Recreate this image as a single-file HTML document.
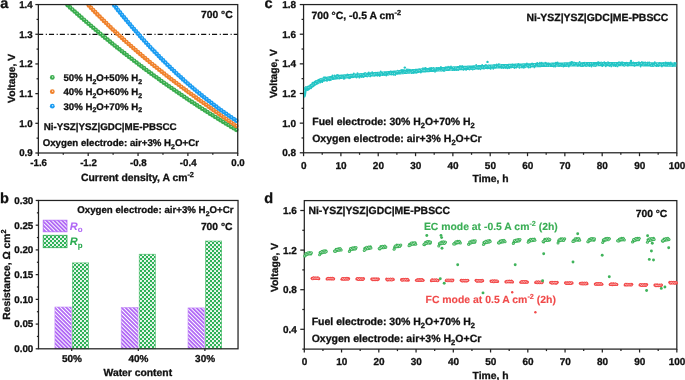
<!DOCTYPE html>
<html><head><meta charset="utf-8"><style>
html,body{margin:0;padding:0;background:#fff;}
svg{display:block;will-change:transform;}
text{font-family:"Liberation Sans", sans-serif;text-rendering:geometricPrecision;}
</style></head><body>
<svg width="685" height="380" viewBox="0 0 685 380" font-family="Liberation Sans, sans-serif">
<rect width="685" height="380" fill="#fff"/>
<line x1="38.08" y1="34.36" x2="237.73" y2="34.36" stroke="#111" stroke-width="1.2" stroke-dasharray="5.1 2.6 1.1 2.07"/>
<g>
<circle cx="67.70" cy="5.30" r="2.3" fill="#3aad4e"/>
<circle cx="70.02" cy="7.40" r="2.3" fill="#3aad4e"/>
<circle cx="72.30" cy="9.44" r="2.3" fill="#3aad4e"/>
<circle cx="74.61" cy="11.52" r="2.3" fill="#3aad4e"/>
<circle cx="76.93" cy="13.58" r="2.3" fill="#3aad4e"/>
<circle cx="79.21" cy="15.59" r="2.3" fill="#3aad4e"/>
<circle cx="81.53" cy="17.63" r="2.3" fill="#3aad4e"/>
<circle cx="83.89" cy="19.69" r="2.3" fill="#3aad4e"/>
<circle cx="86.21" cy="21.70" r="2.3" fill="#3aad4e"/>
<circle cx="88.53" cy="23.71" r="2.3" fill="#3aad4e"/>
<circle cx="90.89" cy="25.73" r="2.3" fill="#3aad4e"/>
<circle cx="93.25" cy="27.75" r="2.3" fill="#3aad4e"/>
<circle cx="95.61" cy="29.75" r="2.3" fill="#3aad4e"/>
<circle cx="97.97" cy="31.74" r="2.3" fill="#3aad4e"/>
<circle cx="100.33" cy="33.71" r="2.3" fill="#3aad4e"/>
<circle cx="102.69" cy="35.68" r="2.3" fill="#3aad4e"/>
<circle cx="105.05" cy="37.63" r="2.3" fill="#3aad4e"/>
<circle cx="107.46" cy="39.61" r="2.3" fill="#3aad4e"/>
<circle cx="109.86" cy="41.58" r="2.3" fill="#3aad4e"/>
<circle cx="112.22" cy="43.49" r="2.3" fill="#3aad4e"/>
<circle cx="114.62" cy="45.43" r="2.3" fill="#3aad4e"/>
<circle cx="117.07" cy="47.40" r="2.3" fill="#3aad4e"/>
<circle cx="119.47" cy="49.31" r="2.3" fill="#3aad4e"/>
<circle cx="121.88" cy="51.22" r="2.3" fill="#3aad4e"/>
<circle cx="124.32" cy="53.15" r="2.3" fill="#3aad4e"/>
<circle cx="126.72" cy="55.03" r="2.3" fill="#3aad4e"/>
<circle cx="129.17" cy="56.93" r="2.3" fill="#3aad4e"/>
<circle cx="131.62" cy="58.82" r="2.3" fill="#3aad4e"/>
<circle cx="134.06" cy="60.70" r="2.3" fill="#3aad4e"/>
<circle cx="136.51" cy="62.57" r="2.3" fill="#3aad4e"/>
<circle cx="138.99" cy="64.46" r="2.3" fill="#3aad4e"/>
<circle cx="141.44" cy="66.30" r="2.3" fill="#3aad4e"/>
<circle cx="143.93" cy="68.17" r="2.3" fill="#3aad4e"/>
<circle cx="146.37" cy="69.99" r="2.3" fill="#3aad4e"/>
<circle cx="148.86" cy="71.83" r="2.3" fill="#3aad4e"/>
<circle cx="151.35" cy="73.66" r="2.3" fill="#3aad4e"/>
<circle cx="153.83" cy="75.48" r="2.3" fill="#3aad4e"/>
<circle cx="156.36" cy="77.32" r="2.3" fill="#3aad4e"/>
<circle cx="158.85" cy="79.12" r="2.3" fill="#3aad4e"/>
<circle cx="161.38" cy="80.93" r="2.3" fill="#3aad4e"/>
<circle cx="163.87" cy="82.70" r="2.3" fill="#3aad4e"/>
<circle cx="166.40" cy="84.50" r="2.3" fill="#3aad4e"/>
<circle cx="168.93" cy="86.28" r="2.3" fill="#3aad4e"/>
<circle cx="171.46" cy="88.05" r="2.3" fill="#3aad4e"/>
<circle cx="173.99" cy="89.81" r="2.3" fill="#3aad4e"/>
<circle cx="176.52" cy="91.55" r="2.3" fill="#3aad4e"/>
<circle cx="179.09" cy="93.32" r="2.3" fill="#3aad4e"/>
<circle cx="181.62" cy="95.04" r="2.3" fill="#3aad4e"/>
<circle cx="184.19" cy="96.79" r="2.3" fill="#3aad4e"/>
<circle cx="186.72" cy="98.49" r="2.3" fill="#3aad4e"/>
<circle cx="189.29" cy="100.21" r="2.3" fill="#3aad4e"/>
<circle cx="191.86" cy="101.92" r="2.3" fill="#3aad4e"/>
<circle cx="194.43" cy="103.62" r="2.3" fill="#3aad4e"/>
<circle cx="197.05" cy="105.33" r="2.3" fill="#3aad4e"/>
<circle cx="199.62" cy="107.01" r="2.3" fill="#3aad4e"/>
<circle cx="202.19" cy="108.68" r="2.3" fill="#3aad4e"/>
<circle cx="204.81" cy="110.36" r="2.3" fill="#3aad4e"/>
<circle cx="207.42" cy="112.04" r="2.3" fill="#3aad4e"/>
<circle cx="210.03" cy="113.70" r="2.3" fill="#3aad4e"/>
<circle cx="212.61" cy="115.32" r="2.3" fill="#3aad4e"/>
<circle cx="215.22" cy="116.96" r="2.3" fill="#3aad4e"/>
<circle cx="217.88" cy="118.62" r="2.3" fill="#3aad4e"/>
<circle cx="220.49" cy="120.24" r="2.3" fill="#3aad4e"/>
<circle cx="223.10" cy="121.85" r="2.3" fill="#3aad4e"/>
<circle cx="225.76" cy="123.48" r="2.3" fill="#3aad4e"/>
<circle cx="228.37" cy="125.07" r="2.3" fill="#3aad4e"/>
<circle cx="231.03" cy="126.68" r="2.3" fill="#3aad4e"/>
<circle cx="233.69" cy="128.27" r="2.3" fill="#3aad4e"/>
<circle cx="236.30" cy="129.83" r="2.3" fill="#3aad4e"/>
<circle cx="67.90" cy="5.00" r="0.55" fill="#fff" fill-opacity="0.7"/>
<circle cx="70.22" cy="7.10" r="0.55" fill="#fff" fill-opacity="0.7"/>
<circle cx="72.50" cy="9.14" r="0.55" fill="#fff" fill-opacity="0.7"/>
<circle cx="74.81" cy="11.22" r="0.55" fill="#fff" fill-opacity="0.7"/>
<circle cx="77.13" cy="13.28" r="0.55" fill="#fff" fill-opacity="0.7"/>
<circle cx="79.41" cy="15.29" r="0.55" fill="#fff" fill-opacity="0.7"/>
<circle cx="81.73" cy="17.33" r="0.55" fill="#fff" fill-opacity="0.7"/>
<circle cx="84.09" cy="19.39" r="0.55" fill="#fff" fill-opacity="0.7"/>
<circle cx="86.41" cy="21.40" r="0.55" fill="#fff" fill-opacity="0.7"/>
<circle cx="88.73" cy="23.41" r="0.55" fill="#fff" fill-opacity="0.7"/>
<circle cx="91.09" cy="25.43" r="0.55" fill="#fff" fill-opacity="0.7"/>
<circle cx="93.45" cy="27.45" r="0.55" fill="#fff" fill-opacity="0.7"/>
<circle cx="95.81" cy="29.45" r="0.55" fill="#fff" fill-opacity="0.7"/>
<circle cx="98.17" cy="31.44" r="0.55" fill="#fff" fill-opacity="0.7"/>
<circle cx="100.53" cy="33.41" r="0.55" fill="#fff" fill-opacity="0.7"/>
<circle cx="102.89" cy="35.38" r="0.55" fill="#fff" fill-opacity="0.7"/>
<circle cx="105.25" cy="37.33" r="0.55" fill="#fff" fill-opacity="0.7"/>
<circle cx="107.66" cy="39.31" r="0.55" fill="#fff" fill-opacity="0.7"/>
<circle cx="110.06" cy="41.28" r="0.55" fill="#fff" fill-opacity="0.7"/>
<circle cx="112.42" cy="43.19" r="0.55" fill="#fff" fill-opacity="0.7"/>
<circle cx="114.82" cy="45.13" r="0.55" fill="#fff" fill-opacity="0.7"/>
<circle cx="117.27" cy="47.10" r="0.55" fill="#fff" fill-opacity="0.7"/>
<circle cx="119.67" cy="49.01" r="0.55" fill="#fff" fill-opacity="0.7"/>
<circle cx="122.08" cy="50.92" r="0.55" fill="#fff" fill-opacity="0.7"/>
<circle cx="124.52" cy="52.85" r="0.55" fill="#fff" fill-opacity="0.7"/>
<circle cx="126.92" cy="54.73" r="0.55" fill="#fff" fill-opacity="0.7"/>
<circle cx="129.37" cy="56.63" r="0.55" fill="#fff" fill-opacity="0.7"/>
<circle cx="131.82" cy="58.52" r="0.55" fill="#fff" fill-opacity="0.7"/>
<circle cx="134.26" cy="60.40" r="0.55" fill="#fff" fill-opacity="0.7"/>
<circle cx="136.71" cy="62.27" r="0.55" fill="#fff" fill-opacity="0.7"/>
<circle cx="139.19" cy="64.16" r="0.55" fill="#fff" fill-opacity="0.7"/>
<circle cx="141.64" cy="66.00" r="0.55" fill="#fff" fill-opacity="0.7"/>
<circle cx="144.13" cy="67.87" r="0.55" fill="#fff" fill-opacity="0.7"/>
<circle cx="146.57" cy="69.69" r="0.55" fill="#fff" fill-opacity="0.7"/>
<circle cx="149.06" cy="71.53" r="0.55" fill="#fff" fill-opacity="0.7"/>
<circle cx="151.55" cy="73.36" r="0.55" fill="#fff" fill-opacity="0.7"/>
<circle cx="154.03" cy="75.18" r="0.55" fill="#fff" fill-opacity="0.7"/>
<circle cx="156.56" cy="77.02" r="0.55" fill="#fff" fill-opacity="0.7"/>
<circle cx="159.05" cy="78.82" r="0.55" fill="#fff" fill-opacity="0.7"/>
<circle cx="161.58" cy="80.63" r="0.55" fill="#fff" fill-opacity="0.7"/>
<circle cx="164.07" cy="82.40" r="0.55" fill="#fff" fill-opacity="0.7"/>
<circle cx="166.60" cy="84.20" r="0.55" fill="#fff" fill-opacity="0.7"/>
<circle cx="169.13" cy="85.98" r="0.55" fill="#fff" fill-opacity="0.7"/>
<circle cx="171.66" cy="87.75" r="0.55" fill="#fff" fill-opacity="0.7"/>
<circle cx="174.19" cy="89.51" r="0.55" fill="#fff" fill-opacity="0.7"/>
<circle cx="176.72" cy="91.25" r="0.55" fill="#fff" fill-opacity="0.7"/>
<circle cx="179.29" cy="93.02" r="0.55" fill="#fff" fill-opacity="0.7"/>
<circle cx="181.82" cy="94.74" r="0.55" fill="#fff" fill-opacity="0.7"/>
<circle cx="184.39" cy="96.49" r="0.55" fill="#fff" fill-opacity="0.7"/>
<circle cx="186.92" cy="98.19" r="0.55" fill="#fff" fill-opacity="0.7"/>
<circle cx="189.49" cy="99.91" r="0.55" fill="#fff" fill-opacity="0.7"/>
<circle cx="192.06" cy="101.62" r="0.55" fill="#fff" fill-opacity="0.7"/>
<circle cx="194.63" cy="103.32" r="0.55" fill="#fff" fill-opacity="0.7"/>
<circle cx="197.25" cy="105.03" r="0.55" fill="#fff" fill-opacity="0.7"/>
<circle cx="199.82" cy="106.71" r="0.55" fill="#fff" fill-opacity="0.7"/>
<circle cx="202.39" cy="108.38" r="0.55" fill="#fff" fill-opacity="0.7"/>
<circle cx="205.01" cy="110.06" r="0.55" fill="#fff" fill-opacity="0.7"/>
<circle cx="207.62" cy="111.74" r="0.55" fill="#fff" fill-opacity="0.7"/>
<circle cx="210.23" cy="113.40" r="0.55" fill="#fff" fill-opacity="0.7"/>
<circle cx="212.81" cy="115.02" r="0.55" fill="#fff" fill-opacity="0.7"/>
<circle cx="215.42" cy="116.66" r="0.55" fill="#fff" fill-opacity="0.7"/>
<circle cx="218.08" cy="118.32" r="0.55" fill="#fff" fill-opacity="0.7"/>
<circle cx="220.69" cy="119.94" r="0.55" fill="#fff" fill-opacity="0.7"/>
<circle cx="223.30" cy="121.55" r="0.55" fill="#fff" fill-opacity="0.7"/>
<circle cx="225.96" cy="123.18" r="0.55" fill="#fff" fill-opacity="0.7"/>
<circle cx="228.57" cy="124.77" r="0.55" fill="#fff" fill-opacity="0.7"/>
<circle cx="231.23" cy="126.38" r="0.55" fill="#fff" fill-opacity="0.7"/>
<circle cx="233.89" cy="127.97" r="0.55" fill="#fff" fill-opacity="0.7"/>
<circle cx="236.50" cy="129.53" r="0.55" fill="#fff" fill-opacity="0.7"/>
<circle cx="88.80" cy="5.52" r="2.3" fill="#f0822c"/>
<circle cx="90.94" cy="7.76" r="2.3" fill="#f0822c"/>
<circle cx="93.08" cy="9.97" r="2.3" fill="#f0822c"/>
<circle cx="95.22" cy="12.17" r="2.3" fill="#f0822c"/>
<circle cx="97.39" cy="14.38" r="2.3" fill="#f0822c"/>
<circle cx="99.57" cy="16.57" r="2.3" fill="#f0822c"/>
<circle cx="101.75" cy="18.74" r="2.3" fill="#f0822c"/>
<circle cx="103.92" cy="20.89" r="2.3" fill="#f0822c"/>
<circle cx="106.14" cy="23.06" r="2.3" fill="#f0822c"/>
<circle cx="108.35" cy="25.20" r="2.3" fill="#f0822c"/>
<circle cx="110.56" cy="27.33" r="2.3" fill="#f0822c"/>
<circle cx="112.77" cy="29.43" r="2.3" fill="#f0822c"/>
<circle cx="115.02" cy="31.56" r="2.3" fill="#f0822c"/>
<circle cx="117.27" cy="33.66" r="2.3" fill="#f0822c"/>
<circle cx="119.52" cy="35.74" r="2.3" fill="#f0822c"/>
<circle cx="121.81" cy="37.84" r="2.3" fill="#f0822c"/>
<circle cx="124.06" cy="39.89" r="2.3" fill="#f0822c"/>
<circle cx="126.35" cy="41.95" r="2.3" fill="#f0822c"/>
<circle cx="128.67" cy="44.02" r="2.3" fill="#f0822c"/>
<circle cx="130.96" cy="46.04" r="2.3" fill="#f0822c"/>
<circle cx="133.28" cy="48.08" r="2.3" fill="#f0822c"/>
<circle cx="135.61" cy="50.10" r="2.3" fill="#f0822c"/>
<circle cx="137.93" cy="52.11" r="2.3" fill="#f0822c"/>
<circle cx="140.25" cy="54.09" r="2.3" fill="#f0822c"/>
<circle cx="142.61" cy="56.09" r="2.3" fill="#f0822c"/>
<circle cx="144.97" cy="58.08" r="2.3" fill="#f0822c"/>
<circle cx="147.34" cy="60.04" r="2.3" fill="#f0822c"/>
<circle cx="149.70" cy="62.00" r="2.3" fill="#f0822c"/>
<circle cx="152.09" cy="63.96" r="2.3" fill="#f0822c"/>
<circle cx="154.45" cy="65.88" r="2.3" fill="#f0822c"/>
<circle cx="156.85" cy="67.82" r="2.3" fill="#f0822c"/>
<circle cx="159.25" cy="69.73" r="2.3" fill="#f0822c"/>
<circle cx="161.68" cy="71.67" r="2.3" fill="#f0822c"/>
<circle cx="164.08" cy="73.56" r="2.3" fill="#f0822c"/>
<circle cx="166.52" cy="75.47" r="2.3" fill="#f0822c"/>
<circle cx="168.95" cy="77.36" r="2.3" fill="#f0822c"/>
<circle cx="171.38" cy="79.24" r="2.3" fill="#f0822c"/>
<circle cx="173.82" cy="81.10" r="2.3" fill="#f0822c"/>
<circle cx="176.29" cy="82.98" r="2.3" fill="#f0822c"/>
<circle cx="178.72" cy="84.82" r="2.3" fill="#f0822c"/>
<circle cx="181.19" cy="86.68" r="2.3" fill="#f0822c"/>
<circle cx="183.67" cy="88.53" r="2.3" fill="#f0822c"/>
<circle cx="186.14" cy="90.36" r="2.3" fill="#f0822c"/>
<circle cx="188.61" cy="92.19" r="2.3" fill="#f0822c"/>
<circle cx="191.08" cy="94.00" r="2.3" fill="#f0822c"/>
<circle cx="193.55" cy="95.80" r="2.3" fill="#f0822c"/>
<circle cx="196.06" cy="97.63" r="2.3" fill="#f0822c"/>
<circle cx="198.53" cy="99.41" r="2.3" fill="#f0822c"/>
<circle cx="201.04" cy="101.22" r="2.3" fill="#f0822c"/>
<circle cx="203.55" cy="103.01" r="2.3" fill="#f0822c"/>
<circle cx="206.05" cy="104.80" r="2.3" fill="#f0822c"/>
<circle cx="208.56" cy="106.58" r="2.3" fill="#f0822c"/>
<circle cx="211.07" cy="108.36" r="2.3" fill="#f0822c"/>
<circle cx="213.58" cy="110.13" r="2.3" fill="#f0822c"/>
<circle cx="216.12" cy="111.91" r="2.3" fill="#f0822c"/>
<circle cx="218.63" cy="113.67" r="2.3" fill="#f0822c"/>
<circle cx="221.14" cy="115.43" r="2.3" fill="#f0822c"/>
<circle cx="223.69" cy="117.20" r="2.3" fill="#f0822c"/>
<circle cx="226.19" cy="118.94" r="2.3" fill="#f0822c"/>
<circle cx="228.74" cy="120.71" r="2.3" fill="#f0822c"/>
<circle cx="231.25" cy="122.45" r="2.3" fill="#f0822c"/>
<circle cx="233.79" cy="124.21" r="2.3" fill="#f0822c"/>
<circle cx="236.30" cy="125.94" r="2.3" fill="#f0822c"/>
<circle cx="89.00" cy="5.22" r="0.55" fill="#fff" fill-opacity="0.7"/>
<circle cx="91.14" cy="7.46" r="0.55" fill="#fff" fill-opacity="0.7"/>
<circle cx="93.28" cy="9.67" r="0.55" fill="#fff" fill-opacity="0.7"/>
<circle cx="95.42" cy="11.87" r="0.55" fill="#fff" fill-opacity="0.7"/>
<circle cx="97.59" cy="14.08" r="0.55" fill="#fff" fill-opacity="0.7"/>
<circle cx="99.77" cy="16.27" r="0.55" fill="#fff" fill-opacity="0.7"/>
<circle cx="101.95" cy="18.44" r="0.55" fill="#fff" fill-opacity="0.7"/>
<circle cx="104.12" cy="20.59" r="0.55" fill="#fff" fill-opacity="0.7"/>
<circle cx="106.34" cy="22.76" r="0.55" fill="#fff" fill-opacity="0.7"/>
<circle cx="108.55" cy="24.90" r="0.55" fill="#fff" fill-opacity="0.7"/>
<circle cx="110.76" cy="27.03" r="0.55" fill="#fff" fill-opacity="0.7"/>
<circle cx="112.97" cy="29.13" r="0.55" fill="#fff" fill-opacity="0.7"/>
<circle cx="115.22" cy="31.26" r="0.55" fill="#fff" fill-opacity="0.7"/>
<circle cx="117.47" cy="33.36" r="0.55" fill="#fff" fill-opacity="0.7"/>
<circle cx="119.72" cy="35.44" r="0.55" fill="#fff" fill-opacity="0.7"/>
<circle cx="122.01" cy="37.54" r="0.55" fill="#fff" fill-opacity="0.7"/>
<circle cx="124.26" cy="39.59" r="0.55" fill="#fff" fill-opacity="0.7"/>
<circle cx="126.55" cy="41.65" r="0.55" fill="#fff" fill-opacity="0.7"/>
<circle cx="128.87" cy="43.72" r="0.55" fill="#fff" fill-opacity="0.7"/>
<circle cx="131.16" cy="45.74" r="0.55" fill="#fff" fill-opacity="0.7"/>
<circle cx="133.48" cy="47.78" r="0.55" fill="#fff" fill-opacity="0.7"/>
<circle cx="135.81" cy="49.80" r="0.55" fill="#fff" fill-opacity="0.7"/>
<circle cx="138.13" cy="51.81" r="0.55" fill="#fff" fill-opacity="0.7"/>
<circle cx="140.45" cy="53.79" r="0.55" fill="#fff" fill-opacity="0.7"/>
<circle cx="142.81" cy="55.79" r="0.55" fill="#fff" fill-opacity="0.7"/>
<circle cx="145.17" cy="57.78" r="0.55" fill="#fff" fill-opacity="0.7"/>
<circle cx="147.54" cy="59.74" r="0.55" fill="#fff" fill-opacity="0.7"/>
<circle cx="149.90" cy="61.70" r="0.55" fill="#fff" fill-opacity="0.7"/>
<circle cx="152.29" cy="63.66" r="0.55" fill="#fff" fill-opacity="0.7"/>
<circle cx="154.65" cy="65.58" r="0.55" fill="#fff" fill-opacity="0.7"/>
<circle cx="157.05" cy="67.52" r="0.55" fill="#fff" fill-opacity="0.7"/>
<circle cx="159.45" cy="69.43" r="0.55" fill="#fff" fill-opacity="0.7"/>
<circle cx="161.88" cy="71.37" r="0.55" fill="#fff" fill-opacity="0.7"/>
<circle cx="164.28" cy="73.26" r="0.55" fill="#fff" fill-opacity="0.7"/>
<circle cx="166.72" cy="75.17" r="0.55" fill="#fff" fill-opacity="0.7"/>
<circle cx="169.15" cy="77.06" r="0.55" fill="#fff" fill-opacity="0.7"/>
<circle cx="171.58" cy="78.94" r="0.55" fill="#fff" fill-opacity="0.7"/>
<circle cx="174.02" cy="80.80" r="0.55" fill="#fff" fill-opacity="0.7"/>
<circle cx="176.49" cy="82.68" r="0.55" fill="#fff" fill-opacity="0.7"/>
<circle cx="178.92" cy="84.52" r="0.55" fill="#fff" fill-opacity="0.7"/>
<circle cx="181.39" cy="86.38" r="0.55" fill="#fff" fill-opacity="0.7"/>
<circle cx="183.87" cy="88.23" r="0.55" fill="#fff" fill-opacity="0.7"/>
<circle cx="186.34" cy="90.06" r="0.55" fill="#fff" fill-opacity="0.7"/>
<circle cx="188.81" cy="91.89" r="0.55" fill="#fff" fill-opacity="0.7"/>
<circle cx="191.28" cy="93.70" r="0.55" fill="#fff" fill-opacity="0.7"/>
<circle cx="193.75" cy="95.50" r="0.55" fill="#fff" fill-opacity="0.7"/>
<circle cx="196.26" cy="97.33" r="0.55" fill="#fff" fill-opacity="0.7"/>
<circle cx="198.73" cy="99.11" r="0.55" fill="#fff" fill-opacity="0.7"/>
<circle cx="201.24" cy="100.92" r="0.55" fill="#fff" fill-opacity="0.7"/>
<circle cx="203.75" cy="102.71" r="0.55" fill="#fff" fill-opacity="0.7"/>
<circle cx="206.25" cy="104.50" r="0.55" fill="#fff" fill-opacity="0.7"/>
<circle cx="208.76" cy="106.28" r="0.55" fill="#fff" fill-opacity="0.7"/>
<circle cx="211.27" cy="108.06" r="0.55" fill="#fff" fill-opacity="0.7"/>
<circle cx="213.78" cy="109.83" r="0.55" fill="#fff" fill-opacity="0.7"/>
<circle cx="216.32" cy="111.61" r="0.55" fill="#fff" fill-opacity="0.7"/>
<circle cx="218.83" cy="113.37" r="0.55" fill="#fff" fill-opacity="0.7"/>
<circle cx="221.34" cy="115.13" r="0.55" fill="#fff" fill-opacity="0.7"/>
<circle cx="223.89" cy="116.90" r="0.55" fill="#fff" fill-opacity="0.7"/>
<circle cx="226.39" cy="118.64" r="0.55" fill="#fff" fill-opacity="0.7"/>
<circle cx="228.94" cy="120.41" r="0.55" fill="#fff" fill-opacity="0.7"/>
<circle cx="231.45" cy="122.15" r="0.55" fill="#fff" fill-opacity="0.7"/>
<circle cx="233.99" cy="123.91" r="0.55" fill="#fff" fill-opacity="0.7"/>
<circle cx="236.50" cy="125.64" r="0.55" fill="#fff" fill-opacity="0.7"/>
<circle cx="114.30" cy="5.41" r="2.3" fill="#1a9cf2"/>
<circle cx="116.22" cy="7.82" r="2.3" fill="#1a9cf2"/>
<circle cx="118.14" cy="10.21" r="2.3" fill="#1a9cf2"/>
<circle cx="120.07" cy="12.58" r="2.3" fill="#1a9cf2"/>
<circle cx="122.02" cy="14.96" r="2.3" fill="#1a9cf2"/>
<circle cx="123.97" cy="17.33" r="2.3" fill="#1a9cf2"/>
<circle cx="125.92" cy="19.67" r="2.3" fill="#1a9cf2"/>
<circle cx="127.91" cy="22.03" r="2.3" fill="#1a9cf2"/>
<circle cx="129.89" cy="24.37" r="2.3" fill="#1a9cf2"/>
<circle cx="131.87" cy="26.68" r="2.3" fill="#1a9cf2"/>
<circle cx="133.89" cy="29.01" r="2.3" fill="#1a9cf2"/>
<circle cx="135.90" cy="31.32" r="2.3" fill="#1a9cf2"/>
<circle cx="137.91" cy="33.61" r="2.3" fill="#1a9cf2"/>
<circle cx="139.96" cy="35.91" r="2.3" fill="#1a9cf2"/>
<circle cx="142.00" cy="38.18" r="2.3" fill="#1a9cf2"/>
<circle cx="144.08" cy="40.47" r="2.3" fill="#1a9cf2"/>
<circle cx="146.12" cy="42.70" r="2.3" fill="#1a9cf2"/>
<circle cx="148.22" cy="44.98" r="2.3" fill="#1a9cf2"/>
<circle cx="150.30" cy="47.20" r="2.3" fill="#1a9cf2"/>
<circle cx="152.40" cy="49.43" r="2.3" fill="#1a9cf2"/>
<circle cx="154.51" cy="51.64" r="2.3" fill="#1a9cf2"/>
<circle cx="156.64" cy="53.85" r="2.3" fill="#1a9cf2"/>
<circle cx="158.78" cy="56.05" r="2.3" fill="#1a9cf2"/>
<circle cx="160.95" cy="58.25" r="2.3" fill="#1a9cf2"/>
<circle cx="163.11" cy="60.42" r="2.3" fill="#1a9cf2"/>
<circle cx="165.28" cy="62.57" r="2.3" fill="#1a9cf2"/>
<circle cx="167.44" cy="64.70" r="2.3" fill="#1a9cf2"/>
<circle cx="169.67" cy="66.87" r="2.3" fill="#1a9cf2"/>
<circle cx="171.87" cy="68.98" r="2.3" fill="#1a9cf2"/>
<circle cx="174.09" cy="71.09" r="2.3" fill="#1a9cf2"/>
<circle cx="176.32" cy="73.18" r="2.3" fill="#1a9cf2"/>
<circle cx="178.58" cy="75.28" r="2.3" fill="#1a9cf2"/>
<circle cx="180.84" cy="77.35" r="2.3" fill="#1a9cf2"/>
<circle cx="183.09" cy="79.39" r="2.3" fill="#1a9cf2"/>
<circle cx="185.38" cy="81.44" r="2.3" fill="#1a9cf2"/>
<circle cx="187.67" cy="83.46" r="2.3" fill="#1a9cf2"/>
<circle cx="189.99" cy="85.48" r="2.3" fill="#1a9cf2"/>
<circle cx="192.31" cy="87.48" r="2.3" fill="#1a9cf2"/>
<circle cx="194.66" cy="89.47" r="2.3" fill="#1a9cf2"/>
<circle cx="197.01" cy="91.44" r="2.3" fill="#1a9cf2"/>
<circle cx="199.36" cy="93.39" r="2.3" fill="#1a9cf2"/>
<circle cx="201.73" cy="95.33" r="2.3" fill="#1a9cf2"/>
<circle cx="204.11" cy="97.25" r="2.3" fill="#1a9cf2"/>
<circle cx="206.52" cy="99.17" r="2.3" fill="#1a9cf2"/>
<circle cx="208.93" cy="101.05" r="2.3" fill="#1a9cf2"/>
<circle cx="211.34" cy="102.92" r="2.3" fill="#1a9cf2"/>
<circle cx="213.79" cy="104.77" r="2.3" fill="#1a9cf2"/>
<circle cx="216.23" cy="106.60" r="2.3" fill="#1a9cf2"/>
<circle cx="218.70" cy="108.43" r="2.3" fill="#1a9cf2"/>
<circle cx="221.17" cy="110.23" r="2.3" fill="#1a9cf2"/>
<circle cx="223.67" cy="112.02" r="2.3" fill="#1a9cf2"/>
<circle cx="226.17" cy="113.79" r="2.3" fill="#1a9cf2"/>
<circle cx="228.67" cy="115.53" r="2.3" fill="#1a9cf2"/>
<circle cx="231.21" cy="117.26" r="2.3" fill="#1a9cf2"/>
<circle cx="233.77" cy="118.98" r="2.3" fill="#1a9cf2"/>
<circle cx="236.30" cy="120.66" r="2.3" fill="#1a9cf2"/>
<circle cx="114.50" cy="5.11" r="0.55" fill="#fff" fill-opacity="0.7"/>
<circle cx="116.42" cy="7.52" r="0.55" fill="#fff" fill-opacity="0.7"/>
<circle cx="118.34" cy="9.91" r="0.55" fill="#fff" fill-opacity="0.7"/>
<circle cx="120.27" cy="12.28" r="0.55" fill="#fff" fill-opacity="0.7"/>
<circle cx="122.22" cy="14.66" r="0.55" fill="#fff" fill-opacity="0.7"/>
<circle cx="124.17" cy="17.03" r="0.55" fill="#fff" fill-opacity="0.7"/>
<circle cx="126.12" cy="19.37" r="0.55" fill="#fff" fill-opacity="0.7"/>
<circle cx="128.11" cy="21.73" r="0.55" fill="#fff" fill-opacity="0.7"/>
<circle cx="130.09" cy="24.07" r="0.55" fill="#fff" fill-opacity="0.7"/>
<circle cx="132.07" cy="26.38" r="0.55" fill="#fff" fill-opacity="0.7"/>
<circle cx="134.09" cy="28.71" r="0.55" fill="#fff" fill-opacity="0.7"/>
<circle cx="136.10" cy="31.02" r="0.55" fill="#fff" fill-opacity="0.7"/>
<circle cx="138.11" cy="33.31" r="0.55" fill="#fff" fill-opacity="0.7"/>
<circle cx="140.16" cy="35.61" r="0.55" fill="#fff" fill-opacity="0.7"/>
<circle cx="142.20" cy="37.88" r="0.55" fill="#fff" fill-opacity="0.7"/>
<circle cx="144.28" cy="40.17" r="0.55" fill="#fff" fill-opacity="0.7"/>
<circle cx="146.32" cy="42.40" r="0.55" fill="#fff" fill-opacity="0.7"/>
<circle cx="148.42" cy="44.68" r="0.55" fill="#fff" fill-opacity="0.7"/>
<circle cx="150.50" cy="46.90" r="0.55" fill="#fff" fill-opacity="0.7"/>
<circle cx="152.60" cy="49.13" r="0.55" fill="#fff" fill-opacity="0.7"/>
<circle cx="154.71" cy="51.34" r="0.55" fill="#fff" fill-opacity="0.7"/>
<circle cx="156.84" cy="53.55" r="0.55" fill="#fff" fill-opacity="0.7"/>
<circle cx="158.98" cy="55.75" r="0.55" fill="#fff" fill-opacity="0.7"/>
<circle cx="161.15" cy="57.95" r="0.55" fill="#fff" fill-opacity="0.7"/>
<circle cx="163.31" cy="60.12" r="0.55" fill="#fff" fill-opacity="0.7"/>
<circle cx="165.48" cy="62.27" r="0.55" fill="#fff" fill-opacity="0.7"/>
<circle cx="167.64" cy="64.40" r="0.55" fill="#fff" fill-opacity="0.7"/>
<circle cx="169.87" cy="66.57" r="0.55" fill="#fff" fill-opacity="0.7"/>
<circle cx="172.07" cy="68.68" r="0.55" fill="#fff" fill-opacity="0.7"/>
<circle cx="174.29" cy="70.79" r="0.55" fill="#fff" fill-opacity="0.7"/>
<circle cx="176.52" cy="72.88" r="0.55" fill="#fff" fill-opacity="0.7"/>
<circle cx="178.78" cy="74.98" r="0.55" fill="#fff" fill-opacity="0.7"/>
<circle cx="181.04" cy="77.05" r="0.55" fill="#fff" fill-opacity="0.7"/>
<circle cx="183.29" cy="79.09" r="0.55" fill="#fff" fill-opacity="0.7"/>
<circle cx="185.58" cy="81.14" r="0.55" fill="#fff" fill-opacity="0.7"/>
<circle cx="187.87" cy="83.16" r="0.55" fill="#fff" fill-opacity="0.7"/>
<circle cx="190.19" cy="85.18" r="0.55" fill="#fff" fill-opacity="0.7"/>
<circle cx="192.51" cy="87.18" r="0.55" fill="#fff" fill-opacity="0.7"/>
<circle cx="194.86" cy="89.17" r="0.55" fill="#fff" fill-opacity="0.7"/>
<circle cx="197.21" cy="91.14" r="0.55" fill="#fff" fill-opacity="0.7"/>
<circle cx="199.56" cy="93.09" r="0.55" fill="#fff" fill-opacity="0.7"/>
<circle cx="201.93" cy="95.03" r="0.55" fill="#fff" fill-opacity="0.7"/>
<circle cx="204.31" cy="96.95" r="0.55" fill="#fff" fill-opacity="0.7"/>
<circle cx="206.72" cy="98.87" r="0.55" fill="#fff" fill-opacity="0.7"/>
<circle cx="209.13" cy="100.75" r="0.55" fill="#fff" fill-opacity="0.7"/>
<circle cx="211.54" cy="102.62" r="0.55" fill="#fff" fill-opacity="0.7"/>
<circle cx="213.99" cy="104.47" r="0.55" fill="#fff" fill-opacity="0.7"/>
<circle cx="216.43" cy="106.30" r="0.55" fill="#fff" fill-opacity="0.7"/>
<circle cx="218.90" cy="108.13" r="0.55" fill="#fff" fill-opacity="0.7"/>
<circle cx="221.37" cy="109.93" r="0.55" fill="#fff" fill-opacity="0.7"/>
<circle cx="223.87" cy="111.72" r="0.55" fill="#fff" fill-opacity="0.7"/>
<circle cx="226.37" cy="113.49" r="0.55" fill="#fff" fill-opacity="0.7"/>
<circle cx="228.87" cy="115.23" r="0.55" fill="#fff" fill-opacity="0.7"/>
<circle cx="231.41" cy="116.96" r="0.55" fill="#fff" fill-opacity="0.7"/>
<circle cx="233.97" cy="118.68" r="0.55" fill="#fff" fill-opacity="0.7"/>
<circle cx="236.50" cy="120.36" r="0.55" fill="#fff" fill-opacity="0.7"/>
</g>
<rect x="38.36" y="0" width="199.37" height="4.57" fill="#fff"/>
<rect x="38.36" y="4.57" width="199.37" height="148.43" fill="none" stroke="#222" stroke-width="1.25"/>
<line x1="35.36" y1="153.00" x2="38.36" y2="153.00" stroke="#222" stroke-width="1.25" />
<text x="32.60" y="156.45" font-size="9.7" font-weight="bold" text-anchor="end" fill="#111" stroke="#111" stroke-width="0.3" >0.9</text>
<line x1="36.56" y1="138.16" x2="38.36" y2="138.16" stroke="#222" stroke-width="1.25" />
<line x1="35.36" y1="123.31" x2="38.36" y2="123.31" stroke="#222" stroke-width="1.25" />
<text x="32.60" y="126.76" font-size="9.7" font-weight="bold" text-anchor="end" fill="#111" stroke="#111" stroke-width="0.3" >1.0</text>
<line x1="36.56" y1="108.47" x2="38.36" y2="108.47" stroke="#222" stroke-width="1.25" />
<line x1="35.36" y1="93.63" x2="38.36" y2="93.63" stroke="#222" stroke-width="1.25" />
<text x="32.60" y="97.08" font-size="9.7" font-weight="bold" text-anchor="end" fill="#111" stroke="#111" stroke-width="0.3" >1.1</text>
<line x1="36.56" y1="78.79" x2="38.36" y2="78.79" stroke="#222" stroke-width="1.25" />
<line x1="35.36" y1="63.94" x2="38.36" y2="63.94" stroke="#222" stroke-width="1.25" />
<text x="32.60" y="67.39" font-size="9.7" font-weight="bold" text-anchor="end" fill="#111" stroke="#111" stroke-width="0.3" >1.2</text>
<line x1="36.56" y1="49.10" x2="38.36" y2="49.10" stroke="#222" stroke-width="1.25" />
<line x1="35.36" y1="34.26" x2="38.36" y2="34.26" stroke="#222" stroke-width="1.25" />
<text x="32.60" y="37.71" font-size="9.7" font-weight="bold" text-anchor="end" fill="#111" stroke="#111" stroke-width="0.3" >1.3</text>
<line x1="36.56" y1="19.41" x2="38.36" y2="19.41" stroke="#222" stroke-width="1.25" />
<line x1="35.36" y1="4.57" x2="38.36" y2="4.57" stroke="#222" stroke-width="1.25" />
<text x="32.60" y="8.02" font-size="9.7" font-weight="bold" text-anchor="end" fill="#111" stroke="#111" stroke-width="0.3" >1.4</text>
<line x1="38.36" y1="153.00" x2="38.36" y2="156.00" stroke="#222" stroke-width="1.25" />
<text x="38.66" y="166.20" font-size="9.7" font-weight="bold" text-anchor="middle" fill="#111" stroke="#111" stroke-width="0.3" >-1.6</text>
<line x1="63.28" y1="153.00" x2="63.28" y2="154.80" stroke="#222" stroke-width="1.25" />
<line x1="88.20" y1="153.00" x2="88.20" y2="156.00" stroke="#222" stroke-width="1.25" />
<text x="88.50" y="166.20" font-size="9.7" font-weight="bold" text-anchor="middle" fill="#111" stroke="#111" stroke-width="0.3" >-1.2</text>
<line x1="113.12" y1="153.00" x2="113.12" y2="154.80" stroke="#222" stroke-width="1.25" />
<line x1="138.05" y1="153.00" x2="138.05" y2="156.00" stroke="#222" stroke-width="1.25" />
<text x="138.35" y="166.20" font-size="9.7" font-weight="bold" text-anchor="middle" fill="#111" stroke="#111" stroke-width="0.3" >-0.8</text>
<line x1="162.97" y1="153.00" x2="162.97" y2="154.80" stroke="#222" stroke-width="1.25" />
<line x1="187.89" y1="153.00" x2="187.89" y2="156.00" stroke="#222" stroke-width="1.25" />
<text x="188.19" y="166.20" font-size="9.7" font-weight="bold" text-anchor="middle" fill="#111" stroke="#111" stroke-width="0.3" >-0.4</text>
<line x1="212.81" y1="153.00" x2="212.81" y2="154.80" stroke="#222" stroke-width="1.25" />
<line x1="237.73" y1="153.00" x2="237.73" y2="156.00" stroke="#222" stroke-width="1.25" />
<text x="238.03" y="166.20" font-size="9.7" font-weight="bold" text-anchor="middle" fill="#111" stroke="#111" stroke-width="0.3" >0.0</text>
<text x="0.30" y="7.80" font-size="14.5" font-weight="bold" text-anchor="start" fill="#111" stroke="#111" stroke-width="0.3" >a</text>
<text x="15.00" y="78.40" font-size="10.3" font-weight="bold" text-anchor="middle" fill="#111" stroke="#111" stroke-width="0.3" transform="rotate(-90 15 78.4)">Voltage, V</text>
<text x="81.00" y="181.20" font-size="10.4" font-weight="bold" text-anchor="start" fill="#111" stroke="#111" stroke-width="0.3" >Current density, A cm<tspan font-size="70%" dy="-4">-2</tspan></text>
<text x="232.60" y="17.80" font-size="10.3" font-weight="bold" text-anchor="end" fill="#111" stroke="#111" stroke-width="0.3" >700 °C</text>
<circle cx="52.3" cy="77.4" r="2.4" fill="#3aad4e"/><circle cx="52.6" cy="77.0" r="0.7" fill="#fff" fill-opacity="0.8"/>
<circle cx="52.3" cy="91.7" r="2.4" fill="#f0822c"/><circle cx="52.6" cy="91.3" r="0.7" fill="#fff" fill-opacity="0.8"/>
<circle cx="52.3" cy="106.2" r="2.4" fill="#1a9cf2"/><circle cx="52.6" cy="105.8" r="0.7" fill="#fff" fill-opacity="0.8"/>
<text x="63.50" y="80.90" font-size="9.65" font-weight="bold" text-anchor="start" fill="#111" stroke="#111" stroke-width="0.3" >50% H<tspan font-size="72%" dy="2.8">2</tspan><tspan dy="-2.8">O</tspan>+50% H<tspan font-size="72%" dy="2.8">2</tspan></text>
<text x="63.50" y="95.10" font-size="9.65" font-weight="bold" text-anchor="start" fill="#111" stroke="#111" stroke-width="0.3" >40% H<tspan font-size="72%" dy="2.8">2</tspan><tspan dy="-2.8">O</tspan>+60% H<tspan font-size="72%" dy="2.8">2</tspan></text>
<text x="63.50" y="109.60" font-size="9.65" font-weight="bold" text-anchor="start" fill="#111" stroke="#111" stroke-width="0.3" >30% H<tspan font-size="72%" dy="2.8">2</tspan><tspan dy="-2.8">O</tspan>+70% H<tspan font-size="72%" dy="2.8">2</tspan></text>
<text x="43.80" y="130.30" font-size="9.76" font-weight="bold" text-anchor="start" fill="#111" stroke="#111" stroke-width="0.3" >Ni-YSZ|YSZ|GDC|ME-PBSCC</text>
<text x="42.70" y="146.40" font-size="9.7" font-weight="bold" text-anchor="start" fill="#111" stroke="#111" stroke-width="0.3" >Oxygen electrode: air+3% H<tspan font-size="72%" dy="2.8">2</tspan><tspan dy="-2.8">O</tspan>+Cr</text>
<defs>
<pattern id="pstripe" patternUnits="userSpaceOnUse" width="2.78" height="2.78" patternTransform="rotate(-45)">
<rect width="2.78" height="2.78" fill="#b169f5"/><rect x="0" y="0" width="0.95" height="2.78" fill="#fff"/></pattern>
<pattern id="gcross" patternUnits="userSpaceOnUse" x="0" y="0" width="4" height="4">
<rect width="4" height="4" fill="#2db157"/><circle cx="1" cy="1" r="1.05" fill="#fff"/><circle cx="3" cy="3" r="1.05" fill="#fff"/></pattern>
</defs>
<rect x="54.9" y="307.0" width="16.40" height="41.80" fill="url(#pstripe)" stroke="#c690f7" stroke-width="0.6"/>
<rect x="72.39999999999999" y="262.90000000000003" width="16.30" height="85.90" fill="url(#gcross)" stroke="#4cbd6c" stroke-width="0.6"/>
<rect x="121.2" y="307.4" width="16.80" height="41.40" fill="url(#pstripe)" stroke="#c690f7" stroke-width="0.6"/>
<rect x="139.20000000000002" y="254.20000000000002" width="16.10" height="94.60" fill="url(#gcross)" stroke="#4cbd6c" stroke-width="0.6"/>
<rect x="188.0" y="307.9" width="16.30" height="40.90" fill="url(#pstripe)" stroke="#c690f7" stroke-width="0.6"/>
<rect x="205.5" y="241.0" width="16.20" height="107.80" fill="url(#gcross)" stroke="#4cbd6c" stroke-width="0.6"/>
<rect x="38.50" y="200.47" width="199.54" height="148.33" fill="none" stroke="#222" stroke-width="1.25"/>
<line x1="35.70" y1="348.80" x2="38.50" y2="348.80" stroke="#222" stroke-width="1.25" />
<text x="33.30" y="352.20" font-size="9.8" font-weight="bold" text-anchor="end" fill="#111" stroke="#111" stroke-width="0.3" >0.00</text>
<line x1="36.90" y1="336.44" x2="38.50" y2="336.44" stroke="#222" stroke-width="1.25" />
<line x1="35.70" y1="324.08" x2="38.50" y2="324.08" stroke="#222" stroke-width="1.25" />
<text x="33.30" y="327.48" font-size="9.8" font-weight="bold" text-anchor="end" fill="#111" stroke="#111" stroke-width="0.3" >0.05</text>
<line x1="36.90" y1="311.72" x2="38.50" y2="311.72" stroke="#222" stroke-width="1.25" />
<line x1="35.70" y1="299.36" x2="38.50" y2="299.36" stroke="#222" stroke-width="1.25" />
<text x="33.30" y="302.76" font-size="9.8" font-weight="bold" text-anchor="end" fill="#111" stroke="#111" stroke-width="0.3" >0.10</text>
<line x1="36.90" y1="287.00" x2="38.50" y2="287.00" stroke="#222" stroke-width="1.25" />
<line x1="35.70" y1="274.63" x2="38.50" y2="274.63" stroke="#222" stroke-width="1.25" />
<text x="33.30" y="278.03" font-size="9.8" font-weight="bold" text-anchor="end" fill="#111" stroke="#111" stroke-width="0.3" >0.15</text>
<line x1="36.90" y1="262.27" x2="38.50" y2="262.27" stroke="#222" stroke-width="1.25" />
<line x1="35.70" y1="249.91" x2="38.50" y2="249.91" stroke="#222" stroke-width="1.25" />
<text x="33.30" y="253.31" font-size="9.8" font-weight="bold" text-anchor="end" fill="#111" stroke="#111" stroke-width="0.3" >0.20</text>
<line x1="36.90" y1="237.55" x2="38.50" y2="237.55" stroke="#222" stroke-width="1.25" />
<line x1="35.70" y1="225.19" x2="38.50" y2="225.19" stroke="#222" stroke-width="1.25" />
<text x="33.30" y="228.59" font-size="9.8" font-weight="bold" text-anchor="end" fill="#111" stroke="#111" stroke-width="0.3" >0.25</text>
<line x1="36.90" y1="212.83" x2="38.50" y2="212.83" stroke="#222" stroke-width="1.25" />
<line x1="35.70" y1="200.47" x2="38.50" y2="200.47" stroke="#222" stroke-width="1.25" />
<text x="33.30" y="203.87" font-size="9.8" font-weight="bold" text-anchor="end" fill="#111" stroke="#111" stroke-width="0.3" >0.30</text>
<line x1="71.70" y1="348.80" x2="71.70" y2="351.00" stroke="#222" stroke-width="1.25" />
<text x="71.90" y="362.20" font-size="10.0" font-weight="bold" text-anchor="middle" fill="#111" stroke="#111" stroke-width="0.3" >50%</text>
<line x1="138.30" y1="348.80" x2="138.30" y2="351.00" stroke="#222" stroke-width="1.25" />
<text x="138.50" y="362.20" font-size="10.0" font-weight="bold" text-anchor="middle" fill="#111" stroke="#111" stroke-width="0.3" >40%</text>
<line x1="204.90" y1="348.80" x2="204.90" y2="351.00" stroke="#222" stroke-width="1.25" />
<text x="205.10" y="362.20" font-size="10.0" font-weight="bold" text-anchor="middle" fill="#111" stroke="#111" stroke-width="0.3" >30%</text>
<text x="0.00" y="202.60" font-size="14.5" font-weight="bold" text-anchor="start" fill="#111" stroke="#111" stroke-width="0.3" >b</text>
<text x="10.20" y="274.60" font-size="10.3" font-weight="bold" text-anchor="middle" fill="#111" stroke="#111" stroke-width="0.3" transform="rotate(-90 10.2 274.6)">Resistance, Ω cm<tspan font-size="70%" dy="-4">2</tspan></text>
<text x="103.50" y="375.60" font-size="10.35" font-weight="bold" text-anchor="start" fill="#111" stroke="#111" stroke-width="0.3" >Water content</text>
<text x="233.50" y="212.90" font-size="9.7" font-weight="bold" text-anchor="end" fill="#111" stroke="#111" stroke-width="0.3" >Oxygen electrode: air+3% H<tspan font-size="72%" dy="2.8">2</tspan><tspan dy="-2.8">O</tspan>+Cr</text>
<text x="232.50" y="229.50" font-size="10.3" font-weight="bold" text-anchor="end" fill="#111" stroke="#111" stroke-width="0.3" >700 °C</text>
<rect x="43.2" y="220.2" width="23.8" height="11.6" fill="url(#pstripe)" stroke="#b169f5" stroke-width="0.8"/>
<rect x="43.2" y="235.3" width="23.8" height="12.4" fill="url(#gcross)" stroke="#2aaa4f" stroke-width="0.8"/>
<text x="69.80" y="229.50" font-size="11.0" font-weight="bold" text-anchor="start" fill="#b169f5" stroke="#b169f5" stroke-width="0.05" ><tspan font-style="italic">R</tspan><tspan font-size="72%" dy="2.6">o</tspan></text>
<text x="69.80" y="245.00" font-size="11.0" font-weight="bold" text-anchor="start" fill="#2aaa4f" stroke="#2aaa4f" stroke-width="0.05" ><tspan font-style="italic">R</tspan><tspan font-size="72%" dy="2.6">p</tspan></text>
<rect x="303.57" y="4.57" width="373.26" height="148.21" fill="none" stroke="#222" stroke-width="1.25"/>
<line x1="299.77" y1="152.78" x2="303.57" y2="152.78" stroke="#222" stroke-width="1.25" />
<text x="296.20" y="156.28" font-size="10.0" font-weight="bold" text-anchor="end" fill="#111" stroke="#111" stroke-width="0.3" >0.8</text>
<line x1="301.57" y1="137.96" x2="303.57" y2="137.96" stroke="#222" stroke-width="1.25" />
<line x1="299.77" y1="123.14" x2="303.57" y2="123.14" stroke="#222" stroke-width="1.25" />
<text x="296.20" y="126.64" font-size="10.0" font-weight="bold" text-anchor="end" fill="#111" stroke="#111" stroke-width="0.3" >1.0</text>
<line x1="301.57" y1="108.32" x2="303.57" y2="108.32" stroke="#222" stroke-width="1.25" />
<line x1="299.77" y1="93.50" x2="303.57" y2="93.50" stroke="#222" stroke-width="1.25" />
<text x="296.20" y="97.00" font-size="10.0" font-weight="bold" text-anchor="end" fill="#111" stroke="#111" stroke-width="0.3" >1.2</text>
<line x1="301.57" y1="78.67" x2="303.57" y2="78.67" stroke="#222" stroke-width="1.25" />
<line x1="299.77" y1="63.85" x2="303.57" y2="63.85" stroke="#222" stroke-width="1.25" />
<text x="296.20" y="67.35" font-size="10.0" font-weight="bold" text-anchor="end" fill="#111" stroke="#111" stroke-width="0.3" >1.4</text>
<line x1="301.57" y1="49.03" x2="303.57" y2="49.03" stroke="#222" stroke-width="1.25" />
<line x1="299.77" y1="34.21" x2="303.57" y2="34.21" stroke="#222" stroke-width="1.25" />
<text x="296.20" y="37.71" font-size="10.0" font-weight="bold" text-anchor="end" fill="#111" stroke="#111" stroke-width="0.3" >1.6</text>
<line x1="301.57" y1="19.39" x2="303.57" y2="19.39" stroke="#222" stroke-width="1.25" />
<line x1="299.77" y1="4.57" x2="303.57" y2="4.57" stroke="#222" stroke-width="1.25" />
<text x="296.20" y="8.07" font-size="10.0" font-weight="bold" text-anchor="end" fill="#111" stroke="#111" stroke-width="0.3" >1.8</text>
<line x1="303.57" y1="152.78" x2="303.57" y2="156.18" stroke="#222" stroke-width="1.25" />
<text x="303.77" y="169.00" font-size="10.0" font-weight="bold" text-anchor="middle" fill="#111" stroke="#111" stroke-width="0.3" >0</text>
<line x1="322.23" y1="152.78" x2="322.23" y2="154.78" stroke="#222" stroke-width="1.25" />
<line x1="340.90" y1="152.78" x2="340.90" y2="156.18" stroke="#222" stroke-width="1.25" />
<text x="341.10" y="169.00" font-size="10.0" font-weight="bold" text-anchor="middle" fill="#111" stroke="#111" stroke-width="0.3" >10</text>
<line x1="359.56" y1="152.78" x2="359.56" y2="154.78" stroke="#222" stroke-width="1.25" />
<line x1="378.22" y1="152.78" x2="378.22" y2="156.18" stroke="#222" stroke-width="1.25" />
<text x="378.42" y="169.00" font-size="10.0" font-weight="bold" text-anchor="middle" fill="#111" stroke="#111" stroke-width="0.3" >20</text>
<line x1="396.88" y1="152.78" x2="396.88" y2="154.78" stroke="#222" stroke-width="1.25" />
<line x1="415.55" y1="152.78" x2="415.55" y2="156.18" stroke="#222" stroke-width="1.25" />
<text x="415.75" y="169.00" font-size="10.0" font-weight="bold" text-anchor="middle" fill="#111" stroke="#111" stroke-width="0.3" >30</text>
<line x1="434.21" y1="152.78" x2="434.21" y2="154.78" stroke="#222" stroke-width="1.25" />
<line x1="452.87" y1="152.78" x2="452.87" y2="156.18" stroke="#222" stroke-width="1.25" />
<text x="453.07" y="169.00" font-size="10.0" font-weight="bold" text-anchor="middle" fill="#111" stroke="#111" stroke-width="0.3" >40</text>
<line x1="471.54" y1="152.78" x2="471.54" y2="154.78" stroke="#222" stroke-width="1.25" />
<line x1="490.20" y1="152.78" x2="490.20" y2="156.18" stroke="#222" stroke-width="1.25" />
<text x="490.40" y="169.00" font-size="10.0" font-weight="bold" text-anchor="middle" fill="#111" stroke="#111" stroke-width="0.3" >50</text>
<line x1="508.86" y1="152.78" x2="508.86" y2="154.78" stroke="#222" stroke-width="1.25" />
<line x1="527.53" y1="152.78" x2="527.53" y2="156.18" stroke="#222" stroke-width="1.25" />
<text x="527.73" y="169.00" font-size="10.0" font-weight="bold" text-anchor="middle" fill="#111" stroke="#111" stroke-width="0.3" >60</text>
<line x1="546.19" y1="152.78" x2="546.19" y2="154.78" stroke="#222" stroke-width="1.25" />
<line x1="564.85" y1="152.78" x2="564.85" y2="156.18" stroke="#222" stroke-width="1.25" />
<text x="565.05" y="169.00" font-size="10.0" font-weight="bold" text-anchor="middle" fill="#111" stroke="#111" stroke-width="0.3" >70</text>
<line x1="583.52" y1="152.78" x2="583.52" y2="154.78" stroke="#222" stroke-width="1.25" />
<line x1="602.18" y1="152.78" x2="602.18" y2="156.18" stroke="#222" stroke-width="1.25" />
<text x="602.38" y="169.00" font-size="10.0" font-weight="bold" text-anchor="middle" fill="#111" stroke="#111" stroke-width="0.3" >80</text>
<line x1="620.84" y1="152.78" x2="620.84" y2="154.78" stroke="#222" stroke-width="1.25" />
<line x1="639.50" y1="152.78" x2="639.50" y2="156.18" stroke="#222" stroke-width="1.25" />
<text x="639.70" y="169.00" font-size="10.0" font-weight="bold" text-anchor="middle" fill="#111" stroke="#111" stroke-width="0.3" >90</text>
<line x1="658.17" y1="152.78" x2="658.17" y2="154.78" stroke="#222" stroke-width="1.25" />
<line x1="676.83" y1="152.78" x2="676.83" y2="156.18" stroke="#222" stroke-width="1.25" />
<text x="677.03" y="169.00" font-size="10.0" font-weight="bold" text-anchor="middle" fill="#111" stroke="#111" stroke-width="0.3" >100</text>
<text x="264.40" y="7.90" font-size="14.5" font-weight="bold" text-anchor="start" fill="#111" stroke="#111" stroke-width="0.3" >c</text>
<text x="277.20" y="73.60" font-size="10.3" font-weight="bold" text-anchor="middle" fill="#111" stroke="#111" stroke-width="0.3" transform="rotate(-90 277.2 73.6)">Voltage, V</text>
<text x="472.50" y="182.20" font-size="10.35" font-weight="bold" text-anchor="start" fill="#111" stroke="#111" stroke-width="0.3" >Time, h</text>
<text x="311.40" y="19.00" font-size="10.4" font-weight="bold" text-anchor="start" fill="#111" stroke="#111" stroke-width="0.3" >700 °C, -0.5 A cm<tspan font-size="70%" dy="-4">-2</tspan></text>
<text x="668.40" y="20.90" font-size="10.43" font-weight="bold" text-anchor="end" fill="#111" stroke="#111" stroke-width="0.3" >Ni-YSZ|YSZ|GDC|ME-PBSCC</text>
<text x="312.30" y="124.90" font-size="10.45" font-weight="bold" text-anchor="start" fill="#111" stroke="#111" stroke-width="0.3" >Fuel electrode: 30% H<tspan font-size="72%" dy="2.8">2</tspan><tspan dy="-2.8">O</tspan>+70% H<tspan font-size="72%" dy="2.8">2</tspan></text>
<text x="312.20" y="142.00" font-size="10.5" font-weight="bold" text-anchor="start" fill="#111" stroke="#111" stroke-width="0.3" >Oxygen electrode: air+3% H<tspan font-size="72%" dy="2.8">2</tspan><tspan dy="-2.8">O</tspan>+Cr</text>
<defs><clipPath id="cclip"><rect x="304.07" y="4.57" width="372.26000000000005" height="148.21"/></clipPath></defs><g clip-path="url(#cclip)">
<path d="M303.8,95.50 L304.4,91.19 L305.0,89.30 L305.6,89.06 L306.2,88.82 L306.8,88.58 L307.4,88.30 L308.0,88.00 L308.6,87.70 L309.2,87.40 L309.8,87.10 L310.4,86.71 L311.0,86.28 L311.6,85.85 L312.2,85.42 L312.8,84.98 L313.4,84.55 L314.0,84.12 L314.6,83.69 L315.2,83.28 L315.8,82.94 L316.4,82.59 L317.0,82.24 L317.6,81.89 L318.2,81.54 L318.8,81.20 L319.4,80.85 L320.0,80.50 L320.6,80.34 L321.2,80.19 L321.8,80.03 L322.4,79.88 L323.0,79.72 L323.6,79.56 L324.2,79.41 L324.8,79.25 L325.4,79.12 L326.0,79.00 L326.6,78.88 L327.2,78.76 L327.8,78.64 L328.4,78.52 L329.0,78.40 L329.6,78.28 L330.2,78.17 L330.8,78.09 L331.4,78.00 L332.0,77.92 L332.6,77.84 L333.2,77.75 L333.8,77.67 L334.4,77.58 L335.0,77.50 L335.6,77.42 L336.2,77.33 L336.8,77.25 L337.4,77.16 L338.0,77.08 L338.6,77.00 L339.2,76.91 L339.8,76.83 L340.4,76.77 L341.0,76.72 L341.6,76.68 L342.2,76.63 L342.8,76.59 L343.4,76.54 L344.0,76.50 L344.6,76.45 L345.2,76.41 L345.8,76.36 L346.4,76.32 L347.0,76.27 L347.6,76.23 L348.2,76.18 L348.8,76.14 L349.4,76.09 L350.0,76.05 L350.6,76.00 L351.2,75.96 L351.8,75.91 L352.4,75.87 L353.0,75.82 L353.6,75.78 L354.2,75.73 L354.8,75.69 L355.4,75.64 L356.0,75.60 L356.6,75.55 L357.2,75.51 L357.8,75.46 L358.4,75.42 L359.0,75.37 L359.6,75.33 L360.2,75.28 L360.8,75.24 L361.4,75.19 L362.0,75.15 L362.6,75.10 L363.2,75.06 L363.8,75.01 L364.4,74.97 L365.0,74.92 L365.6,74.88 L366.2,74.83 L366.8,74.79 L367.4,74.74 L368.0,74.70 L368.6,74.65 L369.2,74.61 L369.8,74.56 L370.4,74.52 L371.0,74.47 L371.6,74.43 L372.2,74.38 L372.8,74.34 L373.4,74.29 L374.0,74.25 L374.6,74.20 L375.2,74.16 L375.8,74.11 L376.4,74.07 L377.0,74.02 L377.6,73.98 L378.2,73.93 L378.8,73.89 L379.4,73.84 L380.0,73.80 L380.6,73.75 L381.2,73.71 L381.8,73.66 L382.4,73.62 L383.0,73.57 L383.6,73.53 L384.2,73.48 L384.8,73.44 L385.4,73.39 L386.0,73.35 L386.6,73.30 L387.2,73.26 L387.8,73.21 L388.4,73.17 L389.0,73.12 L389.6,73.08 L390.2,73.03 L390.8,72.99 L391.4,72.94 L392.0,72.90 L392.6,72.85 L393.2,72.81 L393.8,72.76 L394.4,72.72 L395.0,72.67 L395.6,72.63 L396.2,72.58 L396.8,72.54 L397.4,72.49 L398.0,72.45 L398.6,72.40 L399.2,72.36 L399.8,72.31 L400.4,72.27 L401.0,72.21 L401.6,72.16 L402.2,72.11 L402.8,72.06 L403.4,72.01 L404.0,71.96 L404.6,71.91 L405.2,71.86 L405.8,71.81 L406.4,71.76 L407.0,71.70 L407.6,71.65 L408.2,71.60 L408.8,71.55 L409.4,71.50 L410.0,71.45 L410.6,71.40 L411.2,71.35 L411.8,71.30 L412.4,71.25 L413.0,71.19 L413.6,71.14 L414.2,71.09 L414.8,71.04 L415.4,70.99 L416.0,70.94 L416.6,70.89 L417.2,70.84 L417.8,70.79 L418.4,70.74 L419.0,70.68 L419.6,70.63 L420.2,70.59 L420.8,70.55 L421.4,70.51 L422.0,70.47 L422.6,70.43 L423.2,70.39 L423.8,70.35 L424.4,70.31 L425.0,70.27 L425.6,70.24 L426.2,70.20 L426.8,70.16 L427.4,70.12 L428.0,70.08 L428.6,70.04 L429.2,70.00 L429.8,69.96 L430.4,69.92 L431.0,69.88 L431.6,69.85 L432.2,69.81 L432.8,69.77 L433.4,69.73 L434.0,69.69 L434.6,69.65 L435.2,69.61 L435.8,69.57 L436.4,69.53 L437.0,69.49 L437.6,69.46 L438.2,69.42 L438.8,69.38 L439.4,69.34 L440.0,69.30 L440.6,69.26 L441.2,69.23 L441.8,69.19 L442.4,69.16 L443.0,69.12 L443.6,69.08 L444.2,69.05 L444.8,69.01 L445.4,68.98 L446.0,68.94 L446.6,68.90 L447.2,68.87 L447.8,68.83 L448.4,68.80 L449.0,68.76 L449.6,68.72 L450.2,68.69 L450.8,68.65 L451.4,68.62 L452.0,68.58 L452.6,68.54 L453.2,68.51 L453.8,68.47 L454.4,68.44 L455.0,68.40 L455.6,68.36 L456.2,68.33 L456.8,68.29 L457.4,68.26 L458.0,68.22 L458.6,68.18 L459.2,68.15 L459.8,68.11 L460.4,68.08 L461.0,68.05 L461.6,68.03 L462.2,68.00 L462.8,67.97 L463.4,67.95 L464.0,67.92 L464.6,67.89 L465.2,67.87 L465.8,67.84 L466.4,67.81 L467.0,67.78 L467.6,67.76 L468.2,67.73 L468.8,67.70 L469.4,67.68 L470.0,67.65 L470.6,67.62 L471.2,67.60 L471.8,67.57 L472.4,67.54 L473.0,67.51 L473.6,67.49 L474.2,67.46 L474.8,67.43 L475.4,67.41 L476.0,67.38 L476.6,67.35 L477.2,67.33 L477.8,67.30 L478.4,67.27 L479.0,67.24 L479.6,67.22 L480.2,67.19 L480.8,67.16 L481.4,67.14 L482.0,67.11 L482.6,67.08 L483.2,67.06 L483.8,67.03 L484.4,67.00 L485.0,66.97 L485.6,66.95 L486.2,66.92 L486.8,66.89 L487.4,66.87 L488.0,66.84 L488.6,66.81 L489.2,66.79 L489.8,66.76 L490.4,66.73 L491.0,66.70 L491.6,66.68 L492.2,66.65 L492.8,66.62 L493.4,66.60 L494.0,66.57 L494.6,66.54 L495.2,66.52 L495.8,66.49 L496.4,66.46 L497.0,66.43 L497.6,66.41 L498.2,66.38 L498.8,66.35 L499.4,66.33 L500.0,66.30 L500.6,66.28 L501.2,66.26 L501.8,66.24 L502.4,66.22 L503.0,66.19 L503.6,66.17 L504.2,66.15 L504.8,66.13 L505.4,66.11 L506.0,66.09 L506.6,66.07 L507.2,66.05 L507.8,66.03 L508.4,66.01 L509.0,65.98 L509.6,65.96 L510.2,65.94 L510.8,65.92 L511.4,65.90 L512.0,65.88 L512.6,65.86 L513.2,65.84 L513.8,65.82 L514.4,65.80 L515.0,65.77 L515.6,65.75 L516.2,65.73 L516.8,65.71 L517.4,65.69 L518.0,65.67 L518.6,65.65 L519.2,65.63 L519.8,65.61 L520.4,65.59 L521.0,65.57 L521.6,65.55 L522.2,65.53 L522.8,65.52 L523.4,65.50 L524.0,65.48 L524.6,65.46 L525.2,65.44 L525.8,65.43 L526.4,65.41 L527.0,65.39 L527.6,65.37 L528.2,65.35 L528.8,65.34 L529.4,65.32 L530.0,65.30 L530.6,65.28 L531.2,65.26 L531.8,65.25 L532.4,65.23 L533.0,65.21 L533.6,65.19 L534.2,65.17 L534.8,65.16 L535.4,65.14 L536.0,65.12 L536.6,65.10 L537.2,65.08 L537.8,65.07 L538.4,65.05 L539.0,65.03 L539.6,65.01 L540.2,65.00 L540.8,64.98 L541.4,64.97 L542.0,64.96 L542.6,64.95 L543.2,64.94 L543.8,64.92 L544.4,64.91 L545.0,64.90 L545.6,64.89 L546.2,64.88 L546.8,64.86 L547.4,64.85 L548.0,64.84 L548.6,64.83 L549.2,64.82 L549.8,64.80 L550.4,64.79 L551.0,64.78 L551.6,64.77 L552.2,64.76 L552.8,64.74 L553.4,64.73 L554.0,64.72 L554.6,64.71 L555.2,64.70 L555.8,64.68 L556.4,64.67 L557.0,64.66 L557.6,64.65 L558.2,64.64 L558.8,64.62 L559.4,64.61 L560.0,64.60 L560.6,64.59 L561.2,64.58 L561.8,64.56 L562.4,64.55 L563.0,64.54 L563.6,64.53 L564.2,64.52 L564.8,64.50 L565.4,64.49 L566.0,64.48 L566.6,64.47 L567.2,64.46 L567.8,64.44 L568.4,64.43 L569.0,64.42 L569.6,64.41 L570.2,64.40 L570.8,64.39 L571.4,64.39 L572.0,64.38 L572.6,64.37 L573.2,64.37 L573.8,64.36 L574.4,64.36 L575.0,64.35 L575.6,64.34 L576.2,64.34 L576.8,64.33 L577.4,64.33 L578.0,64.32 L578.6,64.31 L579.2,64.31 L579.8,64.30 L580.4,64.30 L581.0,64.29 L581.6,64.28 L582.2,64.28 L582.8,64.27 L583.4,64.27 L584.0,64.26 L584.6,64.25 L585.2,64.25 L585.8,64.24 L586.4,64.24 L587.0,64.23 L587.6,64.22 L588.2,64.22 L588.8,64.21 L589.4,64.21 L590.0,64.20 L590.6,64.19 L591.2,64.19 L591.8,64.18 L592.4,64.18 L593.0,64.17 L593.6,64.16 L594.2,64.16 L594.8,64.15 L595.4,64.15 L596.0,64.14 L596.6,64.13 L597.2,64.13 L597.8,64.12 L598.4,64.12 L599.0,64.11 L599.6,64.10 L600.2,64.10 L600.8,64.10 L601.4,64.10 L602.0,64.11 L602.6,64.11 L603.2,64.11 L603.8,64.11 L604.4,64.11 L605.0,64.11 L605.6,64.11 L606.2,64.12 L606.8,64.12 L607.4,64.12 L608.0,64.12 L608.6,64.12 L609.2,64.12 L609.8,64.12 L610.4,64.13 L611.0,64.13 L611.6,64.13 L612.2,64.13 L612.8,64.13 L613.4,64.13 L614.0,64.14 L614.6,64.14 L615.2,64.14 L615.8,64.14 L616.4,64.14 L617.0,64.14 L617.6,64.14 L618.2,64.15 L618.8,64.15 L619.4,64.15 L620.0,64.15 L620.6,64.15 L621.2,64.15 L621.8,64.15 L622.4,64.16 L623.0,64.16 L623.6,64.16 L624.2,64.16 L624.8,64.16 L625.4,64.16 L626.0,64.17 L626.6,64.17 L627.2,64.17 L627.8,64.17 L628.4,64.17 L629.0,64.17 L629.6,64.17 L630.2,64.18 L630.8,64.18 L631.4,64.18 L632.0,64.18 L632.6,64.18 L633.2,64.18 L633.8,64.18 L634.4,64.19 L635.0,64.19 L635.6,64.19 L636.2,64.19 L636.8,64.19 L637.4,64.19 L638.0,64.20 L638.6,64.20 L639.2,64.20 L639.8,64.20 L640.4,64.20 L641.0,64.21 L641.6,64.22 L642.2,64.22 L642.8,64.23 L643.4,64.24 L644.0,64.24 L644.6,64.25 L645.2,64.26 L645.8,64.26 L646.4,64.27 L647.0,64.28 L647.6,64.28 L648.2,64.29 L648.8,64.30 L649.4,64.30 L650.0,64.31 L650.6,64.32 L651.2,64.32 L651.8,64.33 L652.4,64.34 L653.0,64.34 L653.6,64.35 L654.2,64.36 L654.8,64.36 L655.4,64.37 L656.0,64.38 L656.6,64.38 L657.2,64.39 L657.8,64.40 L658.4,64.40 L659.0,64.41 L659.6,64.42 L660.2,64.42 L660.8,64.43 L661.4,64.44 L662.0,64.44 L662.6,64.45 L663.2,64.46 L663.8,64.46 L664.4,64.47 L665.0,64.48 L665.6,64.48 L666.2,64.49 L666.8,64.50 L667.4,64.50 L668.0,64.51 L668.6,64.52 L669.2,64.52 L669.8,64.53 L670.4,64.54 L671.0,64.54 L671.6,64.55 L672.2,64.56 L672.8,64.56 L673.4,64.57 L674.0,64.58 L674.6,64.58 L675.2,64.59 L675.8,64.60 L676.4,64.60" fill="none" stroke="#22c5c5" stroke-width="4.3" stroke-linecap="round" stroke-linejoin="round"/>
<circle cx="303.5" cy="93.7" r="0.9" fill="#22c5c5"/>
<circle cx="305.7" cy="87.1" r="0.9" fill="#22c5c5"/>
<circle cx="307.8" cy="90.0" r="0.9" fill="#22c5c5"/>
<circle cx="308.9" cy="89.3" r="0.9" fill="#22c5c5"/>
<circle cx="311.0" cy="88.3" r="0.9" fill="#22c5c5"/>
<circle cx="312.5" cy="82.7" r="0.9" fill="#22c5c5"/>
<circle cx="314.6" cy="81.6" r="0.9" fill="#22c5c5"/>
<circle cx="316.0" cy="80.9" r="0.9" fill="#22c5c5"/>
<circle cx="317.7" cy="83.4" r="0.9" fill="#22c5c5"/>
<circle cx="320.2" cy="82.6" r="0.9" fill="#22c5c5"/>
<circle cx="322.2" cy="82.2" r="0.9" fill="#22c5c5"/>
<circle cx="323.7" cy="77.3" r="0.9" fill="#22c5c5"/>
<circle cx="325.0" cy="77.2" r="0.9" fill="#22c5c5"/>
<circle cx="327.0" cy="80.9" r="0.9" fill="#22c5c5"/>
<circle cx="329.4" cy="80.3" r="0.9" fill="#22c5c5"/>
<circle cx="330.7" cy="80.0" r="0.9" fill="#22c5c5"/>
<circle cx="332.5" cy="75.5" r="0.9" fill="#22c5c5"/>
<circle cx="334.6" cy="75.3" r="0.9" fill="#22c5c5"/>
<circle cx="336.7" cy="75.2" r="0.9" fill="#22c5c5"/>
<circle cx="337.8" cy="75.0" r="0.9" fill="#22c5c5"/>
<circle cx="339.5" cy="78.5" r="0.9" fill="#22c5c5"/>
<circle cx="341.2" cy="78.2" r="0.9" fill="#22c5c5"/>
<circle cx="343.7" cy="78.8" r="0.9" fill="#22c5c5"/>
<circle cx="344.7" cy="78.6" r="0.9" fill="#22c5c5"/>
<circle cx="347.4" cy="74.3" r="0.9" fill="#22c5c5"/>
<circle cx="349.1" cy="78.3" r="0.9" fill="#22c5c5"/>
<circle cx="350.4" cy="77.9" r="0.9" fill="#22c5c5"/>
<circle cx="352.9" cy="77.3" r="0.9" fill="#22c5c5"/>
<circle cx="353.8" cy="73.4" r="0.9" fill="#22c5c5"/>
<circle cx="356.5" cy="77.6" r="0.9" fill="#22c5c5"/>
<circle cx="357.5" cy="73.1" r="0.9" fill="#22c5c5"/>
<circle cx="359.4" cy="77.7" r="0.9" fill="#22c5c5"/>
<circle cx="361.8" cy="77.0" r="0.9" fill="#22c5c5"/>
<circle cx="363.6" cy="77.1" r="0.9" fill="#22c5c5"/>
<circle cx="365.1" cy="72.9" r="0.9" fill="#22c5c5"/>
<circle cx="367.2" cy="76.6" r="0.9" fill="#22c5c5"/>
<circle cx="368.8" cy="72.3" r="0.9" fill="#22c5c5"/>
<circle cx="370.3" cy="76.4" r="0.9" fill="#22c5c5"/>
<circle cx="372.2" cy="72.2" r="0.9" fill="#22c5c5"/>
<circle cx="374.5" cy="75.7" r="0.9" fill="#22c5c5"/>
<circle cx="375.9" cy="72.7" r="0.9" fill="#22c5c5"/>
<circle cx="377.7" cy="75.7" r="0.9" fill="#22c5c5"/>
<circle cx="379.8" cy="76.0" r="0.9" fill="#22c5c5"/>
<circle cx="380.7" cy="71.4" r="0.9" fill="#22c5c5"/>
<circle cx="382.5" cy="75.2" r="0.9" fill="#22c5c5"/>
<circle cx="384.8" cy="75.0" r="0.9" fill="#22c5c5"/>
<circle cx="386.3" cy="75.5" r="0.9" fill="#22c5c5"/>
<circle cx="388.2" cy="74.7" r="0.9" fill="#22c5c5"/>
<circle cx="390.5" cy="71.3" r="0.9" fill="#22c5c5"/>
<circle cx="391.7" cy="74.5" r="0.9" fill="#22c5c5"/>
<circle cx="393.5" cy="74.8" r="0.9" fill="#22c5c5"/>
<circle cx="395.2" cy="75.0" r="0.9" fill="#22c5c5"/>
<circle cx="397.6" cy="70.7" r="0.9" fill="#22c5c5"/>
<circle cx="399.6" cy="70.9" r="0.9" fill="#22c5c5"/>
<circle cx="401.2" cy="69.9" r="0.9" fill="#22c5c5"/>
<circle cx="402.8" cy="69.9" r="0.9" fill="#22c5c5"/>
<circle cx="404.1" cy="70.2" r="0.9" fill="#22c5c5"/>
<circle cx="406.7" cy="69.5" r="0.9" fill="#22c5c5"/>
<circle cx="408.0" cy="69.4" r="0.9" fill="#22c5c5"/>
<circle cx="409.8" cy="69.6" r="0.9" fill="#22c5c5"/>
<circle cx="411.8" cy="73.2" r="0.9" fill="#22c5c5"/>
<circle cx="413.7" cy="73.0" r="0.9" fill="#22c5c5"/>
<circle cx="415.3" cy="72.5" r="0.9" fill="#22c5c5"/>
<circle cx="416.7" cy="72.8" r="0.9" fill="#22c5c5"/>
<circle cx="419.5" cy="69.3" r="0.9" fill="#22c5c5"/>
<circle cx="420.8" cy="72.5" r="0.9" fill="#22c5c5"/>
<circle cx="423.0" cy="68.2" r="0.9" fill="#22c5c5"/>
<circle cx="424.9" cy="68.1" r="0.9" fill="#22c5c5"/>
<circle cx="425.7" cy="67.9" r="0.9" fill="#22c5c5"/>
<circle cx="428.4" cy="68.7" r="0.9" fill="#22c5c5"/>
<circle cx="430.0" cy="68.1" r="0.9" fill="#22c5c5"/>
<circle cx="431.3" cy="67.9" r="0.9" fill="#22c5c5"/>
<circle cx="433.3" cy="68.0" r="0.9" fill="#22c5c5"/>
<circle cx="435.0" cy="71.8" r="0.9" fill="#22c5c5"/>
<circle cx="436.6" cy="67.9" r="0.9" fill="#22c5c5"/>
<circle cx="438.8" cy="67.8" r="0.9" fill="#22c5c5"/>
<circle cx="440.9" cy="67.0" r="0.9" fill="#22c5c5"/>
<circle cx="441.9" cy="70.6" r="0.9" fill="#22c5c5"/>
<circle cx="444.0" cy="71.1" r="0.9" fill="#22c5c5"/>
<circle cx="446.0" cy="67.1" r="0.9" fill="#22c5c5"/>
<circle cx="448.1" cy="66.6" r="0.9" fill="#22c5c5"/>
<circle cx="449.9" cy="67.2" r="0.9" fill="#22c5c5"/>
<circle cx="451.0" cy="66.4" r="0.9" fill="#22c5c5"/>
<circle cx="452.8" cy="70.2" r="0.9" fill="#22c5c5"/>
<circle cx="454.8" cy="70.2" r="0.9" fill="#22c5c5"/>
<circle cx="456.7" cy="70.1" r="0.9" fill="#22c5c5"/>
<circle cx="458.3" cy="70.0" r="0.9" fill="#22c5c5"/>
<circle cx="460.0" cy="66.0" r="0.9" fill="#22c5c5"/>
<circle cx="462.1" cy="66.0" r="0.9" fill="#22c5c5"/>
<circle cx="463.5" cy="69.9" r="0.9" fill="#22c5c5"/>
<circle cx="466.1" cy="69.9" r="0.9" fill="#22c5c5"/>
<circle cx="467.1" cy="69.2" r="0.9" fill="#22c5c5"/>
<circle cx="469.5" cy="69.5" r="0.9" fill="#22c5c5"/>
<circle cx="471.4" cy="69.0" r="0.9" fill="#22c5c5"/>
<circle cx="472.7" cy="69.6" r="0.9" fill="#22c5c5"/>
<circle cx="474.4" cy="69.1" r="0.9" fill="#22c5c5"/>
<circle cx="476.2" cy="65.0" r="0.9" fill="#22c5c5"/>
<circle cx="478.3" cy="68.8" r="0.9" fill="#22c5c5"/>
<circle cx="480.4" cy="69.3" r="0.9" fill="#22c5c5"/>
<circle cx="482.2" cy="64.9" r="0.9" fill="#22c5c5"/>
<circle cx="484.0" cy="68.6" r="0.9" fill="#22c5c5"/>
<circle cx="485.9" cy="65.0" r="0.9" fill="#22c5c5"/>
<circle cx="487.5" cy="68.4" r="0.9" fill="#22c5c5"/>
<circle cx="488.7" cy="65.4" r="0.9" fill="#22c5c5"/>
<circle cx="490.6" cy="68.9" r="0.9" fill="#22c5c5"/>
<circle cx="493.3" cy="68.8" r="0.9" fill="#22c5c5"/>
<circle cx="494.1" cy="65.0" r="0.9" fill="#22c5c5"/>
<circle cx="496.6" cy="64.5" r="0.9" fill="#22c5c5"/>
<circle cx="498.6" cy="64.2" r="0.9" fill="#22c5c5"/>
<circle cx="499.7" cy="64.3" r="0.9" fill="#22c5c5"/>
<circle cx="501.8" cy="67.9" r="0.9" fill="#22c5c5"/>
<circle cx="503.7" cy="68.1" r="0.9" fill="#22c5c5"/>
<circle cx="505.9" cy="68.0" r="0.9" fill="#22c5c5"/>
<circle cx="507.7" cy="68.3" r="0.9" fill="#22c5c5"/>
<circle cx="509.5" cy="68.1" r="0.9" fill="#22c5c5"/>
<circle cx="511.1" cy="67.5" r="0.9" fill="#22c5c5"/>
<circle cx="512.5" cy="64.3" r="0.9" fill="#22c5c5"/>
<circle cx="514.4" cy="68.1" r="0.9" fill="#22c5c5"/>
<circle cx="516.2" cy="67.7" r="0.9" fill="#22c5c5"/>
<circle cx="518.4" cy="64.0" r="0.9" fill="#22c5c5"/>
<circle cx="519.5" cy="67.9" r="0.9" fill="#22c5c5"/>
<circle cx="522.0" cy="67.6" r="0.9" fill="#22c5c5"/>
<circle cx="523.8" cy="67.8" r="0.9" fill="#22c5c5"/>
<circle cx="525.0" cy="67.3" r="0.9" fill="#22c5c5"/>
<circle cx="526.9" cy="63.4" r="0.9" fill="#22c5c5"/>
<circle cx="528.5" cy="67.5" r="0.9" fill="#22c5c5"/>
<circle cx="530.2" cy="67.4" r="0.9" fill="#22c5c5"/>
<circle cx="532.1" cy="63.3" r="0.9" fill="#22c5c5"/>
<circle cx="534.4" cy="67.4" r="0.9" fill="#22c5c5"/>
<circle cx="536.4" cy="63.3" r="0.9" fill="#22c5c5"/>
<circle cx="537.5" cy="63.0" r="0.9" fill="#22c5c5"/>
<circle cx="539.9" cy="62.7" r="0.9" fill="#22c5c5"/>
<circle cx="541.8" cy="62.7" r="0.9" fill="#22c5c5"/>
<circle cx="543.5" cy="63.3" r="0.9" fill="#22c5c5"/>
<circle cx="545.2" cy="62.6" r="0.9" fill="#22c5c5"/>
<circle cx="546.6" cy="63.2" r="0.9" fill="#22c5c5"/>
<circle cx="548.5" cy="63.3" r="0.9" fill="#22c5c5"/>
<circle cx="550.2" cy="66.2" r="0.9" fill="#22c5c5"/>
<circle cx="552.2" cy="66.2" r="0.9" fill="#22c5c5"/>
<circle cx="553.8" cy="66.5" r="0.9" fill="#22c5c5"/>
<circle cx="555.4" cy="66.5" r="0.9" fill="#22c5c5"/>
<circle cx="557.6" cy="62.4" r="0.9" fill="#22c5c5"/>
<circle cx="559.0" cy="66.1" r="0.9" fill="#22c5c5"/>
<circle cx="561.6" cy="66.1" r="0.9" fill="#22c5c5"/>
<circle cx="563.4" cy="66.6" r="0.9" fill="#22c5c5"/>
<circle cx="564.7" cy="66.2" r="0.9" fill="#22c5c5"/>
<circle cx="566.8" cy="66.0" r="0.9" fill="#22c5c5"/>
<circle cx="568.8" cy="66.5" r="0.9" fill="#22c5c5"/>
<circle cx="570.2" cy="62.3" r="0.9" fill="#22c5c5"/>
<circle cx="572.0" cy="62.3" r="0.9" fill="#22c5c5"/>
<circle cx="574.0" cy="62.3" r="0.9" fill="#22c5c5"/>
<circle cx="575.8" cy="62.8" r="0.9" fill="#22c5c5"/>
<circle cx="577.8" cy="65.8" r="0.9" fill="#22c5c5"/>
<circle cx="579.6" cy="62.0" r="0.9" fill="#22c5c5"/>
<circle cx="581.1" cy="66.2" r="0.9" fill="#22c5c5"/>
<circle cx="582.9" cy="66.2" r="0.9" fill="#22c5c5"/>
<circle cx="584.9" cy="62.7" r="0.9" fill="#22c5c5"/>
<circle cx="586.1" cy="66.0" r="0.9" fill="#22c5c5"/>
<circle cx="588.0" cy="65.7" r="0.9" fill="#22c5c5"/>
<circle cx="589.6" cy="66.1" r="0.9" fill="#22c5c5"/>
<circle cx="591.5" cy="66.5" r="0.9" fill="#22c5c5"/>
<circle cx="594.0" cy="66.1" r="0.9" fill="#22c5c5"/>
<circle cx="595.7" cy="66.0" r="0.9" fill="#22c5c5"/>
<circle cx="597.7" cy="62.5" r="0.9" fill="#22c5c5"/>
<circle cx="598.6" cy="62.1" r="0.9" fill="#22c5c5"/>
<circle cx="601.2" cy="62.5" r="0.9" fill="#22c5c5"/>
<circle cx="602.3" cy="66.2" r="0.9" fill="#22c5c5"/>
<circle cx="604.3" cy="62.1" r="0.9" fill="#22c5c5"/>
<circle cx="605.8" cy="66.3" r="0.9" fill="#22c5c5"/>
<circle cx="608.0" cy="62.2" r="0.9" fill="#22c5c5"/>
<circle cx="609.5" cy="65.9" r="0.9" fill="#22c5c5"/>
<circle cx="611.4" cy="66.4" r="0.9" fill="#22c5c5"/>
<circle cx="613.8" cy="65.8" r="0.9" fill="#22c5c5"/>
<circle cx="615.6" cy="66.2" r="0.9" fill="#22c5c5"/>
<circle cx="617.5" cy="66.4" r="0.9" fill="#22c5c5"/>
<circle cx="619.0" cy="62.1" r="0.9" fill="#22c5c5"/>
<circle cx="620.8" cy="62.6" r="0.9" fill="#22c5c5"/>
<circle cx="622.7" cy="62.3" r="0.9" fill="#22c5c5"/>
<circle cx="624.2" cy="65.8" r="0.9" fill="#22c5c5"/>
<circle cx="626.3" cy="62.7" r="0.9" fill="#22c5c5"/>
<circle cx="627.8" cy="65.7" r="0.9" fill="#22c5c5"/>
<circle cx="629.4" cy="62.6" r="0.9" fill="#22c5c5"/>
<circle cx="631.7" cy="62.8" r="0.9" fill="#22c5c5"/>
<circle cx="633.3" cy="62.3" r="0.9" fill="#22c5c5"/>
<circle cx="634.5" cy="65.9" r="0.9" fill="#22c5c5"/>
<circle cx="637.2" cy="62.7" r="0.9" fill="#22c5c5"/>
<circle cx="638.9" cy="62.1" r="0.9" fill="#22c5c5"/>
<circle cx="640.6" cy="66.6" r="0.9" fill="#22c5c5"/>
<circle cx="641.9" cy="62.0" r="0.9" fill="#22c5c5"/>
<circle cx="643.9" cy="62.4" r="0.9" fill="#22c5c5"/>
<circle cx="645.4" cy="62.5" r="0.9" fill="#22c5c5"/>
<circle cx="647.9" cy="62.5" r="0.9" fill="#22c5c5"/>
<circle cx="649.4" cy="62.4" r="0.9" fill="#22c5c5"/>
<circle cx="651.1" cy="66.0" r="0.9" fill="#22c5c5"/>
<circle cx="653.0" cy="66.2" r="0.9" fill="#22c5c5"/>
<circle cx="654.8" cy="62.2" r="0.9" fill="#22c5c5"/>
<circle cx="656.5" cy="66.2" r="0.9" fill="#22c5c5"/>
<circle cx="658.3" cy="66.0" r="0.9" fill="#22c5c5"/>
<circle cx="659.7" cy="62.8" r="0.9" fill="#22c5c5"/>
<circle cx="661.9" cy="66.4" r="0.9" fill="#22c5c5"/>
<circle cx="663.5" cy="62.9" r="0.9" fill="#22c5c5"/>
<circle cx="665.5" cy="62.4" r="0.9" fill="#22c5c5"/>
<circle cx="667.0" cy="62.7" r="0.9" fill="#22c5c5"/>
<circle cx="668.9" cy="62.7" r="0.9" fill="#22c5c5"/>
<circle cx="670.8" cy="62.4" r="0.9" fill="#22c5c5"/>
<circle cx="672.4" cy="66.0" r="0.9" fill="#22c5c5"/>
<circle cx="674.6" cy="62.9" r="0.9" fill="#22c5c5"/>
<circle cx="676.3" cy="63.0" r="0.9" fill="#22c5c5"/>
<circle cx="304.5" cy="90.8" r="0.55" fill="#fff" fill-opacity="0.45"/>
<circle cx="305.9" cy="87.7" r="0.55" fill="#fff" fill-opacity="0.45"/>
<circle cx="308.2" cy="87.5" r="0.55" fill="#fff" fill-opacity="0.45"/>
<circle cx="310.0" cy="87.0" r="0.55" fill="#fff" fill-opacity="0.45"/>
<circle cx="311.9" cy="85.4" r="0.55" fill="#fff" fill-opacity="0.45"/>
<circle cx="313.2" cy="84.0" r="0.55" fill="#fff" fill-opacity="0.45"/>
<circle cx="315.5" cy="83.6" r="0.55" fill="#fff" fill-opacity="0.45"/>
<circle cx="316.9" cy="81.3" r="0.55" fill="#fff" fill-opacity="0.45"/>
<circle cx="318.9" cy="82.3" r="0.55" fill="#fff" fill-opacity="0.45"/>
<circle cx="320.7" cy="79.2" r="0.55" fill="#fff" fill-opacity="0.45"/>
<circle cx="322.0" cy="78.9" r="0.55" fill="#fff" fill-opacity="0.45"/>
<circle cx="323.9" cy="78.3" r="0.55" fill="#fff" fill-opacity="0.45"/>
<circle cx="325.6" cy="79.4" r="0.55" fill="#fff" fill-opacity="0.45"/>
<circle cx="328.1" cy="77.9" r="0.55" fill="#fff" fill-opacity="0.45"/>
<circle cx="330.0" cy="78.2" r="0.55" fill="#fff" fill-opacity="0.45"/>
<circle cx="331.6" cy="79.0" r="0.55" fill="#fff" fill-opacity="0.45"/>
<circle cx="333.6" cy="76.6" r="0.55" fill="#fff" fill-opacity="0.45"/>
<circle cx="334.8" cy="77.8" r="0.55" fill="#fff" fill-opacity="0.45"/>
<circle cx="337.2" cy="76.3" r="0.55" fill="#fff" fill-opacity="0.45"/>
<circle cx="338.4" cy="77.8" r="0.55" fill="#fff" fill-opacity="0.45"/>
<circle cx="340.1" cy="76.5" r="0.55" fill="#fff" fill-opacity="0.45"/>
<circle cx="342.1" cy="77.1" r="0.55" fill="#fff" fill-opacity="0.45"/>
<circle cx="344.3" cy="75.7" r="0.55" fill="#fff" fill-opacity="0.45"/>
<circle cx="346.0" cy="76.9" r="0.55" fill="#fff" fill-opacity="0.45"/>
<circle cx="347.9" cy="76.4" r="0.55" fill="#fff" fill-opacity="0.45"/>
<circle cx="349.7" cy="75.8" r="0.55" fill="#fff" fill-opacity="0.45"/>
<circle cx="351.1" cy="75.3" r="0.55" fill="#fff" fill-opacity="0.45"/>
<circle cx="353.2" cy="75.8" r="0.55" fill="#fff" fill-opacity="0.45"/>
<circle cx="354.6" cy="74.9" r="0.55" fill="#fff" fill-opacity="0.45"/>
<circle cx="356.8" cy="75.8" r="0.55" fill="#fff" fill-opacity="0.45"/>
<circle cx="358.6" cy="75.1" r="0.55" fill="#fff" fill-opacity="0.45"/>
<circle cx="360.2" cy="74.5" r="0.55" fill="#fff" fill-opacity="0.45"/>
<circle cx="362.2" cy="74.0" r="0.55" fill="#fff" fill-opacity="0.45"/>
<circle cx="363.8" cy="75.6" r="0.55" fill="#fff" fill-opacity="0.45"/>
<circle cx="365.7" cy="73.9" r="0.55" fill="#fff" fill-opacity="0.45"/>
<circle cx="367.2" cy="75.6" r="0.55" fill="#fff" fill-opacity="0.45"/>
<circle cx="369.3" cy="75.5" r="0.55" fill="#fff" fill-opacity="0.45"/>
<circle cx="371.3" cy="74.4" r="0.55" fill="#fff" fill-opacity="0.45"/>
<circle cx="373.1" cy="74.9" r="0.55" fill="#fff" fill-opacity="0.45"/>
<circle cx="374.5" cy="73.9" r="0.55" fill="#fff" fill-opacity="0.45"/>
<circle cx="376.1" cy="73.8" r="0.55" fill="#fff" fill-opacity="0.45"/>
<circle cx="378.6" cy="73.0" r="0.55" fill="#fff" fill-opacity="0.45"/>
<circle cx="380.1" cy="72.9" r="0.55" fill="#fff" fill-opacity="0.45"/>
<circle cx="381.5" cy="74.0" r="0.55" fill="#fff" fill-opacity="0.45"/>
<circle cx="383.4" cy="72.4" r="0.55" fill="#fff" fill-opacity="0.45"/>
<circle cx="385.1" cy="73.7" r="0.55" fill="#fff" fill-opacity="0.45"/>
<circle cx="387.3" cy="72.1" r="0.55" fill="#fff" fill-opacity="0.45"/>
<circle cx="388.8" cy="74.2" r="0.55" fill="#fff" fill-opacity="0.45"/>
<circle cx="390.6" cy="73.1" r="0.55" fill="#fff" fill-opacity="0.45"/>
<circle cx="392.5" cy="73.5" r="0.55" fill="#fff" fill-opacity="0.45"/>
<circle cx="394.5" cy="73.4" r="0.55" fill="#fff" fill-opacity="0.45"/>
<circle cx="396.2" cy="71.8" r="0.55" fill="#fff" fill-opacity="0.45"/>
<circle cx="397.7" cy="71.4" r="0.55" fill="#fff" fill-opacity="0.45"/>
<circle cx="400.1" cy="71.4" r="0.55" fill="#fff" fill-opacity="0.45"/>
<circle cx="401.2" cy="73.3" r="0.55" fill="#fff" fill-opacity="0.45"/>
<circle cx="403.2" cy="73.0" r="0.55" fill="#fff" fill-opacity="0.45"/>
<circle cx="404.9" cy="71.8" r="0.55" fill="#fff" fill-opacity="0.45"/>
<circle cx="406.8" cy="72.5" r="0.55" fill="#fff" fill-opacity="0.45"/>
<circle cx="408.9" cy="71.9" r="0.55" fill="#fff" fill-opacity="0.45"/>
<circle cx="410.8" cy="72.3" r="0.55" fill="#fff" fill-opacity="0.45"/>
<circle cx="412.3" cy="71.5" r="0.55" fill="#fff" fill-opacity="0.45"/>
<circle cx="414.2" cy="70.2" r="0.55" fill="#fff" fill-opacity="0.45"/>
<circle cx="416.3" cy="71.2" r="0.55" fill="#fff" fill-opacity="0.45"/>
<circle cx="418.1" cy="70.1" r="0.55" fill="#fff" fill-opacity="0.45"/>
<circle cx="419.6" cy="70.5" r="0.55" fill="#fff" fill-opacity="0.45"/>
<circle cx="421.6" cy="69.5" r="0.55" fill="#fff" fill-opacity="0.45"/>
<circle cx="423.1" cy="70.4" r="0.55" fill="#fff" fill-opacity="0.45"/>
<circle cx="424.7" cy="70.4" r="0.55" fill="#fff" fill-opacity="0.45"/>
<circle cx="427.0" cy="70.0" r="0.55" fill="#fff" fill-opacity="0.45"/>
<circle cx="428.7" cy="70.3" r="0.55" fill="#fff" fill-opacity="0.45"/>
<circle cx="430.2" cy="69.6" r="0.55" fill="#fff" fill-opacity="0.45"/>
<circle cx="432.6" cy="69.4" r="0.55" fill="#fff" fill-opacity="0.45"/>
<circle cx="433.9" cy="68.7" r="0.55" fill="#fff" fill-opacity="0.45"/>
<circle cx="435.6" cy="68.8" r="0.55" fill="#fff" fill-opacity="0.45"/>
<circle cx="437.9" cy="70.0" r="0.55" fill="#fff" fill-opacity="0.45"/>
<circle cx="439.7" cy="70.5" r="0.55" fill="#fff" fill-opacity="0.45"/>
<circle cx="441.3" cy="70.3" r="0.55" fill="#fff" fill-opacity="0.45"/>
<circle cx="443.0" cy="68.9" r="0.55" fill="#fff" fill-opacity="0.45"/>
<circle cx="445.2" cy="70.0" r="0.55" fill="#fff" fill-opacity="0.45"/>
<circle cx="447.0" cy="68.9" r="0.55" fill="#fff" fill-opacity="0.45"/>
<circle cx="448.6" cy="68.6" r="0.55" fill="#fff" fill-opacity="0.45"/>
<circle cx="450.6" cy="69.7" r="0.55" fill="#fff" fill-opacity="0.45"/>
<circle cx="451.8" cy="69.6" r="0.55" fill="#fff" fill-opacity="0.45"/>
<circle cx="453.5" cy="67.5" r="0.55" fill="#fff" fill-opacity="0.45"/>
<circle cx="455.8" cy="67.9" r="0.55" fill="#fff" fill-opacity="0.45"/>
<circle cx="457.4" cy="68.6" r="0.55" fill="#fff" fill-opacity="0.45"/>
<circle cx="458.8" cy="68.7" r="0.55" fill="#fff" fill-opacity="0.45"/>
<circle cx="460.8" cy="67.9" r="0.55" fill="#fff" fill-opacity="0.45"/>
<circle cx="462.7" cy="68.6" r="0.55" fill="#fff" fill-opacity="0.45"/>
<circle cx="464.8" cy="67.4" r="0.55" fill="#fff" fill-opacity="0.45"/>
<circle cx="466.1" cy="67.3" r="0.55" fill="#fff" fill-opacity="0.45"/>
<circle cx="468.1" cy="66.7" r="0.55" fill="#fff" fill-opacity="0.45"/>
<circle cx="469.7" cy="68.3" r="0.55" fill="#fff" fill-opacity="0.45"/>
<circle cx="472.0" cy="68.7" r="0.55" fill="#fff" fill-opacity="0.45"/>
<circle cx="474.0" cy="68.4" r="0.55" fill="#fff" fill-opacity="0.45"/>
<circle cx="475.3" cy="66.6" r="0.55" fill="#fff" fill-opacity="0.45"/>
<circle cx="477.0" cy="67.2" r="0.55" fill="#fff" fill-opacity="0.45"/>
<circle cx="479.0" cy="67.3" r="0.55" fill="#fff" fill-opacity="0.45"/>
<circle cx="480.7" cy="68.0" r="0.55" fill="#fff" fill-opacity="0.45"/>
<circle cx="482.4" cy="67.0" r="0.55" fill="#fff" fill-opacity="0.45"/>
<circle cx="484.7" cy="67.7" r="0.55" fill="#fff" fill-opacity="0.45"/>
<circle cx="486.0" cy="66.3" r="0.55" fill="#fff" fill-opacity="0.45"/>
<circle cx="488.2" cy="65.7" r="0.55" fill="#fff" fill-opacity="0.45"/>
<circle cx="489.5" cy="66.8" r="0.55" fill="#fff" fill-opacity="0.45"/>
<circle cx="491.6" cy="65.9" r="0.55" fill="#fff" fill-opacity="0.45"/>
<circle cx="493.0" cy="65.9" r="0.55" fill="#fff" fill-opacity="0.45"/>
<circle cx="495.4" cy="66.4" r="0.55" fill="#fff" fill-opacity="0.45"/>
<circle cx="497.4" cy="67.1" r="0.55" fill="#fff" fill-opacity="0.45"/>
<circle cx="499.2" cy="65.2" r="0.55" fill="#fff" fill-opacity="0.45"/>
<circle cx="500.3" cy="65.1" r="0.55" fill="#fff" fill-opacity="0.45"/>
<circle cx="502.3" cy="65.8" r="0.55" fill="#fff" fill-opacity="0.45"/>
<circle cx="503.8" cy="66.3" r="0.55" fill="#fff" fill-opacity="0.45"/>
<circle cx="505.7" cy="65.6" r="0.55" fill="#fff" fill-opacity="0.45"/>
<circle cx="507.6" cy="66.8" r="0.55" fill="#fff" fill-opacity="0.45"/>
<circle cx="509.5" cy="65.4" r="0.55" fill="#fff" fill-opacity="0.45"/>
<circle cx="511.0" cy="65.7" r="0.55" fill="#fff" fill-opacity="0.45"/>
<circle cx="513.3" cy="66.3" r="0.55" fill="#fff" fill-opacity="0.45"/>
<circle cx="515.3" cy="66.5" r="0.55" fill="#fff" fill-opacity="0.45"/>
<circle cx="516.6" cy="64.8" r="0.55" fill="#fff" fill-opacity="0.45"/>
<circle cx="518.8" cy="66.3" r="0.55" fill="#fff" fill-opacity="0.45"/>
<circle cx="520.4" cy="66.4" r="0.55" fill="#fff" fill-opacity="0.45"/>
<circle cx="522.2" cy="65.0" r="0.55" fill="#fff" fill-opacity="0.45"/>
<circle cx="523.7" cy="64.3" r="0.55" fill="#fff" fill-opacity="0.45"/>
<circle cx="525.9" cy="66.4" r="0.55" fill="#fff" fill-opacity="0.45"/>
<circle cx="527.9" cy="65.3" r="0.55" fill="#fff" fill-opacity="0.45"/>
<circle cx="529.5" cy="66.3" r="0.55" fill="#fff" fill-opacity="0.45"/>
<circle cx="531.5" cy="65.5" r="0.55" fill="#fff" fill-opacity="0.45"/>
<circle cx="532.9" cy="65.3" r="0.55" fill="#fff" fill-opacity="0.45"/>
<circle cx="534.5" cy="64.4" r="0.55" fill="#fff" fill-opacity="0.45"/>
<circle cx="536.7" cy="66.3" r="0.55" fill="#fff" fill-opacity="0.45"/>
<circle cx="538.4" cy="64.8" r="0.55" fill="#fff" fill-opacity="0.45"/>
<circle cx="540.1" cy="64.9" r="0.55" fill="#fff" fill-opacity="0.45"/>
<circle cx="542.2" cy="64.8" r="0.55" fill="#fff" fill-opacity="0.45"/>
<circle cx="544.2" cy="64.1" r="0.55" fill="#fff" fill-opacity="0.45"/>
<circle cx="545.5" cy="64.9" r="0.55" fill="#fff" fill-opacity="0.45"/>
<circle cx="547.3" cy="65.7" r="0.55" fill="#fff" fill-opacity="0.45"/>
<circle cx="549.5" cy="65.9" r="0.55" fill="#fff" fill-opacity="0.45"/>
<circle cx="551.1" cy="63.7" r="0.55" fill="#fff" fill-opacity="0.45"/>
<circle cx="552.9" cy="64.9" r="0.55" fill="#fff" fill-opacity="0.45"/>
<circle cx="554.6" cy="64.2" r="0.55" fill="#fff" fill-opacity="0.45"/>
<circle cx="556.6" cy="65.7" r="0.55" fill="#fff" fill-opacity="0.45"/>
<circle cx="557.9" cy="65.0" r="0.55" fill="#fff" fill-opacity="0.45"/>
<circle cx="559.9" cy="64.6" r="0.55" fill="#fff" fill-opacity="0.45"/>
<circle cx="562.1" cy="65.7" r="0.55" fill="#fff" fill-opacity="0.45"/>
<circle cx="563.7" cy="63.8" r="0.55" fill="#fff" fill-opacity="0.45"/>
<circle cx="565.7" cy="63.7" r="0.55" fill="#fff" fill-opacity="0.45"/>
<circle cx="567.1" cy="65.2" r="0.55" fill="#fff" fill-opacity="0.45"/>
<circle cx="568.9" cy="63.9" r="0.55" fill="#fff" fill-opacity="0.45"/>
<circle cx="571.2" cy="65.5" r="0.55" fill="#fff" fill-opacity="0.45"/>
<circle cx="572.5" cy="64.1" r="0.55" fill="#fff" fill-opacity="0.45"/>
<circle cx="574.2" cy="63.5" r="0.55" fill="#fff" fill-opacity="0.45"/>
<circle cx="576.0" cy="65.5" r="0.55" fill="#fff" fill-opacity="0.45"/>
<circle cx="577.7" cy="63.7" r="0.55" fill="#fff" fill-opacity="0.45"/>
<circle cx="579.6" cy="63.3" r="0.55" fill="#fff" fill-opacity="0.45"/>
<circle cx="581.6" cy="64.9" r="0.55" fill="#fff" fill-opacity="0.45"/>
<circle cx="583.7" cy="64.6" r="0.55" fill="#fff" fill-opacity="0.45"/>
<circle cx="585.5" cy="63.1" r="0.55" fill="#fff" fill-opacity="0.45"/>
<circle cx="586.8" cy="65.3" r="0.55" fill="#fff" fill-opacity="0.45"/>
<circle cx="588.5" cy="63.7" r="0.55" fill="#fff" fill-opacity="0.45"/>
<circle cx="590.6" cy="63.6" r="0.55" fill="#fff" fill-opacity="0.45"/>
<circle cx="592.4" cy="63.1" r="0.55" fill="#fff" fill-opacity="0.45"/>
<circle cx="594.0" cy="65.3" r="0.55" fill="#fff" fill-opacity="0.45"/>
<circle cx="595.7" cy="65.1" r="0.55" fill="#fff" fill-opacity="0.45"/>
<circle cx="597.5" cy="65.3" r="0.55" fill="#fff" fill-opacity="0.45"/>
<circle cx="599.7" cy="64.5" r="0.55" fill="#fff" fill-opacity="0.45"/>
<circle cx="601.1" cy="63.0" r="0.55" fill="#fff" fill-opacity="0.45"/>
<circle cx="603.4" cy="63.3" r="0.55" fill="#fff" fill-opacity="0.45"/>
<circle cx="604.8" cy="64.9" r="0.55" fill="#fff" fill-opacity="0.45"/>
<circle cx="607.1" cy="63.0" r="0.55" fill="#fff" fill-opacity="0.45"/>
<circle cx="609.0" cy="64.2" r="0.55" fill="#fff" fill-opacity="0.45"/>
<circle cx="610.3" cy="63.2" r="0.55" fill="#fff" fill-opacity="0.45"/>
<circle cx="612.1" cy="65.3" r="0.55" fill="#fff" fill-opacity="0.45"/>
<circle cx="613.8" cy="63.3" r="0.55" fill="#fff" fill-opacity="0.45"/>
<circle cx="615.5" cy="63.2" r="0.55" fill="#fff" fill-opacity="0.45"/>
<circle cx="617.5" cy="65.1" r="0.55" fill="#fff" fill-opacity="0.45"/>
<circle cx="619.1" cy="63.4" r="0.55" fill="#fff" fill-opacity="0.45"/>
<circle cx="621.6" cy="65.3" r="0.55" fill="#fff" fill-opacity="0.45"/>
<circle cx="623.4" cy="63.5" r="0.55" fill="#fff" fill-opacity="0.45"/>
<circle cx="624.7" cy="65.2" r="0.55" fill="#fff" fill-opacity="0.45"/>
<circle cx="626.6" cy="64.7" r="0.55" fill="#fff" fill-opacity="0.45"/>
<circle cx="628.3" cy="63.0" r="0.55" fill="#fff" fill-opacity="0.45"/>
<circle cx="630.1" cy="64.8" r="0.55" fill="#fff" fill-opacity="0.45"/>
<circle cx="632.2" cy="64.3" r="0.55" fill="#fff" fill-opacity="0.45"/>
<circle cx="633.8" cy="64.3" r="0.55" fill="#fff" fill-opacity="0.45"/>
<circle cx="635.6" cy="64.3" r="0.55" fill="#fff" fill-opacity="0.45"/>
<circle cx="637.7" cy="63.5" r="0.55" fill="#fff" fill-opacity="0.45"/>
<circle cx="639.3" cy="65.2" r="0.55" fill="#fff" fill-opacity="0.45"/>
<circle cx="641.3" cy="63.4" r="0.55" fill="#fff" fill-opacity="0.45"/>
<circle cx="643.2" cy="65.0" r="0.55" fill="#fff" fill-opacity="0.45"/>
<circle cx="644.3" cy="63.7" r="0.55" fill="#fff" fill-opacity="0.45"/>
<circle cx="646.2" cy="63.2" r="0.55" fill="#fff" fill-opacity="0.45"/>
<circle cx="648.6" cy="64.1" r="0.55" fill="#fff" fill-opacity="0.45"/>
<circle cx="650.3" cy="63.4" r="0.55" fill="#fff" fill-opacity="0.45"/>
<circle cx="651.4" cy="65.2" r="0.55" fill="#fff" fill-opacity="0.45"/>
<circle cx="653.8" cy="65.5" r="0.55" fill="#fff" fill-opacity="0.45"/>
<circle cx="655.5" cy="64.4" r="0.55" fill="#fff" fill-opacity="0.45"/>
<circle cx="657.4" cy="63.4" r="0.55" fill="#fff" fill-opacity="0.45"/>
<circle cx="659.0" cy="64.3" r="0.55" fill="#fff" fill-opacity="0.45"/>
<circle cx="660.5" cy="64.7" r="0.55" fill="#fff" fill-opacity="0.45"/>
<circle cx="662.5" cy="64.5" r="0.55" fill="#fff" fill-opacity="0.45"/>
<circle cx="664.3" cy="64.0" r="0.55" fill="#fff" fill-opacity="0.45"/>
<circle cx="666.1" cy="64.7" r="0.55" fill="#fff" fill-opacity="0.45"/>
<circle cx="668.4" cy="65.6" r="0.55" fill="#fff" fill-opacity="0.45"/>
<circle cx="670.1" cy="65.3" r="0.55" fill="#fff" fill-opacity="0.45"/>
<circle cx="671.4" cy="65.7" r="0.55" fill="#fff" fill-opacity="0.45"/>
<circle cx="673.2" cy="63.7" r="0.55" fill="#fff" fill-opacity="0.45"/>
<circle cx="675.2" cy="65.1" r="0.55" fill="#fff" fill-opacity="0.45"/>
<circle cx="404.8" cy="67.6" r="1.2" fill="#22c5c5"/>
<circle cx="487.5" cy="61.9" r="1.2" fill="#22c5c5"/>
<circle cx="631" cy="60.9" r="1.2" fill="#22c5c5"/>
<circle cx="556" cy="63" r="1.2" fill="#22c5c5"/>
<circle cx="571.8" cy="62.3" r="1.2" fill="#22c5c5"/>
<circle cx="621.6" cy="62.6" r="1.2" fill="#22c5c5"/>
<circle cx="430" cy="69.5" r="1.2" fill="#22c5c5"/>
</g>
<rect x="304.30" y="200.60" width="372.53" height="148.50" fill="none" stroke="#222" stroke-width="1.25"/>
<line x1="302.30" y1="349.10" x2="304.30" y2="349.10" stroke="#222" stroke-width="1.25" />
<line x1="300.30" y1="329.30" x2="304.30" y2="329.30" stroke="#222" stroke-width="1.25" />
<text x="296.80" y="332.70" font-size="10.0" font-weight="bold" text-anchor="end" fill="#111" stroke="#111" stroke-width="0.3" >0.4</text>
<line x1="302.30" y1="309.50" x2="304.30" y2="309.50" stroke="#222" stroke-width="1.25" />
<line x1="300.30" y1="289.70" x2="304.30" y2="289.70" stroke="#222" stroke-width="1.25" />
<text x="296.80" y="293.10" font-size="10.0" font-weight="bold" text-anchor="end" fill="#111" stroke="#111" stroke-width="0.3" >0.8</text>
<line x1="302.30" y1="269.90" x2="304.30" y2="269.90" stroke="#222" stroke-width="1.25" />
<line x1="300.30" y1="250.10" x2="304.30" y2="250.10" stroke="#222" stroke-width="1.25" />
<text x="296.80" y="253.50" font-size="10.0" font-weight="bold" text-anchor="end" fill="#111" stroke="#111" stroke-width="0.3" >1.2</text>
<line x1="302.30" y1="230.30" x2="304.30" y2="230.30" stroke="#222" stroke-width="1.25" />
<line x1="300.30" y1="210.50" x2="304.30" y2="210.50" stroke="#222" stroke-width="1.25" />
<text x="296.80" y="213.90" font-size="10.0" font-weight="bold" text-anchor="end" fill="#111" stroke="#111" stroke-width="0.3" >1.6</text>
<line x1="304.30" y1="349.10" x2="304.30" y2="352.50" stroke="#222" stroke-width="1.25" />
<text x="304.50" y="364.90" font-size="10.0" font-weight="bold" text-anchor="middle" fill="#111" stroke="#111" stroke-width="0.3" >0</text>
<line x1="322.93" y1="349.10" x2="322.93" y2="351.10" stroke="#222" stroke-width="1.25" />
<line x1="341.55" y1="349.10" x2="341.55" y2="352.50" stroke="#222" stroke-width="1.25" />
<text x="341.75" y="364.90" font-size="10.0" font-weight="bold" text-anchor="middle" fill="#111" stroke="#111" stroke-width="0.3" >10</text>
<line x1="360.18" y1="349.10" x2="360.18" y2="351.10" stroke="#222" stroke-width="1.25" />
<line x1="378.81" y1="349.10" x2="378.81" y2="352.50" stroke="#222" stroke-width="1.25" />
<text x="379.01" y="364.90" font-size="10.0" font-weight="bold" text-anchor="middle" fill="#111" stroke="#111" stroke-width="0.3" >20</text>
<line x1="397.43" y1="349.10" x2="397.43" y2="351.10" stroke="#222" stroke-width="1.25" />
<line x1="416.06" y1="349.10" x2="416.06" y2="352.50" stroke="#222" stroke-width="1.25" />
<text x="416.26" y="364.90" font-size="10.0" font-weight="bold" text-anchor="middle" fill="#111" stroke="#111" stroke-width="0.3" >30</text>
<line x1="434.69" y1="349.10" x2="434.69" y2="351.10" stroke="#222" stroke-width="1.25" />
<line x1="453.31" y1="349.10" x2="453.31" y2="352.50" stroke="#222" stroke-width="1.25" />
<text x="453.51" y="364.90" font-size="10.0" font-weight="bold" text-anchor="middle" fill="#111" stroke="#111" stroke-width="0.3" >40</text>
<line x1="471.94" y1="349.10" x2="471.94" y2="351.10" stroke="#222" stroke-width="1.25" />
<line x1="490.57" y1="349.10" x2="490.57" y2="352.50" stroke="#222" stroke-width="1.25" />
<text x="490.77" y="364.90" font-size="10.0" font-weight="bold" text-anchor="middle" fill="#111" stroke="#111" stroke-width="0.3" >50</text>
<line x1="509.19" y1="349.10" x2="509.19" y2="351.10" stroke="#222" stroke-width="1.25" />
<line x1="527.82" y1="349.10" x2="527.82" y2="352.50" stroke="#222" stroke-width="1.25" />
<text x="528.02" y="364.90" font-size="10.0" font-weight="bold" text-anchor="middle" fill="#111" stroke="#111" stroke-width="0.3" >60</text>
<line x1="546.44" y1="349.10" x2="546.44" y2="351.10" stroke="#222" stroke-width="1.25" />
<line x1="565.07" y1="349.10" x2="565.07" y2="352.50" stroke="#222" stroke-width="1.25" />
<text x="565.27" y="364.90" font-size="10.0" font-weight="bold" text-anchor="middle" fill="#111" stroke="#111" stroke-width="0.3" >70</text>
<line x1="583.70" y1="349.10" x2="583.70" y2="351.10" stroke="#222" stroke-width="1.25" />
<line x1="602.32" y1="349.10" x2="602.32" y2="352.50" stroke="#222" stroke-width="1.25" />
<text x="602.52" y="364.90" font-size="10.0" font-weight="bold" text-anchor="middle" fill="#111" stroke="#111" stroke-width="0.3" >80</text>
<line x1="620.95" y1="349.10" x2="620.95" y2="351.10" stroke="#222" stroke-width="1.25" />
<line x1="639.58" y1="349.10" x2="639.58" y2="352.50" stroke="#222" stroke-width="1.25" />
<text x="639.78" y="364.90" font-size="10.0" font-weight="bold" text-anchor="middle" fill="#111" stroke="#111" stroke-width="0.3" >90</text>
<line x1="658.20" y1="349.10" x2="658.20" y2="351.10" stroke="#222" stroke-width="1.25" />
<line x1="676.83" y1="349.10" x2="676.83" y2="352.50" stroke="#222" stroke-width="1.25" />
<text x="677.03" y="364.90" font-size="10.0" font-weight="bold" text-anchor="middle" fill="#111" stroke="#111" stroke-width="0.3" >100</text>
<text x="264.30" y="202.60" font-size="14.5" font-weight="bold" text-anchor="start" fill="#111" stroke="#111" stroke-width="0.3" >d</text>
<text x="277.60" y="267.50" font-size="10.3" font-weight="bold" text-anchor="middle" fill="#111" stroke="#111" stroke-width="0.3" transform="rotate(-90 277.6 267.5)">Voltage, V</text>
<text x="472.50" y="378.80" font-size="10.35" font-weight="bold" text-anchor="start" fill="#111" stroke="#111" stroke-width="0.3" >Time, h</text>
<text x="308.40" y="213.70" font-size="10.42" font-weight="bold" text-anchor="start" fill="#111" stroke="#111" stroke-width="0.3" >Ni-YSZ|YSZ|GDC|ME-PBSCC</text>
<text x="667.30" y="216.80" font-size="10.3" font-weight="bold" text-anchor="end" fill="#111" stroke="#111" stroke-width="0.3" >700 °C</text>
<text x="423.90" y="230.30" font-size="10.4" font-weight="bold" text-anchor="start" fill="#3aae55" stroke="#3aae55" stroke-width="0.12" >EC mode at -0.5 A cm<tspan font-size="70%" dy="-4">-2</tspan><tspan dy="4"> (2h)</tspan></text>
<text x="425.50" y="302.50" font-size="10.45" font-weight="bold" text-anchor="start" fill="#f04a4a" stroke="#f04a4a" stroke-width="0.12" >FC mode at 0.5 A cm<tspan font-size="70%" dy="-4">-2</tspan><tspan dy="4"> (2h)</tspan></text>
<text x="311.70" y="324.70" font-size="10.5" font-weight="bold" text-anchor="start" fill="#111" stroke="#111" stroke-width="0.3" >Fuel electrode: 30% H<tspan font-size="72%" dy="2.8">2</tspan><tspan dy="-2.8">O</tspan>+70% H<tspan font-size="72%" dy="2.8">2</tspan></text>
<text x="311.70" y="342.30" font-size="10.52" font-weight="bold" text-anchor="start" fill="#111" stroke="#111" stroke-width="0.3" >Oxygen electrode: air+3% H<tspan font-size="72%" dy="2.8">2</tspan><tspan dy="-2.8">O</tspan>+Cr</text>
<circle cx="304.67" cy="255.90" r="1.5" fill="#3fb35a"/>
<circle cx="305.23" cy="255.80" r="1.5" fill="#3fb35a"/>
<circle cx="305.79" cy="253.80" r="1.5" fill="#3fb35a"/>
<circle cx="306.35" cy="253.47" r="1.5" fill="#3fb35a"/>
<circle cx="306.91" cy="254.59" r="1.5" fill="#3fb35a"/>
<circle cx="307.47" cy="253.50" r="1.5" fill="#3fb35a"/>
<circle cx="308.03" cy="252.64" r="1.5" fill="#3fb35a"/>
<circle cx="308.58" cy="254.01" r="1.5" fill="#3fb35a"/>
<circle cx="309.14" cy="253.81" r="1.5" fill="#3fb35a"/>
<circle cx="309.70" cy="252.46" r="1.5" fill="#3fb35a"/>
<circle cx="310.26" cy="253.46" r="1.5" fill="#3fb35a"/>
<circle cx="310.82" cy="254.12" r="1.5" fill="#3fb35a"/>
<circle cx="311.38" cy="252.66" r="1.5" fill="#3fb35a"/>
<circle cx="312.12" cy="278.20" r="1.5" fill="#f24a4a"/>
<circle cx="312.68" cy="278.65" r="1.5" fill="#f24a4a"/>
<circle cx="313.24" cy="278.09" r="1.5" fill="#f24a4a"/>
<circle cx="313.80" cy="277.78" r="1.5" fill="#f24a4a"/>
<circle cx="314.36" cy="278.42" r="1.5" fill="#f24a4a"/>
<circle cx="314.92" cy="278.56" r="1.5" fill="#f24a4a"/>
<circle cx="315.48" cy="277.89" r="1.5" fill="#f24a4a"/>
<circle cx="316.03" cy="277.92" r="1.5" fill="#f24a4a"/>
<circle cx="316.59" cy="278.59" r="1.5" fill="#f24a4a"/>
<circle cx="317.15" cy="278.38" r="1.5" fill="#f24a4a"/>
<circle cx="317.71" cy="277.77" r="1.5" fill="#f24a4a"/>
<circle cx="318.27" cy="278.13" r="1.5" fill="#f24a4a"/>
<circle cx="318.83" cy="278.65" r="1.5" fill="#f24a4a"/>
<circle cx="319.57" cy="254.87" r="1.5" fill="#3fb35a"/>
<circle cx="320.13" cy="252.47" r="1.5" fill="#3fb35a"/>
<circle cx="320.69" cy="252.48" r="1.5" fill="#3fb35a"/>
<circle cx="321.25" cy="253.16" r="1.5" fill="#3fb35a"/>
<circle cx="321.81" cy="251.61" r="1.5" fill="#3fb35a"/>
<circle cx="322.37" cy="251.24" r="1.5" fill="#3fb35a"/>
<circle cx="322.93" cy="252.59" r="1.5" fill="#3fb35a"/>
<circle cx="323.49" cy="251.80" r="1.5" fill="#3fb35a"/>
<circle cx="324.04" cy="250.79" r="1.5" fill="#3fb35a"/>
<circle cx="324.60" cy="252.11" r="1.5" fill="#3fb35a"/>
<circle cx="325.16" cy="252.20" r="1.5" fill="#3fb35a"/>
<circle cx="325.72" cy="250.78" r="1.5" fill="#3fb35a"/>
<circle cx="326.28" cy="251.58" r="1.5" fill="#3fb35a"/>
<circle cx="327.02" cy="278.98" r="1.5" fill="#f24a4a"/>
<circle cx="327.58" cy="278.79" r="1.5" fill="#f24a4a"/>
<circle cx="328.14" cy="278.17" r="1.5" fill="#f24a4a"/>
<circle cx="328.70" cy="278.52" r="1.5" fill="#f24a4a"/>
<circle cx="329.26" cy="279.05" r="1.5" fill="#f24a4a"/>
<circle cx="329.82" cy="278.57" r="1.5" fill="#f24a4a"/>
<circle cx="330.38" cy="278.16" r="1.5" fill="#f24a4a"/>
<circle cx="330.94" cy="278.75" r="1.5" fill="#f24a4a"/>
<circle cx="331.49" cy="279.00" r="1.5" fill="#f24a4a"/>
<circle cx="332.05" cy="278.35" r="1.5" fill="#f24a4a"/>
<circle cx="332.61" cy="278.26" r="1.5" fill="#f24a4a"/>
<circle cx="333.17" cy="278.94" r="1.5" fill="#f24a4a"/>
<circle cx="333.73" cy="278.85" r="1.5" fill="#f24a4a"/>
<circle cx="334.47" cy="251.11" r="1.5" fill="#3fb35a"/>
<circle cx="335.03" cy="251.24" r="1.5" fill="#3fb35a"/>
<circle cx="335.59" cy="251.22" r="1.5" fill="#3fb35a"/>
<circle cx="336.15" cy="249.37" r="1.5" fill="#3fb35a"/>
<circle cx="336.71" cy="249.50" r="1.5" fill="#3fb35a"/>
<circle cx="337.27" cy="250.57" r="1.5" fill="#3fb35a"/>
<circle cx="337.83" cy="249.31" r="1.5" fill="#3fb35a"/>
<circle cx="338.39" cy="248.78" r="1.5" fill="#3fb35a"/>
<circle cx="338.95" cy="250.20" r="1.5" fill="#3fb35a"/>
<circle cx="339.50" cy="249.70" r="1.5" fill="#3fb35a"/>
<circle cx="340.06" cy="248.53" r="1.5" fill="#3fb35a"/>
<circle cx="340.62" cy="249.74" r="1.5" fill="#3fb35a"/>
<circle cx="341.18" cy="250.10" r="1.5" fill="#3fb35a"/>
<circle cx="341.93" cy="279.21" r="1.5" fill="#f24a4a"/>
<circle cx="342.48" cy="278.56" r="1.5" fill="#f24a4a"/>
<circle cx="343.04" cy="278.45" r="1.5" fill="#f24a4a"/>
<circle cx="343.60" cy="279.13" r="1.5" fill="#f24a4a"/>
<circle cx="344.16" cy="279.06" r="1.5" fill="#f24a4a"/>
<circle cx="344.72" cy="278.40" r="1.5" fill="#f24a4a"/>
<circle cx="345.28" cy="278.64" r="1.5" fill="#f24a4a"/>
<circle cx="345.84" cy="279.24" r="1.5" fill="#f24a4a"/>
<circle cx="346.40" cy="278.85" r="1.5" fill="#f24a4a"/>
<circle cx="346.95" cy="278.35" r="1.5" fill="#f24a4a"/>
<circle cx="347.51" cy="278.87" r="1.5" fill="#f24a4a"/>
<circle cx="348.07" cy="279.23" r="1.5" fill="#f24a4a"/>
<circle cx="348.63" cy="278.62" r="1.5" fill="#f24a4a"/>
<circle cx="349.38" cy="251.42" r="1.5" fill="#3fb35a"/>
<circle cx="349.93" cy="250.48" r="1.5" fill="#3fb35a"/>
<circle cx="350.49" cy="248.49" r="1.5" fill="#3fb35a"/>
<circle cx="351.05" cy="249.00" r="1.5" fill="#3fb35a"/>
<circle cx="351.61" cy="249.56" r="1.5" fill="#3fb35a"/>
<circle cx="352.17" cy="247.99" r="1.5" fill="#3fb35a"/>
<circle cx="352.73" cy="248.00" r="1.5" fill="#3fb35a"/>
<circle cx="353.29" cy="249.29" r="1.5" fill="#3fb35a"/>
<circle cx="353.85" cy="248.27" r="1.5" fill="#3fb35a"/>
<circle cx="354.41" cy="247.53" r="1.5" fill="#3fb35a"/>
<circle cx="354.96" cy="248.95" r="1.5" fill="#3fb35a"/>
<circle cx="355.52" cy="248.73" r="1.5" fill="#3fb35a"/>
<circle cx="356.08" cy="247.42" r="1.5" fill="#3fb35a"/>
<circle cx="356.83" cy="279.06" r="1.5" fill="#f24a4a"/>
<circle cx="357.39" cy="278.55" r="1.5" fill="#f24a4a"/>
<circle cx="357.94" cy="279.05" r="1.5" fill="#f24a4a"/>
<circle cx="358.50" cy="279.44" r="1.5" fill="#f24a4a"/>
<circle cx="359.06" cy="278.84" r="1.5" fill="#f24a4a"/>
<circle cx="359.62" cy="278.61" r="1.5" fill="#f24a4a"/>
<circle cx="360.18" cy="279.27" r="1.5" fill="#f24a4a"/>
<circle cx="360.74" cy="279.33" r="1.5" fill="#f24a4a"/>
<circle cx="361.30" cy="278.65" r="1.5" fill="#f24a4a"/>
<circle cx="361.86" cy="278.76" r="1.5" fill="#f24a4a"/>
<circle cx="362.41" cy="279.41" r="1.5" fill="#f24a4a"/>
<circle cx="362.97" cy="279.13" r="1.5" fill="#f24a4a"/>
<circle cx="363.53" cy="278.56" r="1.5" fill="#f24a4a"/>
<circle cx="364.28" cy="250.40" r="1.5" fill="#3fb35a"/>
<circle cx="364.84" cy="248.36" r="1.5" fill="#3fb35a"/>
<circle cx="365.39" cy="249.03" r="1.5" fill="#3fb35a"/>
<circle cx="365.95" cy="248.92" r="1.5" fill="#3fb35a"/>
<circle cx="366.51" cy="247.22" r="1.5" fill="#3fb35a"/>
<circle cx="367.07" cy="247.73" r="1.5" fill="#3fb35a"/>
<circle cx="367.63" cy="248.66" r="1.5" fill="#3fb35a"/>
<circle cx="368.19" cy="247.27" r="1.5" fill="#3fb35a"/>
<circle cx="368.75" cy="247.07" r="1.5" fill="#3fb35a"/>
<circle cx="369.31" cy="248.47" r="1.5" fill="#3fb35a"/>
<circle cx="369.87" cy="247.69" r="1.5" fill="#3fb35a"/>
<circle cx="370.42" cy="246.75" r="1.5" fill="#3fb35a"/>
<circle cx="370.98" cy="248.11" r="1.5" fill="#3fb35a"/>
<circle cx="371.73" cy="278.96" r="1.5" fill="#f24a4a"/>
<circle cx="372.29" cy="279.05" r="1.5" fill="#f24a4a"/>
<circle cx="372.85" cy="279.70" r="1.5" fill="#f24a4a"/>
<circle cx="373.40" cy="279.44" r="1.5" fill="#f24a4a"/>
<circle cx="373.96" cy="278.86" r="1.5" fill="#f24a4a"/>
<circle cx="374.52" cy="279.27" r="1.5" fill="#f24a4a"/>
<circle cx="375.08" cy="279.75" r="1.5" fill="#f24a4a"/>
<circle cx="375.64" cy="279.21" r="1.5" fill="#f24a4a"/>
<circle cx="376.20" cy="278.87" r="1.5" fill="#f24a4a"/>
<circle cx="376.76" cy="279.50" r="1.5" fill="#f24a4a"/>
<circle cx="377.32" cy="279.68" r="1.5" fill="#f24a4a"/>
<circle cx="377.87" cy="279.01" r="1.5" fill="#f24a4a"/>
<circle cx="378.43" cy="279.00" r="1.5" fill="#f24a4a"/>
<circle cx="379.18" cy="248.61" r="1.5" fill="#3fb35a"/>
<circle cx="379.74" cy="249.12" r="1.5" fill="#3fb35a"/>
<circle cx="380.30" cy="248.20" r="1.5" fill="#3fb35a"/>
<circle cx="380.85" cy="246.57" r="1.5" fill="#3fb35a"/>
<circle cx="381.41" cy="247.45" r="1.5" fill="#3fb35a"/>
<circle cx="381.97" cy="247.82" r="1.5" fill="#3fb35a"/>
<circle cx="382.53" cy="246.26" r="1.5" fill="#3fb35a"/>
<circle cx="383.09" cy="246.61" r="1.5" fill="#3fb35a"/>
<circle cx="383.65" cy="247.77" r="1.5" fill="#3fb35a"/>
<circle cx="384.21" cy="246.56" r="1.5" fill="#3fb35a"/>
<circle cx="384.77" cy="246.11" r="1.5" fill="#3fb35a"/>
<circle cx="385.33" cy="247.57" r="1.5" fill="#3fb35a"/>
<circle cx="385.88" cy="247.04" r="1.5" fill="#3fb35a"/>
<circle cx="386.63" cy="279.07" r="1.5" fill="#f24a4a"/>
<circle cx="387.19" cy="279.68" r="1.5" fill="#f24a4a"/>
<circle cx="387.75" cy="279.88" r="1.5" fill="#f24a4a"/>
<circle cx="388.31" cy="279.22" r="1.5" fill="#f24a4a"/>
<circle cx="388.86" cy="279.19" r="1.5" fill="#f24a4a"/>
<circle cx="389.42" cy="279.86" r="1.5" fill="#f24a4a"/>
<circle cx="389.98" cy="279.72" r="1.5" fill="#f24a4a"/>
<circle cx="390.54" cy="279.08" r="1.5" fill="#f24a4a"/>
<circle cx="391.10" cy="279.39" r="1.5" fill="#f24a4a"/>
<circle cx="391.66" cy="279.95" r="1.5" fill="#f24a4a"/>
<circle cx="392.22" cy="279.50" r="1.5" fill="#f24a4a"/>
<circle cx="392.78" cy="279.05" r="1.5" fill="#f24a4a"/>
<circle cx="393.33" cy="279.62" r="1.5" fill="#f24a4a"/>
<circle cx="394.08" cy="249.15" r="1.5" fill="#3fb35a"/>
<circle cx="394.64" cy="247.36" r="1.5" fill="#3fb35a"/>
<circle cx="395.20" cy="245.89" r="1.5" fill="#3fb35a"/>
<circle cx="395.76" cy="246.91" r="1.5" fill="#3fb35a"/>
<circle cx="396.31" cy="246.62" r="1.5" fill="#3fb35a"/>
<circle cx="396.87" cy="245.10" r="1.5" fill="#3fb35a"/>
<circle cx="397.43" cy="245.93" r="1.5" fill="#3fb35a"/>
<circle cx="397.99" cy="246.64" r="1.5" fill="#3fb35a"/>
<circle cx="398.55" cy="245.17" r="1.5" fill="#3fb35a"/>
<circle cx="399.11" cy="245.30" r="1.5" fill="#3fb35a"/>
<circle cx="399.67" cy="246.61" r="1.5" fill="#3fb35a"/>
<circle cx="400.23" cy="245.59" r="1.5" fill="#3fb35a"/>
<circle cx="400.79" cy="244.91" r="1.5" fill="#3fb35a"/>
<circle cx="401.53" cy="279.57" r="1.5" fill="#f24a4a"/>
<circle cx="402.09" cy="280.14" r="1.5" fill="#f24a4a"/>
<circle cx="402.65" cy="279.71" r="1.5" fill="#f24a4a"/>
<circle cx="403.21" cy="279.25" r="1.5" fill="#f24a4a"/>
<circle cx="403.77" cy="279.80" r="1.5" fill="#f24a4a"/>
<circle cx="404.32" cy="280.12" r="1.5" fill="#f24a4a"/>
<circle cx="404.88" cy="279.49" r="1.5" fill="#f24a4a"/>
<circle cx="405.44" cy="279.33" r="1.5" fill="#f24a4a"/>
<circle cx="406.00" cy="280.01" r="1.5" fill="#f24a4a"/>
<circle cx="406.56" cy="279.99" r="1.5" fill="#f24a4a"/>
<circle cx="407.12" cy="279.32" r="1.5" fill="#f24a4a"/>
<circle cx="407.68" cy="279.51" r="1.5" fill="#f24a4a"/>
<circle cx="408.24" cy="280.13" r="1.5" fill="#f24a4a"/>
<circle cx="408.98" cy="245.66" r="1.5" fill="#3fb35a"/>
<circle cx="409.54" cy="244.37" r="1.5" fill="#3fb35a"/>
<circle cx="410.10" cy="245.23" r="1.5" fill="#3fb35a"/>
<circle cx="410.66" cy="244.24" r="1.5" fill="#3fb35a"/>
<circle cx="411.22" cy="242.93" r="1.5" fill="#3fb35a"/>
<circle cx="411.77" cy="244.07" r="1.5" fill="#3fb35a"/>
<circle cx="412.33" cy="244.20" r="1.5" fill="#3fb35a"/>
<circle cx="412.89" cy="242.70" r="1.5" fill="#3fb35a"/>
<circle cx="413.45" cy="243.36" r="1.5" fill="#3fb35a"/>
<circle cx="414.01" cy="244.32" r="1.5" fill="#3fb35a"/>
<circle cx="414.57" cy="242.96" r="1.5" fill="#3fb35a"/>
<circle cx="415.13" cy="242.84" r="1.5" fill="#3fb35a"/>
<circle cx="415.69" cy="244.25" r="1.5" fill="#3fb35a"/>
<circle cx="416.43" cy="280.30" r="1.5" fill="#f24a4a"/>
<circle cx="416.99" cy="280.30" r="1.5" fill="#f24a4a"/>
<circle cx="417.55" cy="279.63" r="1.5" fill="#f24a4a"/>
<circle cx="418.11" cy="279.80" r="1.5" fill="#f24a4a"/>
<circle cx="418.67" cy="280.42" r="1.5" fill="#f24a4a"/>
<circle cx="419.23" cy="280.09" r="1.5" fill="#f24a4a"/>
<circle cx="419.78" cy="279.55" r="1.5" fill="#f24a4a"/>
<circle cx="420.34" cy="280.02" r="1.5" fill="#f24a4a"/>
<circle cx="420.90" cy="280.44" r="1.5" fill="#f24a4a"/>
<circle cx="421.46" cy="279.86" r="1.5" fill="#f24a4a"/>
<circle cx="422.02" cy="279.59" r="1.5" fill="#f24a4a"/>
<circle cx="422.58" cy="280.24" r="1.5" fill="#f24a4a"/>
<circle cx="423.14" cy="280.35" r="1.5" fill="#f24a4a"/>
<circle cx="423.88" cy="244.51" r="1.5" fill="#3fb35a"/>
<circle cx="424.44" cy="244.84" r="1.5" fill="#3fb35a"/>
<circle cx="425.00" cy="243.16" r="1.5" fill="#3fb35a"/>
<circle cx="425.56" cy="242.19" r="1.5" fill="#3fb35a"/>
<circle cx="426.12" cy="243.41" r="1.5" fill="#3fb35a"/>
<circle cx="426.68" cy="242.90" r="1.5" fill="#3fb35a"/>
<circle cx="427.23" cy="241.57" r="1.5" fill="#3fb35a"/>
<circle cx="427.79" cy="242.66" r="1.5" fill="#3fb35a"/>
<circle cx="428.35" cy="243.10" r="1.5" fill="#3fb35a"/>
<circle cx="428.91" cy="241.62" r="1.5" fill="#3fb35a"/>
<circle cx="429.47" cy="242.06" r="1.5" fill="#3fb35a"/>
<circle cx="430.03" cy="243.22" r="1.5" fill="#3fb35a"/>
<circle cx="430.59" cy="241.99" r="1.5" fill="#3fb35a"/>
<circle cx="431.33" cy="280.65" r="1.5" fill="#f24a4a"/>
<circle cx="431.89" cy="280.08" r="1.5" fill="#f24a4a"/>
<circle cx="432.45" cy="279.79" r="1.5" fill="#f24a4a"/>
<circle cx="433.01" cy="280.43" r="1.5" fill="#f24a4a"/>
<circle cx="433.57" cy="280.55" r="1.5" fill="#f24a4a"/>
<circle cx="434.13" cy="279.88" r="1.5" fill="#f24a4a"/>
<circle cx="434.69" cy="279.93" r="1.5" fill="#f24a4a"/>
<circle cx="435.24" cy="280.59" r="1.5" fill="#f24a4a"/>
<circle cx="435.80" cy="280.37" r="1.5" fill="#f24a4a"/>
<circle cx="436.36" cy="279.77" r="1.5" fill="#f24a4a"/>
<circle cx="436.92" cy="280.14" r="1.5" fill="#f24a4a"/>
<circle cx="437.48" cy="280.65" r="1.5" fill="#f24a4a"/>
<circle cx="438.04" cy="280.14" r="1.5" fill="#f24a4a"/>
<circle cx="438.78" cy="246.07" r="1.5" fill="#3fb35a"/>
<circle cx="439.34" cy="243.74" r="1.5" fill="#3fb35a"/>
<circle cx="439.90" cy="243.12" r="1.5" fill="#3fb35a"/>
<circle cx="440.46" cy="244.12" r="1.5" fill="#3fb35a"/>
<circle cx="441.02" cy="243.00" r="1.5" fill="#3fb35a"/>
<circle cx="441.58" cy="242.02" r="1.5" fill="#3fb35a"/>
<circle cx="442.14" cy="243.34" r="1.5" fill="#3fb35a"/>
<circle cx="442.69" cy="243.18" r="1.5" fill="#3fb35a"/>
<circle cx="443.25" cy="241.79" r="1.5" fill="#3fb35a"/>
<circle cx="443.81" cy="242.73" r="1.5" fill="#3fb35a"/>
<circle cx="444.37" cy="243.45" r="1.5" fill="#3fb35a"/>
<circle cx="444.93" cy="242.00" r="1.5" fill="#3fb35a"/>
<circle cx="445.49" cy="242.19" r="1.5" fill="#3fb35a"/>
<circle cx="446.23" cy="280.59" r="1.5" fill="#f24a4a"/>
<circle cx="446.79" cy="279.97" r="1.5" fill="#f24a4a"/>
<circle cx="447.35" cy="280.33" r="1.5" fill="#f24a4a"/>
<circle cx="447.91" cy="280.85" r="1.5" fill="#f24a4a"/>
<circle cx="448.47" cy="280.36" r="1.5" fill="#f24a4a"/>
<circle cx="449.03" cy="279.96" r="1.5" fill="#f24a4a"/>
<circle cx="449.59" cy="280.55" r="1.5" fill="#f24a4a"/>
<circle cx="450.15" cy="280.80" r="1.5" fill="#f24a4a"/>
<circle cx="450.70" cy="280.14" r="1.5" fill="#f24a4a"/>
<circle cx="451.26" cy="280.07" r="1.5" fill="#f24a4a"/>
<circle cx="451.82" cy="280.74" r="1.5" fill="#f24a4a"/>
<circle cx="452.38" cy="280.64" r="1.5" fill="#f24a4a"/>
<circle cx="452.94" cy="279.99" r="1.5" fill="#f24a4a"/>
<circle cx="453.68" cy="243.94" r="1.5" fill="#3fb35a"/>
<circle cx="454.24" cy="243.54" r="1.5" fill="#3fb35a"/>
<circle cx="454.80" cy="244.04" r="1.5" fill="#3fb35a"/>
<circle cx="455.36" cy="242.39" r="1.5" fill="#3fb35a"/>
<circle cx="455.92" cy="241.87" r="1.5" fill="#3fb35a"/>
<circle cx="456.48" cy="243.16" r="1.5" fill="#3fb35a"/>
<circle cx="457.04" cy="242.41" r="1.5" fill="#3fb35a"/>
<circle cx="457.60" cy="241.32" r="1.5" fill="#3fb35a"/>
<circle cx="458.15" cy="242.60" r="1.5" fill="#3fb35a"/>
<circle cx="458.71" cy="242.75" r="1.5" fill="#3fb35a"/>
<circle cx="459.27" cy="241.30" r="1.5" fill="#3fb35a"/>
<circle cx="459.83" cy="242.04" r="1.5" fill="#3fb35a"/>
<circle cx="460.39" cy="242.98" r="1.5" fill="#3fb35a"/>
<circle cx="461.14" cy="280.36" r="1.5" fill="#f24a4a"/>
<circle cx="461.69" cy="280.26" r="1.5" fill="#f24a4a"/>
<circle cx="462.25" cy="280.93" r="1.5" fill="#f24a4a"/>
<circle cx="462.81" cy="280.86" r="1.5" fill="#f24a4a"/>
<circle cx="463.37" cy="280.20" r="1.5" fill="#f24a4a"/>
<circle cx="463.93" cy="280.45" r="1.5" fill="#f24a4a"/>
<circle cx="464.49" cy="281.04" r="1.5" fill="#f24a4a"/>
<circle cx="465.05" cy="280.64" r="1.5" fill="#f24a4a"/>
<circle cx="465.61" cy="280.15" r="1.5" fill="#f24a4a"/>
<circle cx="466.16" cy="280.67" r="1.5" fill="#f24a4a"/>
<circle cx="466.72" cy="281.03" r="1.5" fill="#f24a4a"/>
<circle cx="467.28" cy="280.41" r="1.5" fill="#f24a4a"/>
<circle cx="467.84" cy="280.22" r="1.5" fill="#f24a4a"/>
<circle cx="468.59" cy="244.35" r="1.5" fill="#3fb35a"/>
<circle cx="469.14" cy="244.04" r="1.5" fill="#3fb35a"/>
<circle cx="469.70" cy="241.99" r="1.5" fill="#3fb35a"/>
<circle cx="470.26" cy="241.90" r="1.5" fill="#3fb35a"/>
<circle cx="470.82" cy="242.92" r="1.5" fill="#3fb35a"/>
<circle cx="471.38" cy="241.65" r="1.5" fill="#3fb35a"/>
<circle cx="471.94" cy="241.01" r="1.5" fill="#3fb35a"/>
<circle cx="472.50" cy="242.41" r="1.5" fill="#3fb35a"/>
<circle cx="473.06" cy="241.97" r="1.5" fill="#3fb35a"/>
<circle cx="473.61" cy="240.74" r="1.5" fill="#3fb35a"/>
<circle cx="474.17" cy="241.91" r="1.5" fill="#3fb35a"/>
<circle cx="474.73" cy="242.34" r="1.5" fill="#3fb35a"/>
<circle cx="475.29" cy="240.87" r="1.5" fill="#3fb35a"/>
<circle cx="476.04" cy="280.35" r="1.5" fill="#f24a4a"/>
<circle cx="476.60" cy="280.86" r="1.5" fill="#f24a4a"/>
<circle cx="477.15" cy="281.23" r="1.5" fill="#f24a4a"/>
<circle cx="477.71" cy="280.63" r="1.5" fill="#f24a4a"/>
<circle cx="478.27" cy="280.41" r="1.5" fill="#f24a4a"/>
<circle cx="478.83" cy="281.07" r="1.5" fill="#f24a4a"/>
<circle cx="479.39" cy="281.12" r="1.5" fill="#f24a4a"/>
<circle cx="479.95" cy="280.45" r="1.5" fill="#f24a4a"/>
<circle cx="480.51" cy="280.57" r="1.5" fill="#f24a4a"/>
<circle cx="481.07" cy="281.21" r="1.5" fill="#f24a4a"/>
<circle cx="481.62" cy="280.92" r="1.5" fill="#f24a4a"/>
<circle cx="482.18" cy="280.35" r="1.5" fill="#f24a4a"/>
<circle cx="482.74" cy="280.79" r="1.5" fill="#f24a4a"/>
<circle cx="483.49" cy="244.56" r="1.5" fill="#3fb35a"/>
<circle cx="484.05" cy="242.20" r="1.5" fill="#3fb35a"/>
<circle cx="484.60" cy="242.43" r="1.5" fill="#3fb35a"/>
<circle cx="485.16" cy="242.92" r="1.5" fill="#3fb35a"/>
<circle cx="485.72" cy="241.28" r="1.5" fill="#3fb35a"/>
<circle cx="486.28" cy="241.16" r="1.5" fill="#3fb35a"/>
<circle cx="486.84" cy="242.44" r="1.5" fill="#3fb35a"/>
<circle cx="487.40" cy="241.45" r="1.5" fill="#3fb35a"/>
<circle cx="487.96" cy="240.64" r="1.5" fill="#3fb35a"/>
<circle cx="488.52" cy="242.04" r="1.5" fill="#3fb35a"/>
<circle cx="489.07" cy="241.88" r="1.5" fill="#3fb35a"/>
<circle cx="489.63" cy="240.53" r="1.5" fill="#3fb35a"/>
<circle cx="490.19" cy="241.53" r="1.5" fill="#3fb35a"/>
<circle cx="490.94" cy="280.96" r="1.5" fill="#f24a4a"/>
<circle cx="491.50" cy="281.61" r="1.5" fill="#f24a4a"/>
<circle cx="492.06" cy="281.34" r="1.5" fill="#f24a4a"/>
<circle cx="492.61" cy="280.76" r="1.5" fill="#f24a4a"/>
<circle cx="493.17" cy="281.18" r="1.5" fill="#f24a4a"/>
<circle cx="493.73" cy="281.65" r="1.5" fill="#f24a4a"/>
<circle cx="494.29" cy="281.11" r="1.5" fill="#f24a4a"/>
<circle cx="494.85" cy="280.78" r="1.5" fill="#f24a4a"/>
<circle cx="495.41" cy="281.40" r="1.5" fill="#f24a4a"/>
<circle cx="495.97" cy="281.57" r="1.5" fill="#f24a4a"/>
<circle cx="496.53" cy="280.90" r="1.5" fill="#f24a4a"/>
<circle cx="497.08" cy="280.90" r="1.5" fill="#f24a4a"/>
<circle cx="497.64" cy="281.57" r="1.5" fill="#f24a4a"/>
<circle cx="498.39" cy="242.80" r="1.5" fill="#3fb35a"/>
<circle cx="498.95" cy="243.09" r="1.5" fill="#3fb35a"/>
<circle cx="499.51" cy="242.83" r="1.5" fill="#3fb35a"/>
<circle cx="500.06" cy="240.99" r="1.5" fill="#3fb35a"/>
<circle cx="500.62" cy="241.34" r="1.5" fill="#3fb35a"/>
<circle cx="501.18" cy="242.26" r="1.5" fill="#3fb35a"/>
<circle cx="501.74" cy="240.87" r="1.5" fill="#3fb35a"/>
<circle cx="502.30" cy="240.57" r="1.5" fill="#3fb35a"/>
<circle cx="502.86" cy="241.98" r="1.5" fill="#3fb35a"/>
<circle cx="503.42" cy="241.25" r="1.5" fill="#3fb35a"/>
<circle cx="503.98" cy="240.25" r="1.5" fill="#3fb35a"/>
<circle cx="504.53" cy="241.58" r="1.5" fill="#3fb35a"/>
<circle cx="505.09" cy="241.70" r="1.5" fill="#3fb35a"/>
<circle cx="505.84" cy="281.69" r="1.5" fill="#f24a4a"/>
<circle cx="506.40" cy="281.88" r="1.5" fill="#f24a4a"/>
<circle cx="506.96" cy="281.21" r="1.5" fill="#f24a4a"/>
<circle cx="507.52" cy="281.19" r="1.5" fill="#f24a4a"/>
<circle cx="508.07" cy="281.87" r="1.5" fill="#f24a4a"/>
<circle cx="508.63" cy="281.71" r="1.5" fill="#f24a4a"/>
<circle cx="509.19" cy="281.08" r="1.5" fill="#f24a4a"/>
<circle cx="509.75" cy="281.40" r="1.5" fill="#f24a4a"/>
<circle cx="510.31" cy="281.95" r="1.5" fill="#f24a4a"/>
<circle cx="510.87" cy="281.49" r="1.5" fill="#f24a4a"/>
<circle cx="511.43" cy="281.06" r="1.5" fill="#f24a4a"/>
<circle cx="511.99" cy="281.63" r="1.5" fill="#f24a4a"/>
<circle cx="512.54" cy="281.91" r="1.5" fill="#f24a4a"/>
<circle cx="513.29" cy="243.54" r="1.5" fill="#3fb35a"/>
<circle cx="513.85" cy="242.35" r="1.5" fill="#3fb35a"/>
<circle cx="514.41" cy="240.45" r="1.5" fill="#3fb35a"/>
<circle cx="514.97" cy="241.14" r="1.5" fill="#3fb35a"/>
<circle cx="515.52" cy="241.50" r="1.5" fill="#3fb35a"/>
<circle cx="516.08" cy="239.89" r="1.5" fill="#3fb35a"/>
<circle cx="516.64" cy="240.13" r="1.5" fill="#3fb35a"/>
<circle cx="517.20" cy="241.31" r="1.5" fill="#3fb35a"/>
<circle cx="517.76" cy="240.12" r="1.5" fill="#3fb35a"/>
<circle cx="518.32" cy="239.60" r="1.5" fill="#3fb35a"/>
<circle cx="518.88" cy="241.05" r="1.5" fill="#3fb35a"/>
<circle cx="519.44" cy="240.59" r="1.5" fill="#3fb35a"/>
<circle cx="519.99" cy="239.41" r="1.5" fill="#3fb35a"/>
<circle cx="520.74" cy="282.35" r="1.5" fill="#f24a4a"/>
<circle cx="521.30" cy="281.90" r="1.5" fill="#f24a4a"/>
<circle cx="521.86" cy="281.45" r="1.5" fill="#f24a4a"/>
<circle cx="522.42" cy="282.01" r="1.5" fill="#f24a4a"/>
<circle cx="522.98" cy="282.32" r="1.5" fill="#f24a4a"/>
<circle cx="523.53" cy="281.68" r="1.5" fill="#f24a4a"/>
<circle cx="524.09" cy="281.54" r="1.5" fill="#f24a4a"/>
<circle cx="524.65" cy="282.21" r="1.5" fill="#f24a4a"/>
<circle cx="525.21" cy="282.18" r="1.5" fill="#f24a4a"/>
<circle cx="525.77" cy="281.52" r="1.5" fill="#f24a4a"/>
<circle cx="526.33" cy="281.72" r="1.5" fill="#f24a4a"/>
<circle cx="526.89" cy="282.33" r="1.5" fill="#f24a4a"/>
<circle cx="527.45" cy="281.97" r="1.5" fill="#f24a4a"/>
<circle cx="528.19" cy="242.35" r="1.5" fill="#3fb35a"/>
<circle cx="528.75" cy="240.48" r="1.5" fill="#3fb35a"/>
<circle cx="529.31" cy="241.26" r="1.5" fill="#3fb35a"/>
<circle cx="529.87" cy="240.90" r="1.5" fill="#3fb35a"/>
<circle cx="530.43" cy="239.27" r="1.5" fill="#3fb35a"/>
<circle cx="530.98" cy="239.98" r="1.5" fill="#3fb35a"/>
<circle cx="531.54" cy="240.72" r="1.5" fill="#3fb35a"/>
<circle cx="532.10" cy="239.24" r="1.5" fill="#3fb35a"/>
<circle cx="532.66" cy="239.29" r="1.5" fill="#3fb35a"/>
<circle cx="533.22" cy="240.62" r="1.5" fill="#3fb35a"/>
<circle cx="533.78" cy="239.64" r="1.5" fill="#3fb35a"/>
<circle cx="534.34" cy="238.90" r="1.5" fill="#3fb35a"/>
<circle cx="534.90" cy="240.33" r="1.5" fill="#3fb35a"/>
<circle cx="535.64" cy="282.59" r="1.5" fill="#f24a4a"/>
<circle cx="536.20" cy="281.92" r="1.5" fill="#f24a4a"/>
<circle cx="536.76" cy="282.10" r="1.5" fill="#f24a4a"/>
<circle cx="537.32" cy="282.73" r="1.5" fill="#f24a4a"/>
<circle cx="537.88" cy="282.39" r="1.5" fill="#f24a4a"/>
<circle cx="538.44" cy="281.85" r="1.5" fill="#f24a4a"/>
<circle cx="538.99" cy="282.33" r="1.5" fill="#f24a4a"/>
<circle cx="539.55" cy="282.74" r="1.5" fill="#f24a4a"/>
<circle cx="540.11" cy="282.16" r="1.5" fill="#f24a4a"/>
<circle cx="540.67" cy="281.90" r="1.5" fill="#f24a4a"/>
<circle cx="541.23" cy="282.55" r="1.5" fill="#f24a4a"/>
<circle cx="541.79" cy="282.64" r="1.5" fill="#f24a4a"/>
<circle cx="542.35" cy="281.96" r="1.5" fill="#f24a4a"/>
<circle cx="543.09" cy="241.40" r="1.5" fill="#3fb35a"/>
<circle cx="543.65" cy="241.91" r="1.5" fill="#3fb35a"/>
<circle cx="544.21" cy="240.76" r="1.5" fill="#3fb35a"/>
<circle cx="544.77" cy="239.27" r="1.5" fill="#3fb35a"/>
<circle cx="545.33" cy="240.29" r="1.5" fill="#3fb35a"/>
<circle cx="545.89" cy="240.43" r="1.5" fill="#3fb35a"/>
<circle cx="546.44" cy="238.88" r="1.5" fill="#3fb35a"/>
<circle cx="547.00" cy="239.46" r="1.5" fill="#3fb35a"/>
<circle cx="547.56" cy="240.46" r="1.5" fill="#3fb35a"/>
<circle cx="548.12" cy="239.12" r="1.5" fill="#3fb35a"/>
<circle cx="548.68" cy="238.92" r="1.5" fill="#3fb35a"/>
<circle cx="549.24" cy="240.34" r="1.5" fill="#3fb35a"/>
<circle cx="549.80" cy="239.59" r="1.5" fill="#3fb35a"/>
<circle cx="550.54" cy="282.57" r="1.5" fill="#f24a4a"/>
<circle cx="551.10" cy="282.29" r="1.5" fill="#f24a4a"/>
<circle cx="551.66" cy="282.94" r="1.5" fill="#f24a4a"/>
<circle cx="552.22" cy="283.05" r="1.5" fill="#f24a4a"/>
<circle cx="552.78" cy="282.37" r="1.5" fill="#f24a4a"/>
<circle cx="553.34" cy="282.43" r="1.5" fill="#f24a4a"/>
<circle cx="553.90" cy="283.09" r="1.5" fill="#f24a4a"/>
<circle cx="554.45" cy="282.86" r="1.5" fill="#f24a4a"/>
<circle cx="555.01" cy="282.26" r="1.5" fill="#f24a4a"/>
<circle cx="555.57" cy="282.65" r="1.5" fill="#f24a4a"/>
<circle cx="556.13" cy="283.15" r="1.5" fill="#f24a4a"/>
<circle cx="556.69" cy="282.64" r="1.5" fill="#f24a4a"/>
<circle cx="557.25" cy="282.27" r="1.5" fill="#f24a4a"/>
<circle cx="557.99" cy="242.99" r="1.5" fill="#3fb35a"/>
<circle cx="558.55" cy="241.01" r="1.5" fill="#3fb35a"/>
<circle cx="559.11" cy="239.75" r="1.5" fill="#3fb35a"/>
<circle cx="559.67" cy="240.82" r="1.5" fill="#3fb35a"/>
<circle cx="560.23" cy="240.29" r="1.5" fill="#3fb35a"/>
<circle cx="560.79" cy="238.87" r="1.5" fill="#3fb35a"/>
<circle cx="561.35" cy="239.88" r="1.5" fill="#3fb35a"/>
<circle cx="561.90" cy="240.37" r="1.5" fill="#3fb35a"/>
<circle cx="562.46" cy="238.87" r="1.5" fill="#3fb35a"/>
<circle cx="563.02" cy="239.24" r="1.5" fill="#3fb35a"/>
<circle cx="563.58" cy="240.43" r="1.5" fill="#3fb35a"/>
<circle cx="564.14" cy="239.24" r="1.5" fill="#3fb35a"/>
<circle cx="564.70" cy="238.79" r="1.5" fill="#3fb35a"/>
<circle cx="565.44" cy="282.67" r="1.5" fill="#f24a4a"/>
<circle cx="566.00" cy="283.03" r="1.5" fill="#f24a4a"/>
<circle cx="566.56" cy="283.55" r="1.5" fill="#f24a4a"/>
<circle cx="567.12" cy="283.05" r="1.5" fill="#f24a4a"/>
<circle cx="567.68" cy="282.66" r="1.5" fill="#f24a4a"/>
<circle cx="568.24" cy="283.26" r="1.5" fill="#f24a4a"/>
<circle cx="568.80" cy="283.50" r="1.5" fill="#f24a4a"/>
<circle cx="569.36" cy="282.84" r="1.5" fill="#f24a4a"/>
<circle cx="569.91" cy="282.77" r="1.5" fill="#f24a4a"/>
<circle cx="570.47" cy="283.45" r="1.5" fill="#f24a4a"/>
<circle cx="571.03" cy="283.34" r="1.5" fill="#f24a4a"/>
<circle cx="571.59" cy="282.69" r="1.5" fill="#f24a4a"/>
<circle cx="572.15" cy="282.97" r="1.5" fill="#f24a4a"/>
<circle cx="572.89" cy="241.42" r="1.5" fill="#3fb35a"/>
<circle cx="573.45" cy="240.38" r="1.5" fill="#3fb35a"/>
<circle cx="574.01" cy="241.19" r="1.5" fill="#3fb35a"/>
<circle cx="574.57" cy="239.99" r="1.5" fill="#3fb35a"/>
<circle cx="575.13" cy="238.86" r="1.5" fill="#3fb35a"/>
<circle cx="575.69" cy="240.10" r="1.5" fill="#3fb35a"/>
<circle cx="576.25" cy="239.98" r="1.5" fill="#3fb35a"/>
<circle cx="576.81" cy="238.54" r="1.5" fill="#3fb35a"/>
<circle cx="577.36" cy="239.41" r="1.5" fill="#3fb35a"/>
<circle cx="577.92" cy="240.18" r="1.5" fill="#3fb35a"/>
<circle cx="578.48" cy="238.74" r="1.5" fill="#3fb35a"/>
<circle cx="579.04" cy="238.86" r="1.5" fill="#3fb35a"/>
<circle cx="579.60" cy="240.19" r="1.5" fill="#3fb35a"/>
<circle cx="580.34" cy="283.16" r="1.5" fill="#f24a4a"/>
<circle cx="580.90" cy="283.84" r="1.5" fill="#f24a4a"/>
<circle cx="581.46" cy="283.75" r="1.5" fill="#f24a4a"/>
<circle cx="582.02" cy="283.10" r="1.5" fill="#f24a4a"/>
<circle cx="582.58" cy="283.35" r="1.5" fill="#f24a4a"/>
<circle cx="583.14" cy="283.94" r="1.5" fill="#f24a4a"/>
<circle cx="583.70" cy="283.53" r="1.5" fill="#f24a4a"/>
<circle cx="584.26" cy="283.05" r="1.5" fill="#f24a4a"/>
<circle cx="584.82" cy="283.58" r="1.5" fill="#f24a4a"/>
<circle cx="585.37" cy="283.93" r="1.5" fill="#f24a4a"/>
<circle cx="585.93" cy="283.31" r="1.5" fill="#f24a4a"/>
<circle cx="586.49" cy="283.12" r="1.5" fill="#f24a4a"/>
<circle cx="587.05" cy="283.79" r="1.5" fill="#f24a4a"/>
<circle cx="587.80" cy="241.65" r="1.5" fill="#3fb35a"/>
<circle cx="588.35" cy="241.85" r="1.5" fill="#3fb35a"/>
<circle cx="588.91" cy="240.02" r="1.5" fill="#3fb35a"/>
<circle cx="589.47" cy="239.28" r="1.5" fill="#3fb35a"/>
<circle cx="590.03" cy="240.50" r="1.5" fill="#3fb35a"/>
<circle cx="590.59" cy="239.75" r="1.5" fill="#3fb35a"/>
<circle cx="591.15" cy="238.58" r="1.5" fill="#3fb35a"/>
<circle cx="591.71" cy="239.80" r="1.5" fill="#3fb35a"/>
<circle cx="592.27" cy="240.01" r="1.5" fill="#3fb35a"/>
<circle cx="592.82" cy="238.54" r="1.5" fill="#3fb35a"/>
<circle cx="593.38" cy="239.21" r="1.5" fill="#3fb35a"/>
<circle cx="593.94" cy="240.20" r="1.5" fill="#3fb35a"/>
<circle cx="594.50" cy="238.86" r="1.5" fill="#3fb35a"/>
<circle cx="595.25" cy="283.97" r="1.5" fill="#f24a4a"/>
<circle cx="595.80" cy="284.33" r="1.5" fill="#f24a4a"/>
<circle cx="596.36" cy="283.72" r="1.5" fill="#f24a4a"/>
<circle cx="596.92" cy="283.51" r="1.5" fill="#f24a4a"/>
<circle cx="597.48" cy="284.18" r="1.5" fill="#f24a4a"/>
<circle cx="598.04" cy="284.21" r="1.5" fill="#f24a4a"/>
<circle cx="598.60" cy="283.54" r="1.5" fill="#f24a4a"/>
<circle cx="599.16" cy="283.68" r="1.5" fill="#f24a4a"/>
<circle cx="599.72" cy="284.32" r="1.5" fill="#f24a4a"/>
<circle cx="600.28" cy="284.01" r="1.5" fill="#f24a4a"/>
<circle cx="600.83" cy="283.45" r="1.5" fill="#f24a4a"/>
<circle cx="601.39" cy="283.90" r="1.5" fill="#f24a4a"/>
<circle cx="601.95" cy="284.35" r="1.5" fill="#f24a4a"/>
<circle cx="602.70" cy="242.51" r="1.5" fill="#3fb35a"/>
<circle cx="603.26" cy="240.12" r="1.5" fill="#3fb35a"/>
<circle cx="603.81" cy="239.74" r="1.5" fill="#3fb35a"/>
<circle cx="604.37" cy="240.66" r="1.5" fill="#3fb35a"/>
<circle cx="604.93" cy="239.35" r="1.5" fill="#3fb35a"/>
<circle cx="605.49" cy="238.59" r="1.5" fill="#3fb35a"/>
<circle cx="606.05" cy="239.95" r="1.5" fill="#3fb35a"/>
<circle cx="606.61" cy="239.55" r="1.5" fill="#3fb35a"/>
<circle cx="607.17" cy="238.27" r="1.5" fill="#3fb35a"/>
<circle cx="607.73" cy="239.38" r="1.5" fill="#3fb35a"/>
<circle cx="608.28" cy="239.87" r="1.5" fill="#3fb35a"/>
<circle cx="608.84" cy="238.40" r="1.5" fill="#3fb35a"/>
<circle cx="609.40" cy="238.83" r="1.5" fill="#3fb35a"/>
<circle cx="610.15" cy="284.61" r="1.5" fill="#f24a4a"/>
<circle cx="610.71" cy="284.33" r="1.5" fill="#f24a4a"/>
<circle cx="611.26" cy="283.76" r="1.5" fill="#f24a4a"/>
<circle cx="611.82" cy="284.19" r="1.5" fill="#f24a4a"/>
<circle cx="612.38" cy="284.65" r="1.5" fill="#f24a4a"/>
<circle cx="612.94" cy="284.10" r="1.5" fill="#f24a4a"/>
<circle cx="613.50" cy="283.78" r="1.5" fill="#f24a4a"/>
<circle cx="614.06" cy="284.41" r="1.5" fill="#f24a4a"/>
<circle cx="614.62" cy="284.57" r="1.5" fill="#f24a4a"/>
<circle cx="615.18" cy="283.90" r="1.5" fill="#f24a4a"/>
<circle cx="615.74" cy="283.91" r="1.5" fill="#f24a4a"/>
<circle cx="616.29" cy="284.58" r="1.5" fill="#f24a4a"/>
<circle cx="616.85" cy="284.39" r="1.5" fill="#f24a4a"/>
<circle cx="617.60" cy="240.87" r="1.5" fill="#3fb35a"/>
<circle cx="618.16" cy="240.69" r="1.5" fill="#3fb35a"/>
<circle cx="618.72" cy="241.02" r="1.5" fill="#3fb35a"/>
<circle cx="619.27" cy="239.26" r="1.5" fill="#3fb35a"/>
<circle cx="619.83" cy="238.98" r="1.5" fill="#3fb35a"/>
<circle cx="620.39" cy="240.22" r="1.5" fill="#3fb35a"/>
<circle cx="620.95" cy="239.26" r="1.5" fill="#3fb35a"/>
<circle cx="621.51" cy="238.36" r="1.5" fill="#3fb35a"/>
<circle cx="622.07" cy="239.73" r="1.5" fill="#3fb35a"/>
<circle cx="622.63" cy="239.63" r="1.5" fill="#3fb35a"/>
<circle cx="623.19" cy="238.25" r="1.5" fill="#3fb35a"/>
<circle cx="623.74" cy="239.19" r="1.5" fill="#3fb35a"/>
<circle cx="624.30" cy="239.94" r="1.5" fill="#3fb35a"/>
<circle cx="625.05" cy="284.98" r="1.5" fill="#f24a4a"/>
<circle cx="625.61" cy="284.31" r="1.5" fill="#f24a4a"/>
<circle cx="626.17" cy="284.30" r="1.5" fill="#f24a4a"/>
<circle cx="626.72" cy="284.97" r="1.5" fill="#f24a4a"/>
<circle cx="627.28" cy="284.81" r="1.5" fill="#f24a4a"/>
<circle cx="627.84" cy="284.18" r="1.5" fill="#f24a4a"/>
<circle cx="628.40" cy="284.50" r="1.5" fill="#f24a4a"/>
<circle cx="628.96" cy="285.05" r="1.5" fill="#f24a4a"/>
<circle cx="629.52" cy="284.58" r="1.5" fill="#f24a4a"/>
<circle cx="630.08" cy="284.16" r="1.5" fill="#f24a4a"/>
<circle cx="630.64" cy="284.73" r="1.5" fill="#f24a4a"/>
<circle cx="631.20" cy="285.01" r="1.5" fill="#f24a4a"/>
<circle cx="631.75" cy="284.36" r="1.5" fill="#f24a4a"/>
<circle cx="632.50" cy="242.00" r="1.5" fill="#3fb35a"/>
<circle cx="633.06" cy="241.46" r="1.5" fill="#3fb35a"/>
<circle cx="633.62" cy="239.39" r="1.5" fill="#3fb35a"/>
<circle cx="634.18" cy="239.54" r="1.5" fill="#3fb35a"/>
<circle cx="634.73" cy="240.42" r="1.5" fill="#3fb35a"/>
<circle cx="635.29" cy="239.01" r="1.5" fill="#3fb35a"/>
<circle cx="635.85" cy="238.60" r="1.5" fill="#3fb35a"/>
<circle cx="636.41" cy="240.00" r="1.5" fill="#3fb35a"/>
<circle cx="636.97" cy="239.32" r="1.5" fill="#3fb35a"/>
<circle cx="637.53" cy="238.25" r="1.5" fill="#3fb35a"/>
<circle cx="638.09" cy="239.55" r="1.5" fill="#3fb35a"/>
<circle cx="638.65" cy="239.74" r="1.5" fill="#3fb35a"/>
<circle cx="639.20" cy="238.29" r="1.5" fill="#3fb35a"/>
<circle cx="639.95" cy="285.00" r="1.5" fill="#f24a4a"/>
<circle cx="640.51" cy="284.55" r="1.5" fill="#f24a4a"/>
<circle cx="641.07" cy="285.12" r="1.5" fill="#f24a4a"/>
<circle cx="641.63" cy="285.42" r="1.5" fill="#f24a4a"/>
<circle cx="642.18" cy="284.77" r="1.5" fill="#f24a4a"/>
<circle cx="642.74" cy="284.64" r="1.5" fill="#f24a4a"/>
<circle cx="643.30" cy="285.32" r="1.5" fill="#f24a4a"/>
<circle cx="643.86" cy="285.28" r="1.5" fill="#f24a4a"/>
<circle cx="644.42" cy="284.61" r="1.5" fill="#f24a4a"/>
<circle cx="644.98" cy="284.83" r="1.5" fill="#f24a4a"/>
<circle cx="645.54" cy="285.43" r="1.5" fill="#f24a4a"/>
<circle cx="646.10" cy="285.06" r="1.5" fill="#f24a4a"/>
<circle cx="646.66" cy="284.55" r="1.5" fill="#f24a4a"/>
<circle cx="647.40" cy="242.14" r="1.5" fill="#3fb35a"/>
<circle cx="647.96" cy="239.86" r="1.5" fill="#3fb35a"/>
<circle cx="648.52" cy="240.28" r="1.5" fill="#3fb35a"/>
<circle cx="649.08" cy="240.56" r="1.5" fill="#3fb35a"/>
<circle cx="649.64" cy="238.87" r="1.5" fill="#3fb35a"/>
<circle cx="650.19" cy="238.99" r="1.5" fill="#3fb35a"/>
<circle cx="650.75" cy="240.17" r="1.5" fill="#3fb35a"/>
<circle cx="651.31" cy="239.01" r="1.5" fill="#3fb35a"/>
<circle cx="651.87" cy="238.40" r="1.5" fill="#3fb35a"/>
<circle cx="652.43" cy="239.84" r="1.5" fill="#3fb35a"/>
<circle cx="652.99" cy="239.44" r="1.5" fill="#3fb35a"/>
<circle cx="653.55" cy="238.22" r="1.5" fill="#3fb35a"/>
<circle cx="654.11" cy="239.38" r="1.5" fill="#3fb35a"/>
<circle cx="654.85" cy="284.92" r="1.5" fill="#f24a4a"/>
<circle cx="655.41" cy="285.11" r="1.5" fill="#f24a4a"/>
<circle cx="655.97" cy="285.73" r="1.5" fill="#f24a4a"/>
<circle cx="656.53" cy="285.38" r="1.5" fill="#f24a4a"/>
<circle cx="657.09" cy="284.85" r="1.5" fill="#f24a4a"/>
<circle cx="657.64" cy="285.34" r="1.5" fill="#f24a4a"/>
<circle cx="658.20" cy="285.74" r="1.5" fill="#f24a4a"/>
<circle cx="658.76" cy="285.15" r="1.5" fill="#f24a4a"/>
<circle cx="659.32" cy="284.90" r="1.5" fill="#f24a4a"/>
<circle cx="659.88" cy="285.55" r="1.5" fill="#f24a4a"/>
<circle cx="660.44" cy="285.64" r="1.5" fill="#f24a4a"/>
<circle cx="661.00" cy="284.96" r="1.5" fill="#f24a4a"/>
<circle cx="661.56" cy="285.05" r="1.5" fill="#f24a4a"/>
<circle cx="662.30" cy="240.82" r="1.5" fill="#3fb35a"/>
<circle cx="662.86" cy="241.22" r="1.5" fill="#3fb35a"/>
<circle cx="663.42" cy="240.72" r="1.5" fill="#3fb35a"/>
<circle cx="663.98" cy="238.92" r="1.5" fill="#3fb35a"/>
<circle cx="664.54" cy="239.49" r="1.5" fill="#3fb35a"/>
<circle cx="665.10" cy="240.23" r="1.5" fill="#3fb35a"/>
<circle cx="665.65" cy="238.74" r="1.5" fill="#3fb35a"/>
<circle cx="666.21" cy="238.69" r="1.5" fill="#3fb35a"/>
<circle cx="666.77" cy="240.03" r="1.5" fill="#3fb35a"/>
<circle cx="667.33" cy="239.10" r="1.5" fill="#3fb35a"/>
<circle cx="667.89" cy="238.29" r="1.5" fill="#3fb35a"/>
<circle cx="668.45" cy="239.70" r="1.5" fill="#3fb35a"/>
<circle cx="669.01" cy="239.57" r="1.5" fill="#3fb35a"/>
<circle cx="669.75" cy="282.29" r="1.5" fill="#f24a4a"/>
<circle cx="670.31" cy="282.94" r="1.5" fill="#f24a4a"/>
<circle cx="670.87" cy="283.05" r="1.5" fill="#f24a4a"/>
<circle cx="671.43" cy="282.37" r="1.5" fill="#f24a4a"/>
<circle cx="671.99" cy="282.44" r="1.5" fill="#f24a4a"/>
<circle cx="672.55" cy="283.10" r="1.5" fill="#f24a4a"/>
<circle cx="673.10" cy="282.86" r="1.5" fill="#f24a4a"/>
<circle cx="673.66" cy="282.26" r="1.5" fill="#f24a4a"/>
<circle cx="674.22" cy="282.66" r="1.5" fill="#f24a4a"/>
<circle cx="674.78" cy="283.15" r="1.5" fill="#f24a4a"/>
<circle cx="675.34" cy="282.63" r="1.5" fill="#f24a4a"/>
<circle cx="675.90" cy="282.27" r="1.5" fill="#f24a4a"/>
<circle cx="676.46" cy="282.88" r="1.5" fill="#f24a4a"/>
<circle cx="304.67" cy="255.90" r="0.6" fill="#fff" fill-opacity="0.6"/>
<circle cx="305.79" cy="253.80" r="0.6" fill="#fff" fill-opacity="0.6"/>
<circle cx="306.91" cy="254.59" r="0.6" fill="#fff" fill-opacity="0.6"/>
<circle cx="308.03" cy="252.64" r="0.6" fill="#fff" fill-opacity="0.6"/>
<circle cx="309.14" cy="253.81" r="0.6" fill="#fff" fill-opacity="0.6"/>
<circle cx="310.26" cy="253.46" r="0.6" fill="#fff" fill-opacity="0.6"/>
<circle cx="311.38" cy="252.66" r="0.6" fill="#fff" fill-opacity="0.6"/>
<circle cx="312.68" cy="278.65" r="0.6" fill="#fff" fill-opacity="0.6"/>
<circle cx="313.80" cy="277.78" r="0.6" fill="#fff" fill-opacity="0.6"/>
<circle cx="314.92" cy="278.56" r="0.6" fill="#fff" fill-opacity="0.6"/>
<circle cx="316.03" cy="277.92" r="0.6" fill="#fff" fill-opacity="0.6"/>
<circle cx="317.15" cy="278.38" r="0.6" fill="#fff" fill-opacity="0.6"/>
<circle cx="318.27" cy="278.13" r="0.6" fill="#fff" fill-opacity="0.6"/>
<circle cx="319.57" cy="254.87" r="0.6" fill="#fff" fill-opacity="0.6"/>
<circle cx="320.69" cy="252.48" r="0.6" fill="#fff" fill-opacity="0.6"/>
<circle cx="321.81" cy="251.61" r="0.6" fill="#fff" fill-opacity="0.6"/>
<circle cx="322.93" cy="252.59" r="0.6" fill="#fff" fill-opacity="0.6"/>
<circle cx="324.04" cy="250.79" r="0.6" fill="#fff" fill-opacity="0.6"/>
<circle cx="325.16" cy="252.20" r="0.6" fill="#fff" fill-opacity="0.6"/>
<circle cx="326.28" cy="251.58" r="0.6" fill="#fff" fill-opacity="0.6"/>
<circle cx="327.58" cy="278.79" r="0.6" fill="#fff" fill-opacity="0.6"/>
<circle cx="328.70" cy="278.52" r="0.6" fill="#fff" fill-opacity="0.6"/>
<circle cx="329.82" cy="278.57" r="0.6" fill="#fff" fill-opacity="0.6"/>
<circle cx="330.94" cy="278.75" r="0.6" fill="#fff" fill-opacity="0.6"/>
<circle cx="332.05" cy="278.35" r="0.6" fill="#fff" fill-opacity="0.6"/>
<circle cx="333.17" cy="278.94" r="0.6" fill="#fff" fill-opacity="0.6"/>
<circle cx="334.47" cy="251.11" r="0.6" fill="#fff" fill-opacity="0.6"/>
<circle cx="335.59" cy="251.22" r="0.6" fill="#fff" fill-opacity="0.6"/>
<circle cx="336.71" cy="249.50" r="0.6" fill="#fff" fill-opacity="0.6"/>
<circle cx="337.83" cy="249.31" r="0.6" fill="#fff" fill-opacity="0.6"/>
<circle cx="338.95" cy="250.20" r="0.6" fill="#fff" fill-opacity="0.6"/>
<circle cx="340.06" cy="248.53" r="0.6" fill="#fff" fill-opacity="0.6"/>
<circle cx="341.18" cy="250.10" r="0.6" fill="#fff" fill-opacity="0.6"/>
<circle cx="342.48" cy="278.56" r="0.6" fill="#fff" fill-opacity="0.6"/>
<circle cx="343.60" cy="279.13" r="0.6" fill="#fff" fill-opacity="0.6"/>
<circle cx="344.72" cy="278.40" r="0.6" fill="#fff" fill-opacity="0.6"/>
<circle cx="345.84" cy="279.24" r="0.6" fill="#fff" fill-opacity="0.6"/>
<circle cx="346.95" cy="278.35" r="0.6" fill="#fff" fill-opacity="0.6"/>
<circle cx="348.07" cy="279.23" r="0.6" fill="#fff" fill-opacity="0.6"/>
<circle cx="349.38" cy="251.42" r="0.6" fill="#fff" fill-opacity="0.6"/>
<circle cx="350.49" cy="248.49" r="0.6" fill="#fff" fill-opacity="0.6"/>
<circle cx="351.61" cy="249.56" r="0.6" fill="#fff" fill-opacity="0.6"/>
<circle cx="352.73" cy="248.00" r="0.6" fill="#fff" fill-opacity="0.6"/>
<circle cx="353.85" cy="248.27" r="0.6" fill="#fff" fill-opacity="0.6"/>
<circle cx="354.96" cy="248.95" r="0.6" fill="#fff" fill-opacity="0.6"/>
<circle cx="356.08" cy="247.42" r="0.6" fill="#fff" fill-opacity="0.6"/>
<circle cx="357.39" cy="278.55" r="0.6" fill="#fff" fill-opacity="0.6"/>
<circle cx="358.50" cy="279.44" r="0.6" fill="#fff" fill-opacity="0.6"/>
<circle cx="359.62" cy="278.61" r="0.6" fill="#fff" fill-opacity="0.6"/>
<circle cx="360.74" cy="279.33" r="0.6" fill="#fff" fill-opacity="0.6"/>
<circle cx="361.86" cy="278.76" r="0.6" fill="#fff" fill-opacity="0.6"/>
<circle cx="362.97" cy="279.13" r="0.6" fill="#fff" fill-opacity="0.6"/>
<circle cx="364.28" cy="250.40" r="0.6" fill="#fff" fill-opacity="0.6"/>
<circle cx="365.39" cy="249.03" r="0.6" fill="#fff" fill-opacity="0.6"/>
<circle cx="366.51" cy="247.22" r="0.6" fill="#fff" fill-opacity="0.6"/>
<circle cx="367.63" cy="248.66" r="0.6" fill="#fff" fill-opacity="0.6"/>
<circle cx="368.75" cy="247.07" r="0.6" fill="#fff" fill-opacity="0.6"/>
<circle cx="369.87" cy="247.69" r="0.6" fill="#fff" fill-opacity="0.6"/>
<circle cx="370.98" cy="248.11" r="0.6" fill="#fff" fill-opacity="0.6"/>
<circle cx="372.29" cy="279.05" r="0.6" fill="#fff" fill-opacity="0.6"/>
<circle cx="373.40" cy="279.44" r="0.6" fill="#fff" fill-opacity="0.6"/>
<circle cx="374.52" cy="279.27" r="0.6" fill="#fff" fill-opacity="0.6"/>
<circle cx="375.64" cy="279.21" r="0.6" fill="#fff" fill-opacity="0.6"/>
<circle cx="376.76" cy="279.50" r="0.6" fill="#fff" fill-opacity="0.6"/>
<circle cx="377.87" cy="279.01" r="0.6" fill="#fff" fill-opacity="0.6"/>
<circle cx="379.18" cy="248.61" r="0.6" fill="#fff" fill-opacity="0.6"/>
<circle cx="380.30" cy="248.20" r="0.6" fill="#fff" fill-opacity="0.6"/>
<circle cx="381.41" cy="247.45" r="0.6" fill="#fff" fill-opacity="0.6"/>
<circle cx="382.53" cy="246.26" r="0.6" fill="#fff" fill-opacity="0.6"/>
<circle cx="383.65" cy="247.77" r="0.6" fill="#fff" fill-opacity="0.6"/>
<circle cx="384.77" cy="246.11" r="0.6" fill="#fff" fill-opacity="0.6"/>
<circle cx="385.88" cy="247.04" r="0.6" fill="#fff" fill-opacity="0.6"/>
<circle cx="387.19" cy="279.68" r="0.6" fill="#fff" fill-opacity="0.6"/>
<circle cx="388.31" cy="279.22" r="0.6" fill="#fff" fill-opacity="0.6"/>
<circle cx="389.42" cy="279.86" r="0.6" fill="#fff" fill-opacity="0.6"/>
<circle cx="390.54" cy="279.08" r="0.6" fill="#fff" fill-opacity="0.6"/>
<circle cx="391.66" cy="279.95" r="0.6" fill="#fff" fill-opacity="0.6"/>
<circle cx="392.78" cy="279.05" r="0.6" fill="#fff" fill-opacity="0.6"/>
<circle cx="394.08" cy="249.15" r="0.6" fill="#fff" fill-opacity="0.6"/>
<circle cx="395.20" cy="245.89" r="0.6" fill="#fff" fill-opacity="0.6"/>
<circle cx="396.31" cy="246.62" r="0.6" fill="#fff" fill-opacity="0.6"/>
<circle cx="397.43" cy="245.93" r="0.6" fill="#fff" fill-opacity="0.6"/>
<circle cx="398.55" cy="245.17" r="0.6" fill="#fff" fill-opacity="0.6"/>
<circle cx="399.67" cy="246.61" r="0.6" fill="#fff" fill-opacity="0.6"/>
<circle cx="400.79" cy="244.91" r="0.6" fill="#fff" fill-opacity="0.6"/>
<circle cx="402.09" cy="280.14" r="0.6" fill="#fff" fill-opacity="0.6"/>
<circle cx="403.21" cy="279.25" r="0.6" fill="#fff" fill-opacity="0.6"/>
<circle cx="404.32" cy="280.12" r="0.6" fill="#fff" fill-opacity="0.6"/>
<circle cx="405.44" cy="279.33" r="0.6" fill="#fff" fill-opacity="0.6"/>
<circle cx="406.56" cy="279.99" r="0.6" fill="#fff" fill-opacity="0.6"/>
<circle cx="407.68" cy="279.51" r="0.6" fill="#fff" fill-opacity="0.6"/>
<circle cx="408.98" cy="245.66" r="0.6" fill="#fff" fill-opacity="0.6"/>
<circle cx="410.10" cy="245.23" r="0.6" fill="#fff" fill-opacity="0.6"/>
<circle cx="411.22" cy="242.93" r="0.6" fill="#fff" fill-opacity="0.6"/>
<circle cx="412.33" cy="244.20" r="0.6" fill="#fff" fill-opacity="0.6"/>
<circle cx="413.45" cy="243.36" r="0.6" fill="#fff" fill-opacity="0.6"/>
<circle cx="414.57" cy="242.96" r="0.6" fill="#fff" fill-opacity="0.6"/>
<circle cx="415.69" cy="244.25" r="0.6" fill="#fff" fill-opacity="0.6"/>
<circle cx="416.99" cy="280.30" r="0.6" fill="#fff" fill-opacity="0.6"/>
<circle cx="418.11" cy="279.80" r="0.6" fill="#fff" fill-opacity="0.6"/>
<circle cx="419.23" cy="280.09" r="0.6" fill="#fff" fill-opacity="0.6"/>
<circle cx="420.34" cy="280.02" r="0.6" fill="#fff" fill-opacity="0.6"/>
<circle cx="421.46" cy="279.86" r="0.6" fill="#fff" fill-opacity="0.6"/>
<circle cx="422.58" cy="280.24" r="0.6" fill="#fff" fill-opacity="0.6"/>
<circle cx="423.88" cy="244.51" r="0.6" fill="#fff" fill-opacity="0.6"/>
<circle cx="425.00" cy="243.16" r="0.6" fill="#fff" fill-opacity="0.6"/>
<circle cx="426.12" cy="243.41" r="0.6" fill="#fff" fill-opacity="0.6"/>
<circle cx="427.23" cy="241.57" r="0.6" fill="#fff" fill-opacity="0.6"/>
<circle cx="428.35" cy="243.10" r="0.6" fill="#fff" fill-opacity="0.6"/>
<circle cx="429.47" cy="242.06" r="0.6" fill="#fff" fill-opacity="0.6"/>
<circle cx="430.59" cy="241.99" r="0.6" fill="#fff" fill-opacity="0.6"/>
<circle cx="431.89" cy="280.08" r="0.6" fill="#fff" fill-opacity="0.6"/>
<circle cx="433.01" cy="280.43" r="0.6" fill="#fff" fill-opacity="0.6"/>
<circle cx="434.13" cy="279.88" r="0.6" fill="#fff" fill-opacity="0.6"/>
<circle cx="435.24" cy="280.59" r="0.6" fill="#fff" fill-opacity="0.6"/>
<circle cx="436.36" cy="279.77" r="0.6" fill="#fff" fill-opacity="0.6"/>
<circle cx="437.48" cy="280.65" r="0.6" fill="#fff" fill-opacity="0.6"/>
<circle cx="438.78" cy="246.07" r="0.6" fill="#fff" fill-opacity="0.6"/>
<circle cx="439.90" cy="243.12" r="0.6" fill="#fff" fill-opacity="0.6"/>
<circle cx="441.02" cy="243.00" r="0.6" fill="#fff" fill-opacity="0.6"/>
<circle cx="442.14" cy="243.34" r="0.6" fill="#fff" fill-opacity="0.6"/>
<circle cx="443.25" cy="241.79" r="0.6" fill="#fff" fill-opacity="0.6"/>
<circle cx="444.37" cy="243.45" r="0.6" fill="#fff" fill-opacity="0.6"/>
<circle cx="445.49" cy="242.19" r="0.6" fill="#fff" fill-opacity="0.6"/>
<circle cx="446.79" cy="279.97" r="0.6" fill="#fff" fill-opacity="0.6"/>
<circle cx="447.91" cy="280.85" r="0.6" fill="#fff" fill-opacity="0.6"/>
<circle cx="449.03" cy="279.96" r="0.6" fill="#fff" fill-opacity="0.6"/>
<circle cx="450.15" cy="280.80" r="0.6" fill="#fff" fill-opacity="0.6"/>
<circle cx="451.26" cy="280.07" r="0.6" fill="#fff" fill-opacity="0.6"/>
<circle cx="452.38" cy="280.64" r="0.6" fill="#fff" fill-opacity="0.6"/>
<circle cx="453.68" cy="243.94" r="0.6" fill="#fff" fill-opacity="0.6"/>
<circle cx="454.80" cy="244.04" r="0.6" fill="#fff" fill-opacity="0.6"/>
<circle cx="455.92" cy="241.87" r="0.6" fill="#fff" fill-opacity="0.6"/>
<circle cx="457.04" cy="242.41" r="0.6" fill="#fff" fill-opacity="0.6"/>
<circle cx="458.15" cy="242.60" r="0.6" fill="#fff" fill-opacity="0.6"/>
<circle cx="459.27" cy="241.30" r="0.6" fill="#fff" fill-opacity="0.6"/>
<circle cx="460.39" cy="242.98" r="0.6" fill="#fff" fill-opacity="0.6"/>
<circle cx="461.69" cy="280.26" r="0.6" fill="#fff" fill-opacity="0.6"/>
<circle cx="462.81" cy="280.86" r="0.6" fill="#fff" fill-opacity="0.6"/>
<circle cx="463.93" cy="280.45" r="0.6" fill="#fff" fill-opacity="0.6"/>
<circle cx="465.05" cy="280.64" r="0.6" fill="#fff" fill-opacity="0.6"/>
<circle cx="466.16" cy="280.67" r="0.6" fill="#fff" fill-opacity="0.6"/>
<circle cx="467.28" cy="280.41" r="0.6" fill="#fff" fill-opacity="0.6"/>
<circle cx="468.59" cy="244.35" r="0.6" fill="#fff" fill-opacity="0.6"/>
<circle cx="469.70" cy="241.99" r="0.6" fill="#fff" fill-opacity="0.6"/>
<circle cx="470.82" cy="242.92" r="0.6" fill="#fff" fill-opacity="0.6"/>
<circle cx="471.94" cy="241.01" r="0.6" fill="#fff" fill-opacity="0.6"/>
<circle cx="473.06" cy="241.97" r="0.6" fill="#fff" fill-opacity="0.6"/>
<circle cx="474.17" cy="241.91" r="0.6" fill="#fff" fill-opacity="0.6"/>
<circle cx="475.29" cy="240.87" r="0.6" fill="#fff" fill-opacity="0.6"/>
<circle cx="476.60" cy="280.86" r="0.6" fill="#fff" fill-opacity="0.6"/>
<circle cx="477.71" cy="280.63" r="0.6" fill="#fff" fill-opacity="0.6"/>
<circle cx="478.83" cy="281.07" r="0.6" fill="#fff" fill-opacity="0.6"/>
<circle cx="479.95" cy="280.45" r="0.6" fill="#fff" fill-opacity="0.6"/>
<circle cx="481.07" cy="281.21" r="0.6" fill="#fff" fill-opacity="0.6"/>
<circle cx="482.18" cy="280.35" r="0.6" fill="#fff" fill-opacity="0.6"/>
<circle cx="483.49" cy="244.56" r="0.6" fill="#fff" fill-opacity="0.6"/>
<circle cx="484.60" cy="242.43" r="0.6" fill="#fff" fill-opacity="0.6"/>
<circle cx="485.72" cy="241.28" r="0.6" fill="#fff" fill-opacity="0.6"/>
<circle cx="486.84" cy="242.44" r="0.6" fill="#fff" fill-opacity="0.6"/>
<circle cx="487.96" cy="240.64" r="0.6" fill="#fff" fill-opacity="0.6"/>
<circle cx="489.07" cy="241.88" r="0.6" fill="#fff" fill-opacity="0.6"/>
<circle cx="490.19" cy="241.53" r="0.6" fill="#fff" fill-opacity="0.6"/>
<circle cx="491.50" cy="281.61" r="0.6" fill="#fff" fill-opacity="0.6"/>
<circle cx="492.61" cy="280.76" r="0.6" fill="#fff" fill-opacity="0.6"/>
<circle cx="493.73" cy="281.65" r="0.6" fill="#fff" fill-opacity="0.6"/>
<circle cx="494.85" cy="280.78" r="0.6" fill="#fff" fill-opacity="0.6"/>
<circle cx="495.97" cy="281.57" r="0.6" fill="#fff" fill-opacity="0.6"/>
<circle cx="497.08" cy="280.90" r="0.6" fill="#fff" fill-opacity="0.6"/>
<circle cx="498.39" cy="242.80" r="0.6" fill="#fff" fill-opacity="0.6"/>
<circle cx="499.51" cy="242.83" r="0.6" fill="#fff" fill-opacity="0.6"/>
<circle cx="500.62" cy="241.34" r="0.6" fill="#fff" fill-opacity="0.6"/>
<circle cx="501.74" cy="240.87" r="0.6" fill="#fff" fill-opacity="0.6"/>
<circle cx="502.86" cy="241.98" r="0.6" fill="#fff" fill-opacity="0.6"/>
<circle cx="503.98" cy="240.25" r="0.6" fill="#fff" fill-opacity="0.6"/>
<circle cx="505.09" cy="241.70" r="0.6" fill="#fff" fill-opacity="0.6"/>
<circle cx="506.40" cy="281.88" r="0.6" fill="#fff" fill-opacity="0.6"/>
<circle cx="507.52" cy="281.19" r="0.6" fill="#fff" fill-opacity="0.6"/>
<circle cx="508.63" cy="281.71" r="0.6" fill="#fff" fill-opacity="0.6"/>
<circle cx="509.75" cy="281.40" r="0.6" fill="#fff" fill-opacity="0.6"/>
<circle cx="510.87" cy="281.49" r="0.6" fill="#fff" fill-opacity="0.6"/>
<circle cx="511.99" cy="281.63" r="0.6" fill="#fff" fill-opacity="0.6"/>
<circle cx="513.29" cy="243.54" r="0.6" fill="#fff" fill-opacity="0.6"/>
<circle cx="514.41" cy="240.45" r="0.6" fill="#fff" fill-opacity="0.6"/>
<circle cx="515.52" cy="241.50" r="0.6" fill="#fff" fill-opacity="0.6"/>
<circle cx="516.64" cy="240.13" r="0.6" fill="#fff" fill-opacity="0.6"/>
<circle cx="517.76" cy="240.12" r="0.6" fill="#fff" fill-opacity="0.6"/>
<circle cx="518.88" cy="241.05" r="0.6" fill="#fff" fill-opacity="0.6"/>
<circle cx="519.99" cy="239.41" r="0.6" fill="#fff" fill-opacity="0.6"/>
<circle cx="521.30" cy="281.90" r="0.6" fill="#fff" fill-opacity="0.6"/>
<circle cx="522.42" cy="282.01" r="0.6" fill="#fff" fill-opacity="0.6"/>
<circle cx="523.53" cy="281.68" r="0.6" fill="#fff" fill-opacity="0.6"/>
<circle cx="524.65" cy="282.21" r="0.6" fill="#fff" fill-opacity="0.6"/>
<circle cx="525.77" cy="281.52" r="0.6" fill="#fff" fill-opacity="0.6"/>
<circle cx="526.89" cy="282.33" r="0.6" fill="#fff" fill-opacity="0.6"/>
<circle cx="528.19" cy="242.35" r="0.6" fill="#fff" fill-opacity="0.6"/>
<circle cx="529.31" cy="241.26" r="0.6" fill="#fff" fill-opacity="0.6"/>
<circle cx="530.43" cy="239.27" r="0.6" fill="#fff" fill-opacity="0.6"/>
<circle cx="531.54" cy="240.72" r="0.6" fill="#fff" fill-opacity="0.6"/>
<circle cx="532.66" cy="239.29" r="0.6" fill="#fff" fill-opacity="0.6"/>
<circle cx="533.78" cy="239.64" r="0.6" fill="#fff" fill-opacity="0.6"/>
<circle cx="534.90" cy="240.33" r="0.6" fill="#fff" fill-opacity="0.6"/>
<circle cx="536.20" cy="281.92" r="0.6" fill="#fff" fill-opacity="0.6"/>
<circle cx="537.32" cy="282.73" r="0.6" fill="#fff" fill-opacity="0.6"/>
<circle cx="538.44" cy="281.85" r="0.6" fill="#fff" fill-opacity="0.6"/>
<circle cx="539.55" cy="282.74" r="0.6" fill="#fff" fill-opacity="0.6"/>
<circle cx="540.67" cy="281.90" r="0.6" fill="#fff" fill-opacity="0.6"/>
<circle cx="541.79" cy="282.64" r="0.6" fill="#fff" fill-opacity="0.6"/>
<circle cx="543.09" cy="241.40" r="0.6" fill="#fff" fill-opacity="0.6"/>
<circle cx="544.21" cy="240.76" r="0.6" fill="#fff" fill-opacity="0.6"/>
<circle cx="545.33" cy="240.29" r="0.6" fill="#fff" fill-opacity="0.6"/>
<circle cx="546.44" cy="238.88" r="0.6" fill="#fff" fill-opacity="0.6"/>
<circle cx="547.56" cy="240.46" r="0.6" fill="#fff" fill-opacity="0.6"/>
<circle cx="548.68" cy="238.92" r="0.6" fill="#fff" fill-opacity="0.6"/>
<circle cx="549.80" cy="239.59" r="0.6" fill="#fff" fill-opacity="0.6"/>
<circle cx="551.10" cy="282.29" r="0.6" fill="#fff" fill-opacity="0.6"/>
<circle cx="552.22" cy="283.05" r="0.6" fill="#fff" fill-opacity="0.6"/>
<circle cx="553.34" cy="282.43" r="0.6" fill="#fff" fill-opacity="0.6"/>
<circle cx="554.45" cy="282.86" r="0.6" fill="#fff" fill-opacity="0.6"/>
<circle cx="555.57" cy="282.65" r="0.6" fill="#fff" fill-opacity="0.6"/>
<circle cx="556.69" cy="282.64" r="0.6" fill="#fff" fill-opacity="0.6"/>
<circle cx="557.99" cy="242.99" r="0.6" fill="#fff" fill-opacity="0.6"/>
<circle cx="559.11" cy="239.75" r="0.6" fill="#fff" fill-opacity="0.6"/>
<circle cx="560.23" cy="240.29" r="0.6" fill="#fff" fill-opacity="0.6"/>
<circle cx="561.35" cy="239.88" r="0.6" fill="#fff" fill-opacity="0.6"/>
<circle cx="562.46" cy="238.87" r="0.6" fill="#fff" fill-opacity="0.6"/>
<circle cx="563.58" cy="240.43" r="0.6" fill="#fff" fill-opacity="0.6"/>
<circle cx="564.70" cy="238.79" r="0.6" fill="#fff" fill-opacity="0.6"/>
<circle cx="566.00" cy="283.03" r="0.6" fill="#fff" fill-opacity="0.6"/>
<circle cx="567.12" cy="283.05" r="0.6" fill="#fff" fill-opacity="0.6"/>
<circle cx="568.24" cy="283.26" r="0.6" fill="#fff" fill-opacity="0.6"/>
<circle cx="569.36" cy="282.84" r="0.6" fill="#fff" fill-opacity="0.6"/>
<circle cx="570.47" cy="283.45" r="0.6" fill="#fff" fill-opacity="0.6"/>
<circle cx="571.59" cy="282.69" r="0.6" fill="#fff" fill-opacity="0.6"/>
<circle cx="572.89" cy="241.42" r="0.6" fill="#fff" fill-opacity="0.6"/>
<circle cx="574.01" cy="241.19" r="0.6" fill="#fff" fill-opacity="0.6"/>
<circle cx="575.13" cy="238.86" r="0.6" fill="#fff" fill-opacity="0.6"/>
<circle cx="576.25" cy="239.98" r="0.6" fill="#fff" fill-opacity="0.6"/>
<circle cx="577.36" cy="239.41" r="0.6" fill="#fff" fill-opacity="0.6"/>
<circle cx="578.48" cy="238.74" r="0.6" fill="#fff" fill-opacity="0.6"/>
<circle cx="579.60" cy="240.19" r="0.6" fill="#fff" fill-opacity="0.6"/>
<circle cx="580.90" cy="283.84" r="0.6" fill="#fff" fill-opacity="0.6"/>
<circle cx="582.02" cy="283.10" r="0.6" fill="#fff" fill-opacity="0.6"/>
<circle cx="583.14" cy="283.94" r="0.6" fill="#fff" fill-opacity="0.6"/>
<circle cx="584.26" cy="283.05" r="0.6" fill="#fff" fill-opacity="0.6"/>
<circle cx="585.37" cy="283.93" r="0.6" fill="#fff" fill-opacity="0.6"/>
<circle cx="586.49" cy="283.12" r="0.6" fill="#fff" fill-opacity="0.6"/>
<circle cx="587.80" cy="241.65" r="0.6" fill="#fff" fill-opacity="0.6"/>
<circle cx="588.91" cy="240.02" r="0.6" fill="#fff" fill-opacity="0.6"/>
<circle cx="590.03" cy="240.50" r="0.6" fill="#fff" fill-opacity="0.6"/>
<circle cx="591.15" cy="238.58" r="0.6" fill="#fff" fill-opacity="0.6"/>
<circle cx="592.27" cy="240.01" r="0.6" fill="#fff" fill-opacity="0.6"/>
<circle cx="593.38" cy="239.21" r="0.6" fill="#fff" fill-opacity="0.6"/>
<circle cx="594.50" cy="238.86" r="0.6" fill="#fff" fill-opacity="0.6"/>
<circle cx="595.80" cy="284.33" r="0.6" fill="#fff" fill-opacity="0.6"/>
<circle cx="596.92" cy="283.51" r="0.6" fill="#fff" fill-opacity="0.6"/>
<circle cx="598.04" cy="284.21" r="0.6" fill="#fff" fill-opacity="0.6"/>
<circle cx="599.16" cy="283.68" r="0.6" fill="#fff" fill-opacity="0.6"/>
<circle cx="600.28" cy="284.01" r="0.6" fill="#fff" fill-opacity="0.6"/>
<circle cx="601.39" cy="283.90" r="0.6" fill="#fff" fill-opacity="0.6"/>
<circle cx="602.70" cy="242.51" r="0.6" fill="#fff" fill-opacity="0.6"/>
<circle cx="603.81" cy="239.74" r="0.6" fill="#fff" fill-opacity="0.6"/>
<circle cx="604.93" cy="239.35" r="0.6" fill="#fff" fill-opacity="0.6"/>
<circle cx="606.05" cy="239.95" r="0.6" fill="#fff" fill-opacity="0.6"/>
<circle cx="607.17" cy="238.27" r="0.6" fill="#fff" fill-opacity="0.6"/>
<circle cx="608.28" cy="239.87" r="0.6" fill="#fff" fill-opacity="0.6"/>
<circle cx="609.40" cy="238.83" r="0.6" fill="#fff" fill-opacity="0.6"/>
<circle cx="610.71" cy="284.33" r="0.6" fill="#fff" fill-opacity="0.6"/>
<circle cx="611.82" cy="284.19" r="0.6" fill="#fff" fill-opacity="0.6"/>
<circle cx="612.94" cy="284.10" r="0.6" fill="#fff" fill-opacity="0.6"/>
<circle cx="614.06" cy="284.41" r="0.6" fill="#fff" fill-opacity="0.6"/>
<circle cx="615.18" cy="283.90" r="0.6" fill="#fff" fill-opacity="0.6"/>
<circle cx="616.29" cy="284.58" r="0.6" fill="#fff" fill-opacity="0.6"/>
<circle cx="617.60" cy="240.87" r="0.6" fill="#fff" fill-opacity="0.6"/>
<circle cx="618.72" cy="241.02" r="0.6" fill="#fff" fill-opacity="0.6"/>
<circle cx="619.83" cy="238.98" r="0.6" fill="#fff" fill-opacity="0.6"/>
<circle cx="620.95" cy="239.26" r="0.6" fill="#fff" fill-opacity="0.6"/>
<circle cx="622.07" cy="239.73" r="0.6" fill="#fff" fill-opacity="0.6"/>
<circle cx="623.19" cy="238.25" r="0.6" fill="#fff" fill-opacity="0.6"/>
<circle cx="624.30" cy="239.94" r="0.6" fill="#fff" fill-opacity="0.6"/>
<circle cx="625.61" cy="284.31" r="0.6" fill="#fff" fill-opacity="0.6"/>
<circle cx="626.72" cy="284.97" r="0.6" fill="#fff" fill-opacity="0.6"/>
<circle cx="627.84" cy="284.18" r="0.6" fill="#fff" fill-opacity="0.6"/>
<circle cx="628.96" cy="285.05" r="0.6" fill="#fff" fill-opacity="0.6"/>
<circle cx="630.08" cy="284.16" r="0.6" fill="#fff" fill-opacity="0.6"/>
<circle cx="631.20" cy="285.01" r="0.6" fill="#fff" fill-opacity="0.6"/>
<circle cx="632.50" cy="242.00" r="0.6" fill="#fff" fill-opacity="0.6"/>
<circle cx="633.62" cy="239.39" r="0.6" fill="#fff" fill-opacity="0.6"/>
<circle cx="634.73" cy="240.42" r="0.6" fill="#fff" fill-opacity="0.6"/>
<circle cx="635.85" cy="238.60" r="0.6" fill="#fff" fill-opacity="0.6"/>
<circle cx="636.97" cy="239.32" r="0.6" fill="#fff" fill-opacity="0.6"/>
<circle cx="638.09" cy="239.55" r="0.6" fill="#fff" fill-opacity="0.6"/>
<circle cx="639.20" cy="238.29" r="0.6" fill="#fff" fill-opacity="0.6"/>
<circle cx="640.51" cy="284.55" r="0.6" fill="#fff" fill-opacity="0.6"/>
<circle cx="641.63" cy="285.42" r="0.6" fill="#fff" fill-opacity="0.6"/>
<circle cx="642.74" cy="284.64" r="0.6" fill="#fff" fill-opacity="0.6"/>
<circle cx="643.86" cy="285.28" r="0.6" fill="#fff" fill-opacity="0.6"/>
<circle cx="644.98" cy="284.83" r="0.6" fill="#fff" fill-opacity="0.6"/>
<circle cx="646.10" cy="285.06" r="0.6" fill="#fff" fill-opacity="0.6"/>
<circle cx="647.40" cy="242.14" r="0.6" fill="#fff" fill-opacity="0.6"/>
<circle cx="648.52" cy="240.28" r="0.6" fill="#fff" fill-opacity="0.6"/>
<circle cx="649.64" cy="238.87" r="0.6" fill="#fff" fill-opacity="0.6"/>
<circle cx="650.75" cy="240.17" r="0.6" fill="#fff" fill-opacity="0.6"/>
<circle cx="651.87" cy="238.40" r="0.6" fill="#fff" fill-opacity="0.6"/>
<circle cx="652.99" cy="239.44" r="0.6" fill="#fff" fill-opacity="0.6"/>
<circle cx="654.11" cy="239.38" r="0.6" fill="#fff" fill-opacity="0.6"/>
<circle cx="655.41" cy="285.11" r="0.6" fill="#fff" fill-opacity="0.6"/>
<circle cx="656.53" cy="285.38" r="0.6" fill="#fff" fill-opacity="0.6"/>
<circle cx="657.64" cy="285.34" r="0.6" fill="#fff" fill-opacity="0.6"/>
<circle cx="658.76" cy="285.15" r="0.6" fill="#fff" fill-opacity="0.6"/>
<circle cx="659.88" cy="285.55" r="0.6" fill="#fff" fill-opacity="0.6"/>
<circle cx="661.00" cy="284.96" r="0.6" fill="#fff" fill-opacity="0.6"/>
<circle cx="662.30" cy="240.82" r="0.6" fill="#fff" fill-opacity="0.6"/>
<circle cx="663.42" cy="240.72" r="0.6" fill="#fff" fill-opacity="0.6"/>
<circle cx="664.54" cy="239.49" r="0.6" fill="#fff" fill-opacity="0.6"/>
<circle cx="665.65" cy="238.74" r="0.6" fill="#fff" fill-opacity="0.6"/>
<circle cx="666.77" cy="240.03" r="0.6" fill="#fff" fill-opacity="0.6"/>
<circle cx="667.89" cy="238.29" r="0.6" fill="#fff" fill-opacity="0.6"/>
<circle cx="669.01" cy="239.57" r="0.6" fill="#fff" fill-opacity="0.6"/>
<circle cx="670.31" cy="282.94" r="0.6" fill="#fff" fill-opacity="0.6"/>
<circle cx="671.43" cy="282.37" r="0.6" fill="#fff" fill-opacity="0.6"/>
<circle cx="672.55" cy="283.10" r="0.6" fill="#fff" fill-opacity="0.6"/>
<circle cx="673.66" cy="282.26" r="0.6" fill="#fff" fill-opacity="0.6"/>
<circle cx="674.78" cy="283.15" r="0.6" fill="#fff" fill-opacity="0.6"/>
<circle cx="675.90" cy="282.27" r="0.6" fill="#fff" fill-opacity="0.6"/>
<circle cx="426.8" cy="235.5" r="1.45" fill="#3fb35a"/>
<circle cx="441.0" cy="235.4" r="1.45" fill="#3fb35a"/>
<circle cx="441.6" cy="237.6" r="1.45" fill="#3fb35a"/>
<circle cx="442" cy="248.3" r="1.45" fill="#3fb35a"/>
<circle cx="457.7" cy="264.7" r="1.45" fill="#3fb35a"/>
<circle cx="515.2" cy="264.7" r="1.45" fill="#3fb35a"/>
<circle cx="440.3" cy="278.8" r="1.45" fill="#3fb35a"/>
<circle cx="444.2" cy="283.2" r="1.45" fill="#3fb35a"/>
<circle cx="483.0" cy="292.9" r="1.45" fill="#3fb35a"/>
<circle cx="543.7" cy="253.7" r="1.45" fill="#3fb35a"/>
<circle cx="573" cy="262" r="1.45" fill="#3fb35a"/>
<circle cx="577.7" cy="233.8" r="1.45" fill="#3fb35a"/>
<circle cx="602.2" cy="255.2" r="1.45" fill="#3fb35a"/>
<circle cx="542.6" cy="280.7" r="1.45" fill="#3fb35a"/>
<circle cx="647.6" cy="235.8" r="1.45" fill="#3fb35a"/>
<circle cx="652.3" cy="243.2" r="1.45" fill="#3fb35a"/>
<circle cx="651.4" cy="251" r="1.45" fill="#3fb35a"/>
<circle cx="649.3" cy="259.4" r="1.45" fill="#3fb35a"/>
<circle cx="653.5" cy="260" r="1.45" fill="#3fb35a"/>
<circle cx="668.7" cy="247.8" r="1.45" fill="#3fb35a"/>
<circle cx="609.3" cy="276.8" r="1.45" fill="#3fb35a"/>
<circle cx="646.6" cy="290.5" r="1.45" fill="#3fb35a"/>
<circle cx="661.3" cy="288.4" r="1.45" fill="#3fb35a"/>
<circle cx="664.9" cy="287" r="1.45" fill="#3fb35a"/>
<circle cx="535.4" cy="312.2" r="1.2" fill="#f24a4a"/>
<circle cx="512.2" cy="292.2" r="1.2" fill="#f24a4a"/>
</svg></body></html>
